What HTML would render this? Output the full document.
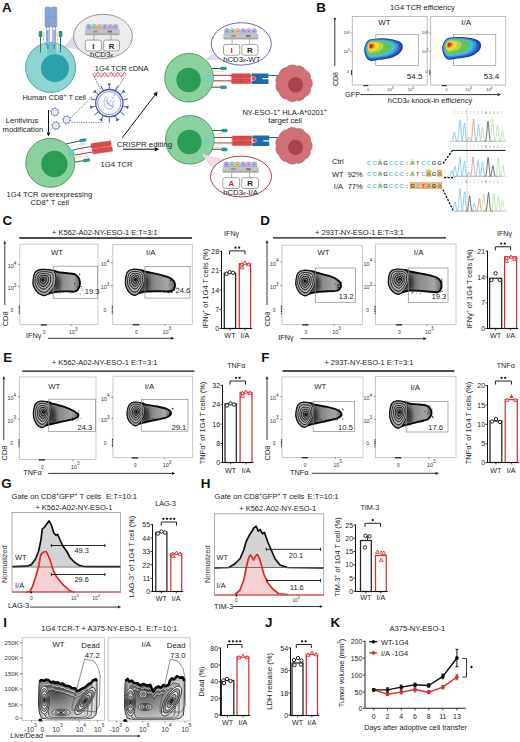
<!DOCTYPE html>
<html><head><meta charset="utf-8"><style>
html,body{margin:0;padding:0;background:#fff;}
svg{display:block;font-family:"Liberation Sans",sans-serif;}
</style></head><body>
<svg width="520" height="742" viewBox="0 0 520 742">
<defs>
<linearGradient id="gtail" x1="0" y1="0" x2="1" y2="0"><stop offset="0" stop-color="#2a2a2a"/><stop offset="0.35" stop-color="#5a5a5a"/><stop offset="0.6" stop-color="#8c8c8c"/><stop offset="0.85" stop-color="#a6a6a6"/><stop offset="1" stop-color="#6a6a6a"/></linearGradient><filter id="bl" x="-50%" y="-50%" width="200%" height="200%"><feGaussianBlur stdDeviation="1.5"/></filter>
<radialGradient id="tcell" cx="0.5" cy="0.5" r="0.5"><stop offset="0" stop-color="#b04a50"/><stop offset="1" stop-color="#cf7479"/></radialGradient>
<radialGradient id="giw" cx="0.3" cy="0.35" r="0.7"><stop offset="0" stop-color="#4a4a4a"/><stop offset="0.45" stop-color="#8a8a8a"/><stop offset="1" stop-color="#cfcfcf"/></radialGradient>
<radialGradient id="gia" cx="0.35" cy="0.35" r="0.7"><stop offset="0" stop-color="#4a4a4a"/><stop offset="0.45" stop-color="#8a8a8a"/><stop offset="1" stop-color="#cfcfcf"/></radialGradient>
</defs>
<text x="1.9" y="11.8" font-size="13.4" text-anchor="start" fill="#111" font-weight="bold">A</text>
<path d="M64,47 L79,28 L80,50 Z" fill="#dcdcec" stroke="none" stroke-width="1"/>
<circle cx="50.6" cy="67.5" r="25" fill="#8ed4d1" stroke="#4a9e9e" stroke-width="0.9"/>
<rect x="47" y="44" width="9" height="13" fill="#74c8c6" stroke="none" stroke-width="1" rx="0"/>
<circle cx="55" cy="68.2" r="14" fill="#2ba2aa" stroke="none" stroke-width="1"/>
<line x1="40.5" y1="36" x2="40.5" y2="52.5" stroke="#1f7f77" stroke-width="1.0"/>
<line x1="60.5" y1="36" x2="60.5" y2="52.5" stroke="#1f7f77" stroke-width="1.0"/>
<line x1="43.5" y1="36" x2="43.5" y2="50" stroke="#b8dcc0" stroke-width="1.0"/>
<line x1="57.5" y1="36" x2="57.5" y2="50" stroke="#f2d8a8" stroke-width="1.0"/>
<rect x="45" y="7" width="5.6" height="20" fill="#8aa3d6" stroke="#6e88c0" stroke-width="0.5" rx="1"/>
<rect x="51.2" y="7" width="5.6" height="20" fill="#8aa3d6" stroke="#6e88c0" stroke-width="0.5" rx="1"/>
<line x1="45.5" y1="17" x2="50.2" y2="17" stroke="#6e88c0" stroke-width="0.5"/>
<line x1="51.7" y1="17" x2="56.4" y2="17" stroke="#6e88c0" stroke-width="0.5"/>
<rect x="46.6" y="27" width="2.6" height="18" fill="#fff" stroke="#5a78b8" stroke-width="0.6" rx="0"/>
<rect x="52.8" y="27" width="2.6" height="18" fill="#fff" stroke="#5a78b8" stroke-width="0.6" rx="0"/>
<line x1="47.9" y1="30" x2="47.9" y2="49" stroke="#3d62b0" stroke-width="0.9"/>
<line x1="54.1" y1="30" x2="54.1" y2="49" stroke="#3d62b0" stroke-width="0.9"/>
<rect x="38.8" y="31" width="3.6" height="6" fill="#239387" stroke="none" stroke-width="1" rx="1"/>
<rect x="58.8" y="31" width="3.6" height="6" fill="#239387" stroke="none" stroke-width="1" rx="1"/>
<rect x="42.2" y="32" width="2.8" height="5" fill="#d5e8cc" stroke="none" stroke-width="1" rx="1"/>
<rect x="56.2" y="32" width="2.8" height="5" fill="#f6ddb0" stroke="none" stroke-width="1" rx="1"/>
<ellipse cx="103" cy="36.4" rx="29.4" ry="22.1" fill="#ececec" stroke="#8a8a8a" stroke-width="0.9"/>
<path d="M86.30,29.30 v-3.4 q0,-1.6 2.43,-1.7 q2.43,0.1 2.43,1.7 v3.4 z" fill="#a2aee6" stroke="#8080b0" stroke-width="0.3"/>
<circle cx="88.73333333333333" cy="27.0" r="0.5" fill="#444" stroke="none" stroke-width="1"/>
<path d="M91.67,29.30 v-3.4 q0,-1.6 2.43,-1.7 q2.43,0.1 2.43,1.7 v3.4 z" fill="#96d4a8" stroke="#8080b0" stroke-width="0.3"/>
<circle cx="94.1" cy="27.0" r="0.5" fill="#444" stroke="none" stroke-width="1"/>
<path d="M97.03,29.30 v-3.4 q0,-1.6 2.43,-1.7 q2.43,0.1 2.43,1.7 v3.4 z" fill="#f5b87a" stroke="#8080b0" stroke-width="0.3"/>
<circle cx="99.46666666666667" cy="27.0" r="0.5" fill="#444" stroke="none" stroke-width="1"/>
<path d="M102.40,29.30 v-3.4 q0,-1.6 2.43,-1.7 q2.43,0.1 2.43,1.7 v3.4 z" fill="#a8b2e8" stroke="#8080b0" stroke-width="0.3"/>
<circle cx="104.83333333333334" cy="27.0" r="0.5" fill="#444" stroke="none" stroke-width="1"/>
<path d="M107.77,29.30 v-3.4 q0,-1.6 2.43,-1.7 q2.43,0.1 2.43,1.7 v3.4 z" fill="#cfa6e6" stroke="#8080b0" stroke-width="0.3"/>
<circle cx="110.2" cy="27.0" r="0.5" fill="#444" stroke="none" stroke-width="1"/>
<path d="M113.13,29.30 v-3.4 q0,-1.6 2.43,-1.7 q2.43,0.1 2.43,1.7 v3.4 z" fill="#a6b4ea" stroke="#8080b0" stroke-width="0.3"/>
<circle cx="115.56666666666666" cy="27.0" r="0.5" fill="#444" stroke="none" stroke-width="1"/>
<rect x="85.3" y="29.6" width="34.2" height="5.4" fill="#c4c4c4" stroke="#a0a0a0" stroke-width="0.3" rx="0.8"/>
<rect x="85.8" y="33.2" width="33.2" height="1.6" fill="#a8a8a8" stroke="none" stroke-width="1" rx="0"/>
<rect x="92.824" y="30.700000000000003" width="4.788000000000001" height="1.8" fill="#b08a8a" stroke="none" stroke-width="1" rx="0"/>
<rect x="107.872" y="30.700000000000003" width="4.104" height="1.8" fill="#707070" stroke="none" stroke-width="1" rx="0"/>
<line x1="93.85" y1="35.0" x2="93.85" y2="40.1" stroke="#666" stroke-width="0.5"/>
<line x1="110.95" y1="35.0" x2="110.95" y2="40.1" stroke="#666" stroke-width="0.5"/>
<rect x="85.3" y="40.1" width="16.1" height="10.8" fill="#fff" stroke="#666" stroke-width="0.6" rx="2.2"/>
<rect x="103.4" y="40.1" width="16.1" height="10.8" fill="#fff" stroke="#666" stroke-width="0.6" rx="2.2"/>
<text x="93.35" y="48.5" font-size="7.8" text-anchor="middle" fill="#222" font-weight="bold">I</text>
<text x="111.45" y="48.5" font-size="7.8" text-anchor="middle" fill="#222" font-weight="bold">R</text>
<text x="101.5" y="57.2" font-size="8" text-anchor="middle" fill="#222">hCD3<tspan font-size="6" font-style="italic">&#949;</tspan></text>
<text x="22.5" y="99.7" font-size="7.45" text-anchor="start" fill="#222">Human CD8<tspan font-size="5.2" dy="-3.0">+</tspan><tspan dy="3.0"> T cell</tspan></text>
<text x="94.8" y="71.3" font-size="7.6" text-anchor="start" fill="#222">1G4 TCR cDNA</text>
<polyline points="93.00,74.60 93.50,75.61 94.00,76.39 94.50,76.78 95.00,76.68 95.50,76.13 96.00,75.23 96.50,74.20 97.00,73.25 97.50,72.61 98.00,72.40 98.50,72.68 99.00,73.39 99.50,74.36 100.00,75.39 100.50,76.24 101.00,76.73 101.50,76.75 102.00,76.29 102.50,75.46 103.00,74.43 103.50,73.45 104.00,72.72 104.50,72.41 105.00,72.58 105.50,73.20 106.00,74.13 106.50,75.16 107.00,76.07 107.50,76.66 108.00,76.79 108.50,76.43 109.00,75.67 109.50,74.67 110.00,73.66 110.50,72.85 111.00,72.44 111.50,72.50 112.00,73.02 112.50,73.90 113.00,74.93 113.50,75.89 114.00,76.56 114.50,76.80 115.00,76.55 115.50,75.87 116.00,74.91 116.50,73.88 117.00,73.01 117.50,72.49 118.00,72.44 118.50,72.87 119.00,73.68 119.50,74.69 120.00,75.69 120.50,76.44 121.00,76.79 121.50,76.65 122.00,76.06 122.50,75.14 123.00,74.11 123.50,73.18 124.00,72.57 124.50,72.41 125.00,72.73 125.50,73.47 126.00,74.46" fill="none" stroke="#c8485a" stroke-width="1.0"/>
<polyline points="93.00,74.60 93.50,73.59 94.00,72.81 94.50,72.42 95.00,72.52 95.50,73.07 96.00,73.97 96.50,75.00 97.00,75.95 97.50,76.59 98.00,76.80 98.50,76.52 99.00,75.81 99.50,74.84 100.00,73.81 100.50,72.96 101.00,72.47 101.50,72.45 102.00,72.91 102.50,73.74 103.00,74.77 103.50,75.75 104.00,76.48 104.50,76.79 105.00,76.62 105.50,76.00 106.00,75.07 106.50,74.04 107.00,73.13 107.50,72.54 108.00,72.41 108.50,72.77 109.00,73.53 109.50,74.53 110.00,75.54 110.50,76.35 111.00,76.76 111.50,76.70 112.00,76.18 112.50,75.30 113.00,74.27 113.50,73.31 114.00,72.64 114.50,72.40 115.00,72.65 115.50,73.33 116.00,74.29 116.50,75.32 117.00,76.19 117.50,76.71 118.00,76.76 118.50,76.33 119.00,75.52 119.50,74.51 120.00,73.51 120.50,72.76 121.00,72.41 121.50,72.55 122.00,73.14 122.50,74.06 123.00,75.09 123.50,76.02 124.00,76.63 124.50,76.79 125.00,76.47 125.50,75.73 126.00,74.74" fill="none" stroke="#e8a0ac" stroke-width="1.0"/>
<line x1="93.5" y1="73.4" x2="93.5" y2="75.8" stroke="#d88a98" stroke-width="0.4"/>
<line x1="95.5" y1="73.4" x2="95.5" y2="75.8" stroke="#d88a98" stroke-width="0.4"/>
<line x1="97.5" y1="73.4" x2="97.5" y2="75.8" stroke="#d88a98" stroke-width="0.4"/>
<line x1="99.5" y1="73.4" x2="99.5" y2="75.8" stroke="#d88a98" stroke-width="0.4"/>
<line x1="101.5" y1="73.4" x2="101.5" y2="75.8" stroke="#d88a98" stroke-width="0.4"/>
<line x1="103.5" y1="73.4" x2="103.5" y2="75.8" stroke="#d88a98" stroke-width="0.4"/>
<line x1="105.5" y1="73.4" x2="105.5" y2="75.8" stroke="#d88a98" stroke-width="0.4"/>
<line x1="107.5" y1="73.4" x2="107.5" y2="75.8" stroke="#d88a98" stroke-width="0.4"/>
<line x1="109.5" y1="73.4" x2="109.5" y2="75.8" stroke="#d88a98" stroke-width="0.4"/>
<line x1="111.5" y1="73.4" x2="111.5" y2="75.8" stroke="#d88a98" stroke-width="0.4"/>
<line x1="113.5" y1="73.4" x2="113.5" y2="75.8" stroke="#d88a98" stroke-width="0.4"/>
<line x1="115.5" y1="73.4" x2="115.5" y2="75.8" stroke="#d88a98" stroke-width="0.4"/>
<line x1="117.5" y1="73.4" x2="117.5" y2="75.8" stroke="#d88a98" stroke-width="0.4"/>
<line x1="119.5" y1="73.4" x2="119.5" y2="75.8" stroke="#d88a98" stroke-width="0.4"/>
<line x1="121.5" y1="73.4" x2="121.5" y2="75.8" stroke="#d88a98" stroke-width="0.4"/>
<line x1="123.5" y1="73.4" x2="123.5" y2="75.8" stroke="#d88a98" stroke-width="0.4"/>
<line x1="125.5" y1="73.4" x2="125.5" y2="75.8" stroke="#d88a98" stroke-width="0.4"/>
<line x1="94.6" y1="77" x2="100.6" y2="89.6" stroke="#3b4c9c" stroke-width="0.9" stroke-dasharray="1.2,1.2"/>
<line x1="123.5" y1="78.5" x2="115.8" y2="91.3" stroke="#3b4c9c" stroke-width="0.9" stroke-dasharray="1.2,1.2"/>
<line x1="109.3" y1="88.8" x2="109.3" y2="85.6" stroke="#48559f" stroke-width="0.9"/>
<path d="M109.30,86.60 L111.20,83.60 L107.40,83.60 Z" fill="#48559f" stroke="none" stroke-width="1"/>
<line x1="115.50453746938108" y1="90.2161451889954" x2="117.67395616496887" y2="85.71130084948331" stroke="#48559f" stroke-width="1.0"/>
<line x1="120.48019019929282" y1="94.1840958334201" x2="122.98205094319052" y2="92.18892846747215" stroke="#48559f" stroke-width="0.9"/>
<path d="M122.20,92.81 L125.73,92.43 L123.36,89.46 Z" fill="#48559f" stroke="none" stroke-width="1"/>
<line x1="123.24146914420008" y1="99.91795064442469" x2="128.11610870510918" y2="98.80534597464313" stroke="#48559f" stroke-width="1.0"/>
<line x1="123.24146914420008" y1="106.2820493555753" x2="126.3612384631819" y2="106.9941163442355" stroke="#48559f" stroke-width="0.9"/>
<path d="M125.39,106.77 L127.89,109.29 L128.73,105.59 Z" fill="#48559f" stroke="none" stroke-width="1"/>
<line x1="120.48019019929282" y1="112.01590416657989" x2="124.38934761163297" y2="115.13335317587355" stroke="#48559f" stroke-width="1.0"/>
<line x1="115.50453746938108" y1="115.98385481100459" x2="116.89296543455727" y2="118.86695518829234" stroke="#48559f" stroke-width="0.9"/>
<path d="M116.46,117.97 L116.05,121.49 L119.47,119.84 Z" fill="#48559f" stroke="none" stroke-width="1"/>
<line x1="109.3" y1="117.39999999999999" x2="109.3" y2="122.39999999999999" stroke="#48559f" stroke-width="1.0"/>
<line x1="103.09546253061892" y1="115.98385481100459" x2="101.70703456544273" y2="118.86695518829234" stroke="#48559f" stroke-width="0.9"/>
<path d="M102.14,117.97 L99.13,119.84 L102.55,121.49 Z" fill="#48559f" stroke="none" stroke-width="1"/>
<line x1="98.11980980070717" y1="112.01590416657989" x2="94.21065238836702" y2="115.13335317587355" stroke="#48559f" stroke-width="1.0"/>
<line x1="95.35853085579991" y1="106.2820493555753" x2="92.23876153681809" y2="106.9941163442355" stroke="#48559f" stroke-width="0.9"/>
<path d="M93.21,106.77 L89.87,105.59 L90.71,109.29 Z" fill="#48559f" stroke="none" stroke-width="1"/>
<line x1="95.35853085579991" y1="99.9179506444247" x2="90.4838912948908" y2="98.80534597464315" stroke="#48559f" stroke-width="1.0"/>
<line x1="98.11980980070717" y1="94.1840958334201" x2="95.61794905680948" y2="92.18892846747215" stroke="#48559f" stroke-width="0.9"/>
<path d="M96.40,92.81 L95.24,89.46 L92.87,92.43 Z" fill="#48559f" stroke="none" stroke-width="1"/>
<line x1="103.09546253061893" y1="90.2161451889954" x2="100.92604383503114" y2="85.7113008494833" stroke="#48559f" stroke-width="1.0"/>
<circle cx="109.3" cy="103.1" r="13.6" fill="#fff" stroke="#48559f" stroke-width="1.3"/>
<circle cx="109.3" cy="103.1" r="11.6" fill="#fbfbff" stroke="#6a78bb" stroke-width="0.8"/>
<path d="M106.3,97.1 C101.3,101.1 105.3,110.1 110.3,109.1 C115.3,108.1 111.3,102.1 114.3,100.1 M108.3,98.1 C104.3,103.1 109.3,107.1 112.3,105.1 M106.3,100.1 C107.3,104.1 111.3,106.1 113.3,107.1" fill="none" stroke="#7a88c8" stroke-width="0.6"/>
<line x1="108.3" y1="104.1" x2="115.3" y2="94.1" stroke="#48559f" stroke-width="0.7" stroke-dasharray="1,1"/>
<line x1="58.13222636466022" y1="112.6754757247032" x2="59.70033288920621" y2="112.99334665397531" stroke="#6a78c0" stroke-width="0.7"/>
<line x1="56.6786063934353" y1="114.83387332436438" x2="57.56265646093427" y2="116.16746077112408" stroke="#6a78c0" stroke-width="0.7"/>
<line x1="54.12452427529679" y1="115.33222636466022" x2="53.80665334602469" y2="116.90033288920621" stroke="#6a78c0" stroke-width="0.7"/>
<line x1="51.96612667563562" y1="113.8786063934353" x2="50.63253922887591" y2="114.76265646093427" stroke="#6a78c0" stroke-width="0.7"/>
<line x1="51.467773635339775" y1="111.3245242752968" x2="49.899667110793786" y2="111.00665334602469" stroke="#6a78c0" stroke-width="0.7"/>
<line x1="52.92139360656469" y1="109.16612667563562" x2="52.03734353906573" y2="107.83253922887592" stroke="#6a78c0" stroke-width="0.7"/>
<line x1="55.4754757247032" y1="108.66777363533978" x2="55.793346653975306" y2="107.09966711079379" stroke="#6a78c0" stroke-width="0.7"/>
<line x1="57.63387332436437" y1="110.1213936065647" x2="58.96746077112408" y2="109.23734353906573" stroke="#6a78c0" stroke-width="0.7"/>
<circle cx="54.8" cy="112" r="3.5" fill="#fff" stroke="#6a78c0" stroke-width="0.9"/>
<circle cx="54.8" cy="112" r="1.5" fill="none" stroke="#9aa6d8" stroke-width="0.5"/>
<line x1="59.13222636466022" y1="126.2754757247032" x2="60.70033288920621" y2="126.5933466539753" stroke="#6a78c0" stroke-width="0.7"/>
<line x1="57.6786063934353" y1="128.43387332436436" x2="58.56265646093427" y2="129.76746077112406" stroke="#6a78c0" stroke-width="0.7"/>
<line x1="55.12452427529679" y1="128.9322263646602" x2="54.80665334602469" y2="130.5003328892062" stroke="#6a78c0" stroke-width="0.7"/>
<line x1="52.96612667563562" y1="127.4786063934353" x2="51.63253922887591" y2="128.36265646093426" stroke="#6a78c0" stroke-width="0.7"/>
<line x1="52.467773635339775" y1="124.92452427529679" x2="50.899667110793786" y2="124.60665334602469" stroke="#6a78c0" stroke-width="0.7"/>
<line x1="53.92139360656469" y1="122.76612667563562" x2="53.03734353906573" y2="121.43253922887591" stroke="#6a78c0" stroke-width="0.7"/>
<line x1="56.4754757247032" y1="122.26777363533978" x2="56.793346653975306" y2="120.69966711079378" stroke="#6a78c0" stroke-width="0.7"/>
<line x1="58.63387332436437" y1="123.72139360656469" x2="59.96746077112408" y2="122.83734353906573" stroke="#6a78c0" stroke-width="0.7"/>
<circle cx="55.8" cy="125.6" r="3.5" fill="#fff" stroke="#6a78c0" stroke-width="0.9"/>
<circle cx="55.8" cy="125.6" r="1.5" fill="none" stroke="#9aa6d8" stroke-width="0.5"/>
<line x1="69.93222636466021" y1="120.4754757247032" x2="71.5003328892062" y2="120.7933466539753" stroke="#6a78c0" stroke-width="0.7"/>
<line x1="68.4786063934353" y1="122.63387332436437" x2="69.36265646093426" y2="123.96746077112408" stroke="#6a78c0" stroke-width="0.7"/>
<line x1="65.92452427529679" y1="123.13222636466021" x2="65.60665334602469" y2="124.70033288920621" stroke="#6a78c0" stroke-width="0.7"/>
<line x1="63.76612667563562" y1="121.6786063934353" x2="62.43253922887591" y2="122.56265646093426" stroke="#6a78c0" stroke-width="0.7"/>
<line x1="63.26777363533977" y1="119.12452427529679" x2="61.69966711079378" y2="118.80665334602469" stroke="#6a78c0" stroke-width="0.7"/>
<line x1="64.72139360656469" y1="116.96612667563562" x2="63.83734353906573" y2="115.63253922887591" stroke="#6a78c0" stroke-width="0.7"/>
<line x1="67.2754757247032" y1="116.46777363533978" x2="67.5933466539753" y2="114.89966711079379" stroke="#6a78c0" stroke-width="0.7"/>
<line x1="69.43387332436437" y1="117.92139360656469" x2="70.76746077112408" y2="117.03734353906573" stroke="#6a78c0" stroke-width="0.7"/>
<circle cx="66.6" cy="119.8" r="3.5" fill="#fff" stroke="#6a78c0" stroke-width="0.9"/>
<circle cx="66.6" cy="119.8" r="1.5" fill="none" stroke="#9aa6d8" stroke-width="0.5"/>
<line x1="70.5" y1="118" x2="92.5" y2="96.3" stroke="#3b4c9c" stroke-width="0.8" stroke-dasharray="1.2,1.2"/>
<line x1="71.5" y1="122.3" x2="103.5" y2="122.3" stroke="#3b4c9c" stroke-width="0.8" stroke-dasharray="1.2,1.2"/>
<text x="5.8" y="122.7" font-size="7.6" text-anchor="start" fill="#222">Lentivirus</text>
<text x="2.6" y="131.6" font-size="7.6" text-anchor="start" fill="#222">modification</text>
<line x1="48.5" y1="110" x2="48.5" y2="132.5" stroke="#111" stroke-width="1"/>
<path d="M48.50,136.50 L46.50,132.50 L50.50,132.50 Z" fill="#111" stroke="none" stroke-width="1"/>
<line x1="66.3" y1="143.8" x2="80" y2="141" stroke="#2a3a3a" stroke-width="0.9"/>
<rect x="79.4" y="138.6" width="6.9" height="3.3" fill="#2a9a90" stroke="none" stroke-width="1" rx="1" transform="rotate(-10 83 140)"/>
<line x1="70" y1="146.5" x2="79" y2="144.5" stroke="#d0ecd8" stroke-width="1.2"/>
<rect x="78.8" y="143.2" width="7.5" height="2.2" fill="#cfeee0" stroke="none" stroke-width="1" rx="0.8" transform="rotate(-6 82 144)"/>
<line x1="74" y1="149.6" x2="91.5" y2="146.4" stroke="#8b2030" stroke-width="0.9"/>
<line x1="75" y1="155" x2="92.5" y2="152" stroke="#8b2030" stroke-width="0.9"/>
<line x1="75" y1="157.5" x2="88" y2="156.5" stroke="#f0d8b0" stroke-width="1.0"/>
<line x1="70" y1="163" x2="83.8" y2="160.6" stroke="#2a3a3a" stroke-width="0.9"/>
<rect x="83.1" y="158.6" width="6.9" height="3.3" fill="#2a9a90" stroke="none" stroke-width="1" rx="1" transform="rotate(-8 86.5 160.2)"/>
<circle cx="50.3" cy="162.8" r="24.5" fill="#8bd09f" stroke="#3f9a5f" stroke-width="0.9"/>
<circle cx="54.4" cy="164" r="13.2" fill="#2a9c56" stroke="none" stroke-width="1"/>
<path d="M68,150 L74,149 L75,156 L69,157 Z" fill="#6cc7b6" stroke="none" stroke-width="1"/>
<g transform="rotate(-8 101.6 147.4)">
<rect x="91.5" y="142.2" width="20" height="4.9" fill="#dd4a4c" stroke="#b83236" stroke-width="0.4" rx="0.8"/>
<rect x="92" y="147.8" width="20" height="4.9" fill="#dd4a4c" stroke="#b83236" stroke-width="0.4" rx="0.8"/>
<line x1="100.5" y1="142.2" x2="100.5" y2="152.7" stroke="#b83236" stroke-width="0.3"/>
</g>
<text x="100.6" y="167" font-size="7.6" text-anchor="start" fill="#222">1G4 TCR</text>
<text x="6.6" y="196.8" font-size="7.6" text-anchor="start" fill="#222">1G4 TCR overexpressing</text>
<text x="30.6" y="205" font-size="7.6" text-anchor="start" fill="#222">CD8<tspan font-size="5.3" dy="-3.0">+</tspan><tspan dy="3.0"> T cell</tspan></text>
<line x1="122.3" y1="137.7" x2="154.96303203822103" y2="95.07197513655898" stroke="#111" stroke-width="1"/>
<path d="M157.70,91.50 L156.71,96.41 L153.22,93.73 Z" fill="#111" stroke="none" stroke-width="1"/>
<line x1="123" y1="149.2" x2="154.7" y2="149.2" stroke="#111" stroke-width="1"/>
<path d="M159.20,149.20 L154.70,151.40 L154.70,147.00 Z" fill="#111" stroke="none" stroke-width="1"/>
<line x1="205" y1="68.5" x2="221" y2="68.5" stroke="#2a3a3a" stroke-width="0.9"/>
<path d="M206,68.5 l3,-1.2 l0,2.4 z" fill="#b03030" stroke="none" stroke-width="1"/>
<rect x="220.5" y="66.7" width="6.2" height="3.4" fill="#2a9a90" stroke="none" stroke-width="1" rx="1"/>
<line x1="209" y1="71.5" x2="224" y2="71.5" stroke="#d6ead0" stroke-width="1"/>
<line x1="209" y1="85.4" x2="224" y2="85.4" stroke="#f3dfba" stroke-width="1"/>
<line x1="205" y1="87.2" x2="221" y2="87.2" stroke="#2a3a3a" stroke-width="0.9"/>
<path d="M206,87.2 l3,-1.2 l0,2.4 z" fill="#b03030" stroke="none" stroke-width="1"/>
<rect x="220.5" y="85.7" width="6.2" height="3.4" fill="#2a9a90" stroke="none" stroke-width="1" rx="1"/>
<rect x="209" y="74.0" width="22" height="8" fill="#fff" stroke="#e8c8c8" stroke-width="0.4" rx="0"/>
<line x1="207" y1="75.4" x2="231.5" y2="75.4" stroke="#9a2a30" stroke-width="0.9"/>
<line x1="207" y1="80.8" x2="231.5" y2="80.8" stroke="#9a2a30" stroke-width="0.9"/>
<circle cx="189" cy="77.7" r="24.3" fill="#8bd09f" stroke="#3f9a5f" stroke-width="0.9"/>
<circle cx="188.6" cy="80" r="12.2" fill="#2a9c56" stroke="none" stroke-width="1"/>
<rect x="203" y="75.7" width="10" height="6" fill="#7ccdb6" stroke="none" stroke-width="1" rx="0" opacity="0.8"/>
<rect x="231.5" y="73.8" width="19.3" height="4.6" fill="#dd4a4c" stroke="#b83236" stroke-width="0.4" rx="0.8"/>
<rect x="231.5" y="78.9" width="19.3" height="4.6" fill="#dd4a4c" stroke="#b83236" stroke-width="0.4" rx="0.8"/>
<line x1="241" y1="73.8" x2="241" y2="83.5" stroke="#b83236" stroke-width="0.4"/>
<path d="M251.5,73.5 h17 v4.6 h-6 v1.2 h6 v4.6 h-17 v-3 a2,2 0 0 0 0,-4.4 z" fill="#1f6da6" stroke="none" stroke-width="1"/>
<circle cx="253.6" cy="78.5" r="2" fill="#e04040" stroke="#fff" stroke-width="0.4"/>
<line x1="268.5" y1="75.4" x2="279" y2="75.4" stroke="#1f5f90" stroke-width="1"/>
<line x1="205.8" y1="130.60000000000002" x2="221.8" y2="130.60000000000002" stroke="#2a3a3a" stroke-width="0.9"/>
<path d="M206.8,130.60000000000002 l3,-1.2 l0,2.4 z" fill="#b03030" stroke="none" stroke-width="1"/>
<rect x="221.3" y="128.8" width="6.2" height="3.4" fill="#2a9a90" stroke="none" stroke-width="1" rx="1"/>
<line x1="209.8" y1="133.60000000000002" x2="224.8" y2="133.60000000000002" stroke="#d6ead0" stroke-width="1"/>
<line x1="209.8" y1="147.5" x2="224.8" y2="147.5" stroke="#f3dfba" stroke-width="1"/>
<line x1="205.8" y1="149.3" x2="221.8" y2="149.3" stroke="#2a3a3a" stroke-width="0.9"/>
<path d="M206.8,149.3 l3,-1.2 l0,2.4 z" fill="#b03030" stroke="none" stroke-width="1"/>
<rect x="221.3" y="147.8" width="6.2" height="3.4" fill="#2a9a90" stroke="none" stroke-width="1" rx="1"/>
<rect x="209.8" y="136.10000000000002" width="22" height="8" fill="#fff" stroke="#e8c8c8" stroke-width="0.4" rx="0"/>
<line x1="207.8" y1="137.5" x2="232.3" y2="137.5" stroke="#9a2a30" stroke-width="0.9"/>
<line x1="207.8" y1="142.9" x2="232.3" y2="142.9" stroke="#9a2a30" stroke-width="0.9"/>
<circle cx="189.8" cy="139.8" r="24.3" fill="#8bd09f" stroke="#3f9a5f" stroke-width="0.9"/>
<circle cx="189.4" cy="142" r="12.2" fill="#2a9c56" stroke="none" stroke-width="1"/>
<rect x="203.8" y="137.8" width="10" height="6" fill="#7ccdb6" stroke="none" stroke-width="1" rx="0" opacity="0.8"/>
<rect x="232.3" y="135.9" width="19.3" height="4.6" fill="#dd4a4c" stroke="#b83236" stroke-width="0.4" rx="0.8"/>
<rect x="232.3" y="141.0" width="19.3" height="4.6" fill="#dd4a4c" stroke="#b83236" stroke-width="0.4" rx="0.8"/>
<line x1="241.8" y1="135.9" x2="241.8" y2="145.60000000000002" stroke="#b83236" stroke-width="0.4"/>
<path d="M252.3,135.60000000000002 h17 v4.6 h-6 v1.2 h6 v4.6 h-17 v-3 a2,2 0 0 0 0,-4.4 z" fill="#1f6da6" stroke="none" stroke-width="1"/>
<circle cx="254.4" cy="140.60000000000002" r="2" fill="#e04040" stroke="#fff" stroke-width="0.4"/>
<line x1="269.3" y1="137.5" x2="279.8" y2="137.5" stroke="#1f5f90" stroke-width="1"/>
<text x="116.8" y="146.5" font-size="7.9" text-anchor="start" fill="#222">CRISPR editing</text>
<polygon points="312.30,83.30 312.25,84.17 312.12,85.04 311.89,85.89 311.57,86.70 311.13,87.48 310.40,88.15 310.66,89.10 310.60,89.99 310.43,90.85 310.17,91.69 309.81,92.49 309.38,93.25 308.87,93.96 308.29,94.61 307.64,95.20 306.92,95.72 306.14,96.13 305.16,96.30 304.86,97.24 304.34,97.96 303.73,98.59 303.05,99.15 302.32,99.63 301.54,100.04 300.73,100.36 299.89,100.59 299.02,100.74 298.14,100.78 297.26,100.71 296.35,100.32 295.59,100.95 294.76,101.27 293.90,101.47 293.03,101.58 292.15,101.59 291.28,101.51 290.42,101.34 289.59,101.08 288.78,100.74 288.02,100.30 287.31,99.76 286.75,98.95 285.77,99.06 284.90,98.88 284.07,98.59 283.28,98.21 282.54,97.74 281.85,97.21 281.22,96.60 280.66,95.93 280.16,95.20 279.76,94.42 279.45,93.59 279.43,92.60 278.54,92.17 277.91,91.54 277.37,90.85 276.91,90.10 276.54,89.31 276.25,88.48 276.04,87.63 275.93,86.76 275.91,85.89 275.99,85.01 276.19,84.14 276.70,83.30 276.19,82.46 275.99,81.59 275.91,80.71 275.93,79.84 276.04,78.97 276.25,78.12 276.54,77.29 276.91,76.50 277.37,75.75 277.91,75.06 278.54,74.43 279.43,74.00 279.45,73.01 279.76,72.18 280.16,71.40 280.66,70.67 281.22,70.00 281.85,69.39 282.54,68.86 283.28,68.39 284.07,68.01 284.90,67.72 285.77,67.54 286.75,67.65 287.31,66.84 288.02,66.30 288.78,65.86 289.59,65.52 290.42,65.26 291.28,65.09 292.15,65.01 293.03,65.02 293.90,65.13 294.76,65.33 295.59,65.65 296.35,66.28 297.26,65.89 298.14,65.82 299.02,65.86 299.89,66.01 300.73,66.24 301.54,66.56 302.32,66.97 303.05,67.45 303.73,68.01 304.34,68.64 304.86,69.36 305.16,70.30 306.14,70.47 306.92,70.88 307.64,71.40 308.29,71.99 308.87,72.64 309.38,73.35 309.81,74.11 310.17,74.91 310.43,75.75 310.60,76.61 310.66,77.50 310.40,78.45 311.13,79.12 311.57,79.90 311.89,80.71 312.12,81.56 312.25,82.43" fill="#d06f76" stroke="#b95a62" stroke-width="0.6" stroke-linejoin="round"/>
<circle cx="295.59999999999997" cy="84.8" r="7.6" fill="#a8434c" stroke="none" stroke-width="1"/>
<polygon points="312.20,145.80 312.15,146.67 312.02,147.54 311.79,148.39 311.47,149.20 311.03,149.98 310.30,150.65 310.56,151.60 310.50,152.49 310.33,153.35 310.07,154.19 309.71,154.99 309.28,155.75 308.77,156.46 308.19,157.11 307.54,157.70 306.82,158.22 306.04,158.63 305.06,158.80 304.76,159.74 304.24,160.46 303.63,161.09 302.95,161.65 302.22,162.13 301.44,162.54 300.63,162.86 299.79,163.09 298.92,163.24 298.04,163.28 297.16,163.21 296.25,162.82 295.49,163.45 294.66,163.77 293.80,163.97 292.93,164.08 292.05,164.09 291.18,164.01 290.32,163.84 289.49,163.58 288.68,163.24 287.92,162.80 287.21,162.26 286.65,161.45 285.67,161.56 284.80,161.38 283.97,161.09 283.18,160.71 282.44,160.24 281.75,159.71 281.12,159.10 280.56,158.43 280.06,157.70 279.66,156.92 279.35,156.09 279.33,155.10 278.44,154.67 277.81,154.04 277.27,153.35 276.81,152.60 276.44,151.81 276.15,150.98 275.94,150.13 275.83,149.26 275.81,148.39 275.89,147.51 276.09,146.64 276.60,145.80 276.09,144.96 275.89,144.09 275.81,143.21 275.83,142.34 275.94,141.47 276.15,140.62 276.44,139.79 276.81,139.00 277.27,138.25 277.81,137.56 278.44,136.93 279.33,136.50 279.35,135.51 279.66,134.68 280.06,133.90 280.56,133.17 281.12,132.50 281.75,131.89 282.44,131.36 283.18,130.89 283.97,130.51 284.80,130.22 285.67,130.04 286.65,130.15 287.21,129.34 287.92,128.80 288.68,128.36 289.49,128.02 290.32,127.76 291.18,127.59 292.05,127.51 292.93,127.52 293.80,127.63 294.66,127.83 295.49,128.15 296.25,128.78 297.16,128.39 298.04,128.32 298.92,128.36 299.79,128.51 300.63,128.74 301.44,129.06 302.22,129.47 302.95,129.95 303.63,130.51 304.24,131.14 304.76,131.86 305.06,132.80 306.04,132.97 306.82,133.38 307.54,133.90 308.19,134.49 308.77,135.14 309.28,135.85 309.71,136.61 310.07,137.41 310.33,138.25 310.50,139.11 310.56,140.00 310.30,140.95 311.03,141.62 311.47,142.40 311.79,143.21 312.02,144.06 312.15,144.93" fill="#d06f76" stroke="#b95a62" stroke-width="0.6" stroke-linejoin="round"/>
<circle cx="295.5" cy="147.3" r="7.6" fill="#a8434c" stroke="none" stroke-width="1"/>
<text x="284.7" y="115.4" font-size="7.5" text-anchor="middle" fill="#222">NY-ESO-1<tspan font-size="5.2" dy="-3.0">+</tspan><tspan dy="3.0"> HLA-A*0201</tspan><tspan font-size="5.2" dy="-3">+</tspan></text>
<text x="285.2" y="122.9" font-size="7.8" text-anchor="middle" fill="#222">target cell</text>
<path d="M204,60 L218,50 L224,60 Z" fill="#dcdcee" stroke="none" stroke-width="1"/>
<ellipse cx="241.3" cy="43.9" rx="30" ry="21.2" fill="#fff" stroke="#4a5aa8" stroke-width="0.9"/>
<path d="M224.50,33.60 v-3.4 q0,-1.6 2.46,-1.7 q2.46,0.1 2.46,1.7 v3.4 z" fill="#a2aee6" stroke="#8080b0" stroke-width="0.3"/>
<circle cx="226.95833333333334" cy="31.299999999999997" r="0.5" fill="#444" stroke="none" stroke-width="1"/>
<path d="M229.92,33.60 v-3.4 q0,-1.6 2.46,-1.7 q2.46,0.1 2.46,1.7 v3.4 z" fill="#96d4a8" stroke="#8080b0" stroke-width="0.3"/>
<circle cx="232.375" cy="31.299999999999997" r="0.5" fill="#444" stroke="none" stroke-width="1"/>
<path d="M235.33,33.60 v-3.4 q0,-1.6 2.46,-1.7 q2.46,0.1 2.46,1.7 v3.4 z" fill="#f5b87a" stroke="#8080b0" stroke-width="0.3"/>
<circle cx="237.79166666666669" cy="31.299999999999997" r="0.5" fill="#444" stroke="none" stroke-width="1"/>
<path d="M240.75,33.60 v-3.4 q0,-1.6 2.46,-1.7 q2.46,0.1 2.46,1.7 v3.4 z" fill="#a8b2e8" stroke="#8080b0" stroke-width="0.3"/>
<circle cx="243.20833333333334" cy="31.299999999999997" r="0.5" fill="#444" stroke="none" stroke-width="1"/>
<path d="M246.17,33.60 v-3.4 q0,-1.6 2.46,-1.7 q2.46,0.1 2.46,1.7 v3.4 z" fill="#cfa6e6" stroke="#8080b0" stroke-width="0.3"/>
<circle cx="248.625" cy="31.299999999999997" r="0.5" fill="#444" stroke="none" stroke-width="1"/>
<path d="M251.58,33.60 v-3.4 q0,-1.6 2.46,-1.7 q2.46,0.1 2.46,1.7 v3.4 z" fill="#a6b4ea" stroke="#8080b0" stroke-width="0.3"/>
<circle cx="254.04166666666669" cy="31.299999999999997" r="0.5" fill="#444" stroke="none" stroke-width="1"/>
<rect x="223.5" y="33.9" width="34.5" height="5.4" fill="#c4c4c4" stroke="#a0a0a0" stroke-width="0.3" rx="0.8"/>
<rect x="224.0" y="37.5" width="33.5" height="1.6" fill="#a8a8a8" stroke="none" stroke-width="1" rx="0"/>
<rect x="231.09" y="35.0" width="4.83" height="1.8" fill="#b08a8a" stroke="none" stroke-width="1" rx="0"/>
<rect x="246.27" y="35.0" width="4.14" height="1.8" fill="#707070" stroke="none" stroke-width="1" rx="0"/>
<line x1="232.125" y1="39.3" x2="232.125" y2="44.4" stroke="#666" stroke-width="0.5"/>
<line x1="249.375" y1="39.3" x2="249.375" y2="44.4" stroke="#666" stroke-width="0.5"/>
<rect x="223.5" y="44.4" width="16.25" height="10.8" fill="#fff" stroke="#666" stroke-width="0.6" rx="2.2"/>
<rect x="241.75" y="44.4" width="16.25" height="10.8" fill="#fff" stroke="#666" stroke-width="0.6" rx="2.2"/>
<text x="231.625" y="52.8" font-size="7.8" text-anchor="middle" fill="#c23030" font-weight="bold">I</text>
<text x="249.875" y="52.8" font-size="7.8" text-anchor="middle" fill="#222" font-weight="bold">R</text>
<text x="241.8" y="61.5" font-size="7.8" text-anchor="middle" fill="#222">hCD3<tspan font-size="6" font-style="italic">&#949;</tspan>-WT</text>
<path d="M202,154 L213,170 L228,160 Z" fill="#f6dde2" stroke="none" stroke-width="1"/>
<ellipse cx="241" cy="176.5" rx="30.5" ry="20.4" fill="#fff" stroke="#9b3040" stroke-width="0.9"/>
<path d="M223.80,166.90 v-3.4 q0,-1.6 2.56,-1.7 q2.56,0.1 2.56,1.7 v3.4 z" fill="#a2aee6" stroke="#8080b0" stroke-width="0.3"/>
<circle cx="226.35833333333335" cy="164.6" r="0.5" fill="#444" stroke="none" stroke-width="1"/>
<path d="M229.42,166.90 v-3.4 q0,-1.6 2.56,-1.7 q2.56,0.1 2.56,1.7 v3.4 z" fill="#96d4a8" stroke="#8080b0" stroke-width="0.3"/>
<circle cx="231.97500000000002" cy="164.6" r="0.5" fill="#444" stroke="none" stroke-width="1"/>
<path d="M235.03,166.90 v-3.4 q0,-1.6 2.56,-1.7 q2.56,0.1 2.56,1.7 v3.4 z" fill="#f5b87a" stroke="#8080b0" stroke-width="0.3"/>
<circle cx="237.59166666666667" cy="164.6" r="0.5" fill="#444" stroke="none" stroke-width="1"/>
<path d="M240.65,166.90 v-3.4 q0,-1.6 2.56,-1.7 q2.56,0.1 2.56,1.7 v3.4 z" fill="#a8b2e8" stroke="#8080b0" stroke-width="0.3"/>
<circle cx="243.20833333333334" cy="164.6" r="0.5" fill="#444" stroke="none" stroke-width="1"/>
<path d="M246.27,166.90 v-3.4 q0,-1.6 2.56,-1.7 q2.56,0.1 2.56,1.7 v3.4 z" fill="#cfa6e6" stroke="#8080b0" stroke-width="0.3"/>
<circle cx="248.82500000000002" cy="164.6" r="0.5" fill="#444" stroke="none" stroke-width="1"/>
<path d="M251.88,166.90 v-3.4 q0,-1.6 2.56,-1.7 q2.56,0.1 2.56,1.7 v3.4 z" fill="#a6b4ea" stroke="#8080b0" stroke-width="0.3"/>
<circle cx="254.44166666666666" cy="164.6" r="0.5" fill="#444" stroke="none" stroke-width="1"/>
<rect x="222.8" y="167.2" width="35.69999999999999" height="5.4" fill="#c4c4c4" stroke="#a0a0a0" stroke-width="0.3" rx="0.8"/>
<rect x="223.3" y="170.79999999999998" width="34.69999999999999" height="1.6" fill="#a8a8a8" stroke="none" stroke-width="1" rx="0"/>
<rect x="230.654" y="168.29999999999998" width="4.997999999999998" height="1.8" fill="#a08888" stroke="none" stroke-width="1" rx="0"/>
<rect x="246.362" y="168.29999999999998" width="4.283999999999999" height="1.8" fill="#707070" stroke="none" stroke-width="1" rx="0"/>
<line x1="231.72500000000002" y1="172.6" x2="231.72500000000002" y2="177.7" stroke="#666" stroke-width="0.5"/>
<line x1="249.575" y1="172.6" x2="249.575" y2="177.7" stroke="#666" stroke-width="0.5"/>
<rect x="222.8" y="177.7" width="16.849999999999994" height="10.8" fill="#fff" stroke="#666" stroke-width="0.6" rx="2.2"/>
<rect x="241.65" y="177.7" width="16.849999999999994" height="10.8" fill="#fff" stroke="#666" stroke-width="0.6" rx="2.2"/>
<text x="231.22500000000002" y="186.1" font-size="7.8" text-anchor="middle" fill="#c23030" font-weight="bold">A</text>
<text x="250.075" y="186.1" font-size="7.8" text-anchor="middle" fill="#222" font-weight="bold">R</text>
<text x="240.5" y="194.79999999999998" font-size="7.8" text-anchor="middle" fill="#222">hCD3<tspan font-size="6" font-style="italic">&#949;</tspan>-I/A</text>
<text x="316.3" y="11.9" font-size="13.4" text-anchor="start" fill="#111" font-weight="bold">B</text>
<text x="422.3" y="10.4" font-size="7.5" text-anchor="middle" fill="#222">1G4 TCR efficiency</text>
<line x1="334.8" y1="19" x2="334.8" y2="66" stroke="#222" stroke-width="0.9"/>
<circle cx="334.8" cy="18.8" r="1.1" fill="#222" stroke="none" stroke-width="1"/>
<text x="337.6" y="79" font-size="7" text-anchor="middle" fill="#222" transform="rotate(-90 337.6 79)">CD8</text>
<rect x="352.3" y="16.5" width="74.89999999999998" height="68.5" fill="none" stroke="#b0b0b0" stroke-width="0.8" rx="0"/>
<line x1="351.1" y1="20" x2="352.3" y2="20" stroke="#bbb" stroke-width="0.3"/>
<line x1="351.1" y1="23" x2="352.3" y2="23" stroke="#bbb" stroke-width="0.3"/>
<line x1="351.1" y1="26" x2="352.3" y2="26" stroke="#bbb" stroke-width="0.3"/>
<line x1="351.1" y1="29" x2="352.3" y2="29" stroke="#bbb" stroke-width="0.3"/>
<line x1="351.1" y1="32" x2="352.3" y2="32" stroke="#bbb" stroke-width="0.3"/>
<line x1="351.1" y1="35" x2="352.3" y2="35" stroke="#bbb" stroke-width="0.3"/>
<line x1="351.1" y1="38" x2="352.3" y2="38" stroke="#bbb" stroke-width="0.3"/>
<line x1="351.1" y1="41" x2="352.3" y2="41" stroke="#bbb" stroke-width="0.3"/>
<line x1="351.1" y1="44" x2="352.3" y2="44" stroke="#bbb" stroke-width="0.3"/>
<line x1="351.1" y1="47" x2="352.3" y2="47" stroke="#bbb" stroke-width="0.3"/>
<line x1="351.1" y1="50" x2="352.3" y2="50" stroke="#bbb" stroke-width="0.3"/>
<line x1="351.1" y1="53" x2="352.3" y2="53" stroke="#bbb" stroke-width="0.3"/>
<line x1="351.1" y1="56" x2="352.3" y2="56" stroke="#bbb" stroke-width="0.3"/>
<line x1="351.1" y1="59" x2="352.3" y2="59" stroke="#bbb" stroke-width="0.3"/>
<line x1="351.1" y1="62" x2="352.3" y2="62" stroke="#bbb" stroke-width="0.3"/>
<line x1="351.1" y1="65" x2="352.3" y2="65" stroke="#bbb" stroke-width="0.3"/>
<line x1="351.1" y1="68" x2="352.3" y2="68" stroke="#bbb" stroke-width="0.3"/>
<line x1="351.1" y1="71" x2="352.3" y2="71" stroke="#bbb" stroke-width="0.3"/>
<line x1="351.1" y1="74" x2="352.3" y2="74" stroke="#bbb" stroke-width="0.3"/>
<line x1="351.1" y1="77" x2="352.3" y2="77" stroke="#bbb" stroke-width="0.3"/>
<line x1="351.1" y1="80" x2="352.3" y2="80" stroke="#bbb" stroke-width="0.3"/>
<line x1="351.1" y1="83" x2="352.3" y2="83" stroke="#bbb" stroke-width="0.3"/>
<line x1="350.3" y1="33" x2="352.3" y2="33" stroke="#666" stroke-width="0.5"/>
<line x1="350.3" y1="51.5" x2="352.3" y2="51.5" stroke="#666" stroke-width="0.5"/>
<text x="349.7" y="34.4" font-size="4.2" text-anchor="end" fill="#333">10<tspan font-size="2.9" dy="-1.9">4</tspan></text>
<text x="349.7" y="52.9" font-size="4.2" text-anchor="end" fill="#333">10<tspan font-size="2.9" dy="-1.9">3</tspan></text>
<text x="349.1" y="73.3" font-size="3.6" text-anchor="end" fill="#333">0</text>
<line x1="351.5" y1="70" x2="351.5" y2="75" stroke="#222" stroke-width="0.9"/>
<line x1="355" y1="85" x2="355" y2="86.2" stroke="#bbb" stroke-width="0.3"/>
<line x1="358" y1="85" x2="358" y2="86.2" stroke="#bbb" stroke-width="0.3"/>
<line x1="361" y1="85" x2="361" y2="86.2" stroke="#bbb" stroke-width="0.3"/>
<line x1="364" y1="85" x2="364" y2="86.2" stroke="#bbb" stroke-width="0.3"/>
<line x1="367" y1="85" x2="367" y2="86.2" stroke="#bbb" stroke-width="0.3"/>
<line x1="370" y1="85" x2="370" y2="86.2" stroke="#bbb" stroke-width="0.3"/>
<line x1="373" y1="85" x2="373" y2="86.2" stroke="#bbb" stroke-width="0.3"/>
<line x1="376" y1="85" x2="376" y2="86.2" stroke="#bbb" stroke-width="0.3"/>
<line x1="379" y1="85" x2="379" y2="86.2" stroke="#bbb" stroke-width="0.3"/>
<line x1="382" y1="85" x2="382" y2="86.2" stroke="#bbb" stroke-width="0.3"/>
<line x1="385" y1="85" x2="385" y2="86.2" stroke="#bbb" stroke-width="0.3"/>
<line x1="388" y1="85" x2="388" y2="86.2" stroke="#bbb" stroke-width="0.3"/>
<line x1="391" y1="85" x2="391" y2="86.2" stroke="#bbb" stroke-width="0.3"/>
<line x1="394" y1="85" x2="394" y2="86.2" stroke="#bbb" stroke-width="0.3"/>
<line x1="397" y1="85" x2="397" y2="86.2" stroke="#bbb" stroke-width="0.3"/>
<line x1="400" y1="85" x2="400" y2="86.2" stroke="#bbb" stroke-width="0.3"/>
<line x1="403" y1="85" x2="403" y2="86.2" stroke="#bbb" stroke-width="0.3"/>
<line x1="406" y1="85" x2="406" y2="86.2" stroke="#bbb" stroke-width="0.3"/>
<line x1="409" y1="85" x2="409" y2="86.2" stroke="#bbb" stroke-width="0.3"/>
<line x1="412" y1="85" x2="412" y2="86.2" stroke="#bbb" stroke-width="0.3"/>
<line x1="415" y1="85" x2="415" y2="86.2" stroke="#bbb" stroke-width="0.3"/>
<line x1="418" y1="85" x2="418" y2="86.2" stroke="#bbb" stroke-width="0.3"/>
<line x1="421" y1="85" x2="421" y2="86.2" stroke="#bbb" stroke-width="0.3"/>
<line x1="424" y1="85" x2="424" y2="86.2" stroke="#bbb" stroke-width="0.3"/>
<text x="368.0" y="91" font-size="3.6" text-anchor="middle" fill="#333">0</text>
<text x="390.3" y="91" font-size="4.2" text-anchor="middle" fill="#333">10<tspan font-size="2.9" dy="-1.9">3</tspan></text>
<text x="410.8" y="91" font-size="4.2" text-anchor="middle" fill="#333">10<tspan font-size="2.9" dy="-1.9">4</tspan></text>
<rect x="363.3" y="85" width="5" height="1.2" fill="#333" stroke="none" stroke-width="1" rx="0"/>
<text x="384.5" y="25" font-size="7.9" text-anchor="middle" fill="#222">WT</text>
<rect x="375.8" y="34.4" width="42.69999999999999" height="31.2" fill="none" stroke="#888" stroke-width="0.6" rx="0"/>
<text x="422.4" y="78.7" font-size="8.0" text-anchor="end" fill="#222">54.5</text>
<rect x="430.7" y="16.5" width="75.0" height="68.5" fill="none" stroke="#b0b0b0" stroke-width="0.8" rx="0"/>
<line x1="429.5" y1="20" x2="430.7" y2="20" stroke="#bbb" stroke-width="0.3"/>
<line x1="429.5" y1="23" x2="430.7" y2="23" stroke="#bbb" stroke-width="0.3"/>
<line x1="429.5" y1="26" x2="430.7" y2="26" stroke="#bbb" stroke-width="0.3"/>
<line x1="429.5" y1="29" x2="430.7" y2="29" stroke="#bbb" stroke-width="0.3"/>
<line x1="429.5" y1="32" x2="430.7" y2="32" stroke="#bbb" stroke-width="0.3"/>
<line x1="429.5" y1="35" x2="430.7" y2="35" stroke="#bbb" stroke-width="0.3"/>
<line x1="429.5" y1="38" x2="430.7" y2="38" stroke="#bbb" stroke-width="0.3"/>
<line x1="429.5" y1="41" x2="430.7" y2="41" stroke="#bbb" stroke-width="0.3"/>
<line x1="429.5" y1="44" x2="430.7" y2="44" stroke="#bbb" stroke-width="0.3"/>
<line x1="429.5" y1="47" x2="430.7" y2="47" stroke="#bbb" stroke-width="0.3"/>
<line x1="429.5" y1="50" x2="430.7" y2="50" stroke="#bbb" stroke-width="0.3"/>
<line x1="429.5" y1="53" x2="430.7" y2="53" stroke="#bbb" stroke-width="0.3"/>
<line x1="429.5" y1="56" x2="430.7" y2="56" stroke="#bbb" stroke-width="0.3"/>
<line x1="429.5" y1="59" x2="430.7" y2="59" stroke="#bbb" stroke-width="0.3"/>
<line x1="429.5" y1="62" x2="430.7" y2="62" stroke="#bbb" stroke-width="0.3"/>
<line x1="429.5" y1="65" x2="430.7" y2="65" stroke="#bbb" stroke-width="0.3"/>
<line x1="429.5" y1="68" x2="430.7" y2="68" stroke="#bbb" stroke-width="0.3"/>
<line x1="429.5" y1="71" x2="430.7" y2="71" stroke="#bbb" stroke-width="0.3"/>
<line x1="429.5" y1="74" x2="430.7" y2="74" stroke="#bbb" stroke-width="0.3"/>
<line x1="429.5" y1="77" x2="430.7" y2="77" stroke="#bbb" stroke-width="0.3"/>
<line x1="429.5" y1="80" x2="430.7" y2="80" stroke="#bbb" stroke-width="0.3"/>
<line x1="429.5" y1="83" x2="430.7" y2="83" stroke="#bbb" stroke-width="0.3"/>
<line x1="428.7" y1="33" x2="430.7" y2="33" stroke="#666" stroke-width="0.5"/>
<line x1="428.7" y1="51.5" x2="430.7" y2="51.5" stroke="#666" stroke-width="0.5"/>
<text x="428.09999999999997" y="34.4" font-size="4.2" text-anchor="end" fill="#333">10<tspan font-size="2.9" dy="-1.9">4</tspan></text>
<text x="428.09999999999997" y="52.9" font-size="4.2" text-anchor="end" fill="#333">10<tspan font-size="2.9" dy="-1.9">3</tspan></text>
<text x="427.5" y="73.3" font-size="3.6" text-anchor="end" fill="#333">0</text>
<line x1="429.9" y1="70" x2="429.9" y2="75" stroke="#222" stroke-width="0.9"/>
<line x1="433" y1="85" x2="433" y2="86.2" stroke="#bbb" stroke-width="0.3"/>
<line x1="436" y1="85" x2="436" y2="86.2" stroke="#bbb" stroke-width="0.3"/>
<line x1="439" y1="85" x2="439" y2="86.2" stroke="#bbb" stroke-width="0.3"/>
<line x1="442" y1="85" x2="442" y2="86.2" stroke="#bbb" stroke-width="0.3"/>
<line x1="445" y1="85" x2="445" y2="86.2" stroke="#bbb" stroke-width="0.3"/>
<line x1="448" y1="85" x2="448" y2="86.2" stroke="#bbb" stroke-width="0.3"/>
<line x1="451" y1="85" x2="451" y2="86.2" stroke="#bbb" stroke-width="0.3"/>
<line x1="454" y1="85" x2="454" y2="86.2" stroke="#bbb" stroke-width="0.3"/>
<line x1="457" y1="85" x2="457" y2="86.2" stroke="#bbb" stroke-width="0.3"/>
<line x1="460" y1="85" x2="460" y2="86.2" stroke="#bbb" stroke-width="0.3"/>
<line x1="463" y1="85" x2="463" y2="86.2" stroke="#bbb" stroke-width="0.3"/>
<line x1="466" y1="85" x2="466" y2="86.2" stroke="#bbb" stroke-width="0.3"/>
<line x1="469" y1="85" x2="469" y2="86.2" stroke="#bbb" stroke-width="0.3"/>
<line x1="472" y1="85" x2="472" y2="86.2" stroke="#bbb" stroke-width="0.3"/>
<line x1="475" y1="85" x2="475" y2="86.2" stroke="#bbb" stroke-width="0.3"/>
<line x1="478" y1="85" x2="478" y2="86.2" stroke="#bbb" stroke-width="0.3"/>
<line x1="481" y1="85" x2="481" y2="86.2" stroke="#bbb" stroke-width="0.3"/>
<line x1="484" y1="85" x2="484" y2="86.2" stroke="#bbb" stroke-width="0.3"/>
<line x1="487" y1="85" x2="487" y2="86.2" stroke="#bbb" stroke-width="0.3"/>
<line x1="490" y1="85" x2="490" y2="86.2" stroke="#bbb" stroke-width="0.3"/>
<line x1="493" y1="85" x2="493" y2="86.2" stroke="#bbb" stroke-width="0.3"/>
<line x1="496" y1="85" x2="496" y2="86.2" stroke="#bbb" stroke-width="0.3"/>
<line x1="499" y1="85" x2="499" y2="86.2" stroke="#bbb" stroke-width="0.3"/>
<line x1="502" y1="85" x2="502" y2="86.2" stroke="#bbb" stroke-width="0.3"/>
<text x="446.4" y="91" font-size="3.6" text-anchor="middle" fill="#333">0</text>
<text x="468.7" y="91" font-size="4.2" text-anchor="middle" fill="#333">10<tspan font-size="2.9" dy="-1.9">3</tspan></text>
<text x="489.2" y="91" font-size="4.2" text-anchor="middle" fill="#333">10<tspan font-size="2.9" dy="-1.9">4</tspan></text>
<rect x="441.7" y="85" width="5" height="1.2" fill="#333" stroke="none" stroke-width="1" rx="0"/>
<text x="466.2" y="25" font-size="7.9" text-anchor="middle" fill="#222">I/A</text>
<rect x="453.5" y="34.4" width="42.30000000000001" height="31.2" fill="none" stroke="#888" stroke-width="0.6" rx="0"/>
<text x="499.3" y="78.7" font-size="8.0" text-anchor="end" fill="#222">53.4</text>
<path d="M364.20,50.39 C364.07,47.12 365.80,42.58 368.05,40.58 C370.30,38.58 373.50,38.58 377.68,38.40 C381.85,38.22 389.16,38.76 393.07,39.49 C396.99,40.22 399.56,41.49 401.16,42.76 C402.76,44.03 402.76,45.59 402.70,47.12 C402.64,48.65 402.38,50.24 400.77,51.92 C399.17,53.59 396.60,55.84 393.07,57.15 C389.55,58.46 383.64,59.26 379.60,59.76 C375.56,60.27 371.39,61.76 368.82,60.20 C366.25,58.64 364.33,53.66 364.20,50.39 Z" fill="#1f3c9e" stroke="none" stroke-width="1"/>
<path d="M364.78,50.08 C364.66,47.08 366.28,42.90 368.38,41.06 C370.48,39.22 373.48,39.22 377.38,39.05 C381.28,38.89 388.12,39.39 391.78,40.06 C395.44,40.73 397.84,41.90 399.34,43.07 C400.83,44.24 400.83,45.67 400.77,47.08 C400.72,48.48 400.48,49.95 398.98,51.49 C397.48,53.03 395.08,55.10 391.78,56.30 C388.48,57.51 382.96,58.24 379.18,58.71 C375.40,59.18 371.50,60.55 369.10,59.11 C366.70,57.67 364.90,53.09 364.78,50.08 Z" fill="#2a5cc4" stroke="none" stroke-width="1"/>
<path d="M365.35,49.68 C365.25,46.90 366.72,43.04 368.63,41.34 C370.54,39.64 373.26,39.64 376.81,39.49 C380.35,39.34 386.57,39.80 389.90,40.42 C393.23,41.03 395.41,42.12 396.77,43.20 C398.13,44.28 398.13,45.60 398.08,46.90 C398.03,48.20 397.81,49.56 396.44,50.98 C395.08,52.40 392.90,54.31 389.90,55.43 C386.90,56.54 381.88,57.22 378.44,57.65 C375.01,58.08 371.46,59.35 369.28,58.02 C367.10,56.69 365.46,52.46 365.35,49.68 Z" fill="#3a98e0" stroke="none" stroke-width="1"/>
<path d="M366.12,49.26 C366.03,46.77 367.33,43.32 369.01,41.80 C370.70,40.28 373.10,40.28 376.23,40.14 C379.36,40.01 384.85,40.42 387.78,40.97 C390.72,41.52 392.64,42.49 393.85,43.46 C395.05,44.42 395.05,45.61 395.00,46.77 C394.95,47.93 394.76,49.15 393.56,50.42 C392.35,51.69 390.43,53.40 387.78,54.39 C385.13,55.39 380.71,55.99 377.68,56.38 C374.64,56.77 371.51,57.90 369.59,56.71 C367.66,55.52 366.22,51.74 366.12,49.26 Z" fill="#44c4d6" stroke="none" stroke-width="1"/>
<path d="M366.89,48.59 C366.81,46.47 367.94,43.51 369.40,42.22 C370.86,40.92 372.94,40.92 375.65,40.80 C378.36,40.68 383.12,41.03 385.66,41.51 C388.21,41.98 389.88,42.81 390.92,43.63 C391.96,44.46 391.96,45.47 391.92,46.47 C391.88,47.46 391.71,48.50 390.67,49.58 C389.63,50.67 387.96,52.13 385.66,52.98 C383.37,53.83 379.53,54.35 376.90,54.68 C374.28,55.02 371.57,55.98 369.90,54.97 C368.23,53.95 366.98,50.72 366.89,48.59 Z" fill="#66c25e" stroke="none" stroke-width="1"/>
<path d="M367.66,47.78 C367.61,46.12 368.32,43.80 369.24,42.78 C370.16,41.76 371.48,41.76 373.19,41.67 C374.90,41.58 377.90,41.86 379.50,42.23 C381.11,42.60 382.16,43.25 382.82,43.89 C383.48,44.54 383.48,45.34 383.45,46.12 C383.42,46.90 383.32,47.71 382.66,48.56 C382.00,49.42 380.95,50.56 379.50,51.23 C378.06,51.90 375.64,52.31 373.98,52.57 C372.32,52.83 370.61,53.58 369.56,52.79 C368.51,51.99 367.72,49.45 367.66,47.78 Z" fill="#b2d646" stroke="none" stroke-width="1"/>
<path d="M368.05,47.12 C368.01,45.81 368.50,44.00 369.13,43.20 C369.76,42.40 370.66,42.40 371.82,42.32 C372.99,42.25 375.04,42.47 376.13,42.76 C377.23,43.05 377.95,43.56 378.40,44.07 C378.85,44.58 378.85,45.20 378.83,45.81 C378.81,46.42 378.74,47.06 378.29,47.73 C377.84,48.40 377.12,49.30 376.13,49.82 C375.15,50.35 373.49,50.67 372.36,50.87 C371.23,51.07 370.06,51.67 369.34,51.04 C368.62,50.42 368.09,48.43 368.05,47.12 Z" fill="#f2e028" stroke="none" stroke-width="1"/>
<path d="M368.82,46.55 C368.80,45.64 369.08,44.37 369.44,43.81 C369.80,43.25 370.31,43.25 370.98,43.20 C371.64,43.15 372.81,43.30 373.44,43.50 C374.07,43.70 374.48,44.06 374.73,44.42 C374.99,44.77 374.99,45.21 374.98,45.64 C374.97,46.06 374.93,46.51 374.67,46.98 C374.42,47.45 374.00,48.08 373.44,48.45 C372.88,48.81 371.93,49.04 371.28,49.18 C370.64,49.32 369.97,49.74 369.56,49.30 C369.15,48.86 368.84,47.47 368.82,46.55 Z" fill="#f0902a" stroke="none" stroke-width="1"/>
<path d="M369.59,46.32 C369.58,45.77 369.73,45.00 369.94,44.66 C370.14,44.32 370.43,44.32 370.80,44.29 C371.18,44.26 371.84,44.35 372.19,44.47 C372.54,44.59 372.77,44.81 372.92,45.03 C373.06,45.24 373.06,45.51 373.06,45.77 C373.05,46.03 373.03,46.30 372.88,46.58 C372.74,46.87 372.51,47.25 372.19,47.47 C371.87,47.70 371.34,47.83 370.98,47.92 C370.61,48.00 370.24,48.26 370.01,47.99 C369.77,47.73 369.60,46.88 369.59,46.32 Z" fill="#e42420" stroke="none" stroke-width="1"/>
<path d="M442.20,49.10 C442.07,45.80 443.82,41.22 446.08,39.20 C448.34,37.18 451.58,37.18 455.78,37.00 C459.98,36.82 467.36,37.37 471.30,38.10 C475.24,38.83 477.83,40.12 479.45,41.40 C481.06,42.68 481.06,44.26 481.00,45.80 C480.94,47.34 480.68,48.95 479.06,50.64 C477.44,52.33 474.86,54.60 471.30,55.92 C467.74,57.24 461.79,58.05 457.72,58.56 C453.65,59.07 449.44,60.58 446.86,59.00 C444.27,57.42 442.33,52.40 442.20,49.10 Z" fill="#1f3c9e" stroke="none" stroke-width="1"/>
<path d="M442.78,48.79 C442.66,45.76 444.29,41.54 446.41,39.68 C448.53,37.83 451.55,37.83 455.48,37.66 C459.41,37.49 466.30,38.00 469.99,38.67 C473.68,39.35 476.10,40.53 477.61,41.71 C479.12,42.89 479.12,44.34 479.06,45.76 C479.00,47.17 478.76,48.66 477.25,50.21 C475.73,51.76 473.32,53.85 469.99,55.07 C466.67,56.28 461.10,57.02 457.29,57.50 C453.48,57.97 449.55,59.35 447.14,57.90 C444.72,56.45 442.90,51.83 442.78,48.79 Z" fill="#2a5cc4" stroke="none" stroke-width="1"/>
<path d="M443.36,48.38 C443.25,45.58 444.74,41.68 446.66,39.97 C448.59,38.26 451.33,38.26 454.91,38.10 C458.48,37.94 464.75,38.41 468.10,39.04 C471.45,39.66 473.65,40.75 475.02,41.84 C476.40,42.93 476.40,44.27 476.34,45.58 C476.29,46.89 476.07,48.26 474.69,49.69 C473.32,51.13 471.12,53.06 468.10,54.18 C465.08,55.30 460.02,55.99 456.56,56.43 C453.09,56.86 449.52,58.14 447.32,56.80 C445.12,55.46 443.47,51.19 443.36,48.38 Z" fill="#3a98e0" stroke="none" stroke-width="1"/>
<path d="M444.14,47.96 C444.04,45.45 445.35,41.96 447.05,40.43 C448.75,38.90 451.17,38.90 454.32,38.76 C457.48,38.62 463.01,39.04 465.97,39.60 C468.92,40.15 470.86,41.13 472.08,42.10 C473.29,43.08 473.29,44.28 473.24,45.45 C473.19,46.62 473.00,47.84 471.79,49.13 C470.57,50.41 468.63,52.14 465.97,53.14 C463.30,54.14 458.84,54.76 455.78,55.15 C452.72,55.54 449.57,56.68 447.63,55.48 C445.69,54.28 444.24,50.46 444.14,47.96 Z" fill="#44c4d6" stroke="none" stroke-width="1"/>
<path d="M444.92,47.29 C444.83,45.14 445.97,42.16 447.44,40.85 C448.91,39.54 451.01,39.54 453.74,39.42 C456.48,39.30 461.27,39.66 463.83,40.14 C466.40,40.61 468.08,41.45 469.13,42.28 C470.18,43.11 470.18,44.14 470.14,45.14 C470.09,46.14 469.93,47.19 468.87,48.29 C467.82,49.38 466.14,50.86 463.83,51.72 C461.52,52.58 457.65,53.10 455.00,53.43 C452.36,53.77 449.62,54.74 447.94,53.72 C446.26,52.70 445.00,49.43 444.92,47.29 Z" fill="#66c25e" stroke="none" stroke-width="1"/>
<path d="M445.69,46.47 C445.64,44.79 446.35,42.45 447.28,41.42 C448.21,40.39 449.54,40.39 451.26,40.30 C452.98,40.21 456.01,40.49 457.62,40.86 C459.24,41.23 460.30,41.89 460.96,42.54 C461.63,43.20 461.63,44.00 461.60,44.79 C461.57,45.57 461.47,46.40 460.80,47.26 C460.14,48.12 459.08,49.28 457.62,49.95 C456.16,50.62 453.73,51.03 452.06,51.30 C450.38,51.56 448.66,52.32 447.60,51.52 C446.54,50.72 445.75,48.15 445.69,46.47 Z" fill="#b2d646" stroke="none" stroke-width="1"/>
<path d="M446.08,45.80 C446.04,44.48 446.53,42.65 447.17,41.84 C447.80,41.03 448.71,41.03 449.88,40.96 C451.06,40.89 453.12,41.11 454.23,41.40 C455.33,41.69 456.06,42.21 456.51,42.72 C456.96,43.23 456.96,43.86 456.94,44.48 C456.93,45.10 456.85,45.74 456.40,46.42 C455.95,47.09 455.22,48.00 454.23,48.53 C453.23,49.06 451.57,49.38 450.43,49.58 C449.28,49.79 448.11,50.39 447.38,49.76 C446.66,49.13 446.12,47.12 446.08,45.80 Z" fill="#f2e028" stroke="none" stroke-width="1"/>
<path d="M446.86,45.23 C446.84,44.30 447.11,43.02 447.48,42.46 C447.84,41.89 448.36,41.89 449.03,41.84 C449.70,41.79 450.88,41.94 451.51,42.15 C452.14,42.35 452.56,42.71 452.82,43.07 C453.07,43.43 453.07,43.87 453.06,44.30 C453.05,44.74 453.01,45.19 452.75,45.66 C452.49,46.13 452.08,46.77 451.51,47.14 C450.94,47.51 449.99,47.73 449.34,47.88 C448.69,48.02 448.01,48.44 447.60,48.00 C447.19,47.56 446.88,46.15 446.86,45.23 Z" fill="#f0902a" stroke="none" stroke-width="1"/>
<path d="M447.63,45.00 C447.62,44.44 447.78,43.66 447.98,43.31 C448.18,42.97 448.48,42.97 448.85,42.94 C449.23,42.91 449.90,43.00 450.25,43.13 C450.61,43.25 450.84,43.47 450.98,43.69 C451.13,43.91 451.13,44.17 451.12,44.44 C451.12,44.70 451.09,44.97 450.95,45.26 C450.80,45.55 450.57,45.93 450.25,46.16 C449.93,46.38 449.40,46.52 449.03,46.61 C448.66,46.69 448.28,46.95 448.05,46.68 C447.82,46.41 447.64,45.56 447.63,45.00 Z" fill="#e42420" stroke="none" stroke-width="1"/>
<text x="345" y="97.3" font-size="7.3" text-anchor="start" fill="#222">GFP</text>
<line x1="360.5" y1="94.6" x2="497.5" y2="94.6" stroke="#222" stroke-width="0.9"/>
<path d="M501.00,94.60 L497.50,96.20 L497.50,93.00 Z" fill="#222" stroke="none" stroke-width="1"/>
<text x="430" y="103" font-size="7.45" text-anchor="middle" fill="#222">hCD3<tspan font-size="5.8" font-style="italic">&#949;</tspan> knock-in efficiency</text>
<text x="332" y="163.5" font-size="7.5" text-anchor="start" fill="#222">Ctrl</text>
<text x="332" y="176.8" font-size="7.5" text-anchor="start" fill="#222">WT</text>
<text x="347.7" y="176.8" font-size="7.5" text-anchor="start" fill="#222">92%</text>
<text x="333.8" y="189" font-size="7.5" text-anchor="start" fill="#222">I/A</text>
<text x="347.7" y="189" font-size="7.5" text-anchor="start" fill="#222">77%</text>
<text x="369.2" y="164.5" font-size="5.9" text-anchor="middle" fill="#6ac4e4" font-weight="bold">C</text>
<text x="374.61" y="164.5" font-size="5.9" text-anchor="middle" fill="#6ac4e4" font-weight="bold">C</text>
<rect x="377.82" y="158.9" width="4.4" height="6.4" fill="#e2f3de" stroke="none" stroke-width="1" rx="0"/>
<text x="380.02" y="164.5" font-size="5.9" text-anchor="middle" fill="#4aa84a" font-weight="bold">A</text>
<text x="385.43" y="164.5" font-size="5.9" text-anchor="middle" fill="#555" font-weight="bold">G</text>
<text x="390.84" y="164.5" font-size="5.9" text-anchor="middle" fill="#6ac4e4" font-weight="bold">C</text>
<text x="396.25" y="164.5" font-size="5.9" text-anchor="middle" fill="#6ac4e4" font-weight="bold">C</text>
<text x="401.65999999999997" y="164.5" font-size="5.9" text-anchor="middle" fill="#6ac4e4" font-weight="bold">C</text>
<text x="407.07" y="164.5" font-size="5.9" text-anchor="middle" fill="#333" font-weight="bold">:</text>
<rect x="410.28000000000003" y="158.9" width="4.4" height="6.4" fill="#e2f3de" stroke="none" stroke-width="1" rx="0"/>
<text x="412.48" y="164.5" font-size="5.9" text-anchor="middle" fill="#4aa84a" font-weight="bold">A</text>
<text x="417.89" y="164.5" font-size="5.9" text-anchor="middle" fill="#d85050" font-weight="bold">T</text>
<text x="423.3" y="164.5" font-size="5.9" text-anchor="middle" fill="#6ac4e4" font-weight="bold">C</text>
<text x="428.71" y="164.5" font-size="5.9" text-anchor="middle" fill="#6ac4e4" font-weight="bold">C</text>
<text x="434.12" y="164.5" font-size="5.9" text-anchor="middle" fill="#555" font-weight="bold">G</text>
<text x="439.53" y="164.5" font-size="5.9" text-anchor="middle" fill="#555" font-weight="bold">G</text>
<text x="369.2" y="175.7" font-size="5.9" text-anchor="middle" fill="#6ac4e4" font-weight="bold">C</text>
<text x="374.61" y="175.7" font-size="5.9" text-anchor="middle" fill="#6ac4e4" font-weight="bold">C</text>
<rect x="377.82" y="170.1" width="4.4" height="6.4" fill="#e2f3de" stroke="none" stroke-width="1" rx="0"/>
<text x="380.02" y="175.7" font-size="5.9" text-anchor="middle" fill="#4aa84a" font-weight="bold">A</text>
<text x="385.43" y="175.7" font-size="5.9" text-anchor="middle" fill="#555" font-weight="bold">G</text>
<text x="390.84" y="175.7" font-size="5.9" text-anchor="middle" fill="#6ac4e4" font-weight="bold">C</text>
<text x="396.25" y="175.7" font-size="5.9" text-anchor="middle" fill="#6ac4e4" font-weight="bold">C</text>
<text x="401.65999999999997" y="175.7" font-size="5.9" text-anchor="middle" fill="#6ac4e4" font-weight="bold">C</text>
<text x="407.07" y="175.7" font-size="5.9" text-anchor="middle" fill="#333" font-weight="bold">:</text>
<rect x="410.28000000000003" y="170.1" width="4.4" height="6.4" fill="#e2f3de" stroke="none" stroke-width="1" rx="0"/>
<text x="412.48" y="175.7" font-size="5.9" text-anchor="middle" fill="#4aa84a" font-weight="bold">A</text>
<text x="417.89" y="175.7" font-size="5.9" text-anchor="middle" fill="#d85050" font-weight="bold">T</text>
<text x="423.3" y="175.7" font-size="5.9" text-anchor="middle" fill="#6ac4e4" font-weight="bold">C</text>
<rect x="426.01" y="169.79999999999998" width="5.4" height="6.9" fill="#f3b070" stroke="none" stroke-width="1" rx="0"/>
<text x="428.71" y="175.7" font-size="5.9" text-anchor="middle" fill="#4aa84a" font-weight="bold">A</text>
<text x="434.12" y="175.7" font-size="5.9" text-anchor="middle" fill="#555" font-weight="bold">G</text>
<rect x="436.83" y="169.79999999999998" width="5.4" height="6.9" fill="#f3b070" stroke="none" stroke-width="1" rx="0"/>
<text x="439.53" y="175.7" font-size="5.9" text-anchor="middle" fill="#4aa84a" font-weight="bold">A</text>
<text x="369.2" y="188.0" font-size="5.9" text-anchor="middle" fill="#6ac4e4" font-weight="bold">C</text>
<text x="374.61" y="188.0" font-size="5.9" text-anchor="middle" fill="#6ac4e4" font-weight="bold">C</text>
<rect x="377.82" y="182.4" width="4.4" height="6.4" fill="#e2f3de" stroke="none" stroke-width="1" rx="0"/>
<text x="380.02" y="188.0" font-size="5.9" text-anchor="middle" fill="#4aa84a" font-weight="bold">A</text>
<text x="385.43" y="188.0" font-size="5.9" text-anchor="middle" fill="#555" font-weight="bold">G</text>
<text x="390.84" y="188.0" font-size="5.9" text-anchor="middle" fill="#6ac4e4" font-weight="bold">C</text>
<text x="396.25" y="188.0" font-size="5.9" text-anchor="middle" fill="#6ac4e4" font-weight="bold">C</text>
<text x="401.65999999999997" y="188.0" font-size="5.9" text-anchor="middle" fill="#6ac4e4" font-weight="bold">C</text>
<text x="407.07" y="188.0" font-size="5.9" text-anchor="middle" fill="#333" font-weight="bold">:</text>
<rect x="409.78000000000003" y="182.1" width="5.4" height="6.9" fill="#f3b070" stroke="none" stroke-width="1" rx="0"/>
<text x="412.48" y="188.0" font-size="5.9" text-anchor="middle" fill="#555" font-weight="bold">G</text>
<rect x="415.19" y="182.1" width="5.4" height="6.9" fill="#f3b070" stroke="none" stroke-width="1" rx="0"/>
<text x="417.89" y="188.0" font-size="5.9" text-anchor="middle" fill="#6ac4e4" font-weight="bold">C</text>
<rect x="420.6" y="182.1" width="5.4" height="6.9" fill="#f3b070" stroke="none" stroke-width="1" rx="0"/>
<text x="423.3" y="188.0" font-size="5.9" text-anchor="middle" fill="#d85050" font-weight="bold">T</text>
<rect x="426.01" y="182.1" width="5.4" height="6.9" fill="#f3b070" stroke="none" stroke-width="1" rx="0"/>
<text x="428.71" y="188.0" font-size="5.9" text-anchor="middle" fill="#4aa84a" font-weight="bold">A</text>
<rect x="431.42" y="182.1" width="5.4" height="6.9" fill="#f3b070" stroke="none" stroke-width="1" rx="0"/>
<text x="434.12" y="188.0" font-size="5.9" text-anchor="middle" fill="#555" font-weight="bold">G</text>
<rect x="436.83" y="182.1" width="5.4" height="6.9" fill="#f3b070" stroke="none" stroke-width="1" rx="0"/>
<text x="439.53" y="188.0" font-size="5.9" text-anchor="middle" fill="#4aa84a" font-weight="bold">A</text>
<line x1="443" y1="163.5" x2="452.5" y2="150.4" stroke="#111" stroke-width="1.3" stroke-dasharray="2.2,1.3"/>
<line x1="444" y1="177.6" x2="455" y2="177.6" stroke="#111" stroke-width="1.3" stroke-dasharray="2.2,1.3"/>
<line x1="443" y1="189.6" x2="453.5" y2="211.3" stroke="#111" stroke-width="1.3" stroke-dasharray="2.2,1.3"/>
<polyline points="449.90,141.30 450.35,141.30 450.80,141.30 451.25,141.28 451.70,141.21 452.15,140.93 452.60,140.12 453.05,138.37 453.50,135.70 453.95,133.04 454.40,131.90 454.85,133.04 455.30,135.70 455.75,138.37 456.20,140.12 456.65,140.93 457.10,141.21 457.55,141.28 458.00,141.30 458.45,141.30 458.90,141.30" fill="none" stroke="#6cc0ea" stroke-width="0.75"/>
<polyline points="455.50,141.30 455.95,141.30 456.40,141.29 456.85,141.26 457.30,141.10 457.75,140.47 458.20,138.62 458.65,134.67 459.10,128.62 459.55,122.59 460.00,120.00 460.45,122.59 460.90,128.62 461.35,134.67 461.80,138.62 462.25,140.47 462.70,141.10 463.15,141.26 463.60,141.29 464.05,141.30 464.50,141.30" fill="none" stroke="#6cc0ea" stroke-width="0.75"/>
<polyline points="459.90,141.30 460.35,141.30 460.80,141.30 461.25,141.27 461.70,141.13 462.15,140.58 462.60,139.00 463.05,135.60 463.50,130.40 463.95,125.22 464.40,123.00 464.85,125.22 465.30,130.40 465.75,135.60 466.20,139.00 466.65,140.58 467.10,141.13 467.55,141.27 468.00,141.30 468.45,141.30 468.90,141.30" fill="none" stroke="#6cc0ea" stroke-width="0.75"/>
<polyline points="464.50,141.30 464.95,141.30 465.40,141.30 465.85,141.29 466.30,141.26 466.75,141.13 467.20,140.76 467.65,139.96 468.10,138.74 468.55,137.52 469.00,137.00 469.45,137.52 469.90,138.74 470.35,139.96 470.80,140.76 471.25,141.13 471.70,141.26 472.15,141.29 472.60,141.30 473.05,141.30 473.50,141.30" fill="none" stroke="#8fd07a" stroke-width="0.75"/>
<polyline points="469.00,141.30 469.45,141.30 469.90,141.29 470.35,141.26 470.80,141.09 471.25,140.42 471.70,138.47 472.15,134.29 472.60,127.90 473.05,121.53 473.50,118.80 473.95,121.53 474.40,127.90 474.85,134.29 475.30,138.47 475.75,140.42 476.20,141.09 476.65,141.26 477.10,141.29 477.55,141.30 478.00,141.30" fill="none" stroke="#e88a78" stroke-width="0.75"/>
<polyline points="474.00,141.30 474.45,141.30 474.90,141.30 475.35,141.27 475.80,141.14 476.25,140.64 476.70,139.18 477.15,136.04 477.60,131.24 478.05,126.45 478.50,124.40 478.95,126.45 479.40,131.24 479.85,136.04 480.30,139.18 480.75,140.64 481.20,141.14 481.65,141.27 482.10,141.30 482.55,141.30 483.00,141.30" fill="none" stroke="#6cc0ea" stroke-width="0.75"/>
<polyline points="478.00,141.30 478.45,141.30 478.90,141.30 479.35,141.28 479.80,141.17 480.25,140.76 480.70,139.56 481.15,137.00 481.60,133.08 482.05,129.18 482.50,127.50 482.95,129.18 483.40,133.08 483.85,137.00 484.30,139.56 484.75,140.76 485.20,141.17 485.65,141.28 486.10,141.30 486.55,141.30 487.00,141.30" fill="none" stroke="#b6dca0" stroke-width="0.75"/>
<polyline points="483.50,141.30 483.95,141.30 484.40,141.30 484.85,141.27 485.30,141.11 485.75,140.52 486.20,138.79 486.65,135.07 487.10,129.39 487.55,123.73 488.00,121.30 488.45,123.73 488.90,129.39 489.35,135.07 489.80,138.79 490.25,140.52 490.70,141.11 491.15,141.27 491.60,141.30 492.05,141.30 492.50,141.30" fill="none" stroke="#444" stroke-width="0.75"/>
<polyline points="488.00,141.30 488.45,141.30 488.90,141.29 489.35,141.26 489.80,141.09 490.25,140.42 490.70,138.47 491.15,134.29 491.60,127.90 492.05,121.53 492.50,118.80 492.95,121.53 493.40,127.90 493.85,134.29 494.30,138.47 494.75,140.42 495.20,141.09 495.65,141.26 496.10,141.29 496.55,141.30 497.00,141.30" fill="none" stroke="#b6dca0" stroke-width="0.75"/>
<polyline points="493.00,141.30 493.45,141.30 493.90,141.30 494.35,141.27 494.80,141.15 495.25,140.66 495.70,139.25 496.15,136.22 496.60,131.59 497.05,126.98 497.50,125.00 497.95,126.98 498.40,131.59 498.85,136.22 499.30,139.25 499.75,140.66 500.20,141.15 500.65,141.27 501.10,141.30 501.55,141.30 502.00,141.30" fill="none" stroke="#b6dca0" stroke-width="0.75"/>
<polyline points="498.00,141.30 498.45,141.30 498.90,141.30 499.35,141.28 499.80,141.20 500.25,140.90 500.70,140.00 501.15,138.09 501.60,135.17 502.05,132.25 502.50,131.00 502.95,132.25 503.40,135.17 503.85,138.09 504.30,140.00 504.75,140.90 505.20,141.20 505.65,141.28 506.10,141.30 506.55,141.30 507.00,141.30" fill="none" stroke="#b6dca0" stroke-width="0.75"/>
<line x1="452.5" y1="141.3" x2="504.5" y2="141.3" stroke="#999" stroke-width="0.5"/>
<text x="454.4" y="114.3" font-size="3.2" text-anchor="middle" fill="#6cc0ea" opacity="0.8">C</text>
<text x="458.3583333333333" y="114.3" font-size="3.2" text-anchor="middle" fill="#6cc0ea" opacity="0.8">C</text>
<text x="462.31666666666666" y="114.3" font-size="3.2" text-anchor="middle" fill="#6cc0ea" opacity="0.8">C</text>
<text x="466.275" y="114.3" font-size="3.2" text-anchor="middle" fill="#6cc0ea" opacity="0.8">C</text>
<text x="470.2333333333333" y="114.3" font-size="3.2" text-anchor="middle" fill="#e88a78" opacity="0.8">T</text>
<text x="474.19166666666666" y="114.3" font-size="3.2" text-anchor="middle" fill="#e88a78" opacity="0.8">T</text>
<text x="478.15" y="114.3" font-size="3.2" text-anchor="middle" fill="#6cc0ea" opacity="0.8">C</text>
<text x="482.1083333333333" y="114.3" font-size="3.2" text-anchor="middle" fill="#6cc0ea" opacity="0.8">C</text>
<text x="486.06666666666666" y="114.3" font-size="3.2" text-anchor="middle" fill="#444" opacity="0.8">G</text>
<text x="490.025" y="114.3" font-size="3.2" text-anchor="middle" fill="#8fd07a" opacity="0.8">A</text>
<text x="493.9833333333333" y="114.3" font-size="3.2" text-anchor="middle" fill="#8fd07a" opacity="0.8">A</text>
<text x="497.94166666666666" y="114.3" font-size="3.2" text-anchor="middle" fill="#8fd07a" opacity="0.8">A</text>
<text x="501.9" y="114.3" font-size="3.2" text-anchor="middle" fill="#6cc0ea" opacity="0.8">C</text>
<polyline points="447.40,176.30 447.85,176.30 448.30,176.30 448.75,176.29 449.20,176.24 449.65,176.05 450.10,175.51 450.55,174.34 451.00,172.55 451.45,170.77 451.90,170.00 452.35,170.77 452.80,172.55 453.25,174.34 453.70,175.51 454.15,176.05 454.60,176.24 455.05,176.29 455.50,176.30 455.95,176.30 456.40,176.30" fill="none" stroke="#6cc0ea" stroke-width="0.75"/>
<polyline points="450.50,176.30 450.95,176.30 451.40,176.30 451.85,176.28 452.30,176.21 452.75,175.91 453.20,175.04 453.65,173.19 454.10,170.35 454.55,167.52 455.00,166.30 455.45,167.52 455.90,170.35 456.35,173.19 456.80,175.04 457.25,175.91 457.70,176.21 458.15,176.28 458.60,176.30 459.05,176.30 459.50,176.30" fill="none" stroke="#6cc0ea" stroke-width="0.75"/>
<polyline points="455.30,176.30 455.75,176.30 456.20,176.30 456.65,176.27 457.10,176.12 457.55,175.56 458.00,173.94 458.45,170.44 458.90,165.11 459.35,159.79 459.80,157.50 460.25,159.79 460.70,165.11 461.15,170.44 461.60,173.94 462.05,175.56 462.50,176.12 462.95,176.27 463.40,176.30 463.85,176.30 464.30,176.30" fill="none" stroke="#6cc0ea" stroke-width="0.75"/>
<polyline points="459.90,176.30 460.35,176.30 460.80,176.30 461.25,176.27 461.70,176.16 462.15,175.71 462.60,174.41 463.05,171.63 463.50,167.37 463.95,163.12 464.40,161.30 464.85,163.12 465.30,167.37 465.75,171.63 466.20,174.41 466.65,175.71 467.10,176.16 467.55,176.27 468.00,176.30 468.45,176.30 468.90,176.30" fill="none" stroke="#6cc0ea" stroke-width="0.75"/>
<polyline points="464.30,176.30 464.75,176.30 465.20,176.30 465.65,176.29 466.10,176.26 466.55,176.13 467.00,175.76 467.45,174.96 467.90,173.74 468.35,172.52 468.80,172.00 469.25,172.52 469.70,173.74 470.15,174.96 470.60,175.76 471.05,176.13 471.50,176.26 471.95,176.29 472.40,176.30 472.85,176.30 473.30,176.30" fill="none" stroke="#8fd07a" stroke-width="0.75"/>
<polyline points="468.60,176.30 469.05,176.30 469.50,176.30 469.95,176.27 470.40,176.12 470.85,175.54 471.30,173.86 471.75,170.26 472.20,164.75 472.65,159.26 473.10,156.90 473.55,159.26 474.00,164.75 474.45,170.26 474.90,173.86 475.35,175.54 475.80,176.12 476.25,176.27 476.70,176.30 477.15,176.30 477.60,176.30" fill="none" stroke="#e88a78" stroke-width="0.75"/>
<polyline points="473.60,176.30 474.05,176.30 474.50,176.30 474.95,176.27 475.40,176.15 475.85,175.69 476.30,174.33 476.75,171.41 477.20,166.95 477.65,162.51 478.10,160.60 478.55,162.51 479.00,166.95 479.45,171.41 479.90,174.33 480.35,175.69 480.80,176.15 481.25,176.27 481.70,176.30 482.15,176.30 482.60,176.30" fill="none" stroke="#6cc0ea" stroke-width="0.75"/>
<polyline points="478.00,176.30 478.45,176.30 478.90,176.30 479.35,176.27 479.80,176.16 480.25,175.74 480.70,174.49 481.15,171.81 481.60,167.73 482.05,163.65 482.50,161.90 482.95,163.65 483.40,167.73 483.85,171.81 484.30,174.49 484.75,175.74 485.20,176.16 485.65,176.27 486.10,176.30 486.55,176.30 487.00,176.30" fill="none" stroke="#6cc0ea" stroke-width="0.75"/>
<polyline points="483.60,176.30 484.05,176.30 484.50,176.30 484.95,176.27 485.40,176.12 485.85,175.56 486.30,173.94 486.75,170.44 487.20,165.11 487.65,159.79 488.10,157.50 488.55,159.79 489.00,165.11 489.45,170.44 489.90,173.94 490.35,175.56 490.80,176.12 491.25,176.27 491.70,176.30 492.15,176.30 492.60,176.30" fill="none" stroke="#444" stroke-width="0.75"/>
<polyline points="488.40,176.30 488.85,176.30 489.30,176.30 489.75,176.28 490.20,176.20 490.65,175.88 491.10,174.95 491.55,172.97 492.00,169.93 492.45,166.90 492.90,165.60 493.35,166.90 493.80,169.93 494.25,172.97 494.70,174.95 495.15,175.88 495.60,176.20 496.05,176.28 496.50,176.30 496.95,176.30 497.40,176.30" fill="none" stroke="#444" stroke-width="0.75"/>
<polyline points="493.60,176.30 494.05,176.30 494.50,176.30 494.95,176.27 495.40,176.13 495.85,175.59 496.30,174.01 496.75,170.63 497.20,165.46 497.65,160.31 498.10,158.10 498.55,160.31 499.00,165.46 499.45,170.63 499.90,174.01 500.35,175.59 500.80,176.13 501.25,176.27 501.70,176.30 502.15,176.30 502.60,176.30" fill="none" stroke="#b6dca0" stroke-width="0.75"/>
<polyline points="498.30,176.30 498.75,176.30 499.20,176.30 499.65,176.28 500.10,176.19 500.55,175.86 501.00,174.88 501.45,172.78 501.90,169.57 502.35,166.37 502.80,165.00 503.25,166.37 503.70,169.57 504.15,172.78 504.60,174.88 505.05,175.86 505.50,176.19 505.95,176.28 506.40,176.30 506.85,176.30 507.30,176.30" fill="none" stroke="#b6dca0" stroke-width="0.75"/>
<line x1="452.5" y1="176.3" x2="504.5" y2="176.3" stroke="#999" stroke-width="0.5"/>
<text x="454.4" y="147.7" font-size="3.2" text-anchor="middle" fill="#6cc0ea" opacity="0.8">C</text>
<text x="458.3583333333333" y="147.7" font-size="3.2" text-anchor="middle" fill="#6cc0ea" opacity="0.8">C</text>
<text x="462.31666666666666" y="147.7" font-size="3.2" text-anchor="middle" fill="#6cc0ea" opacity="0.8">C</text>
<text x="466.275" y="147.7" font-size="3.2" text-anchor="middle" fill="#6cc0ea" opacity="0.8">C</text>
<text x="470.2333333333333" y="147.7" font-size="3.2" text-anchor="middle" fill="#e88a78" opacity="0.8">T</text>
<text x="474.19166666666666" y="147.7" font-size="3.2" text-anchor="middle" fill="#e88a78" opacity="0.8">T</text>
<text x="478.15" y="147.7" font-size="3.2" text-anchor="middle" fill="#6cc0ea" opacity="0.8">C</text>
<text x="482.1083333333333" y="147.7" font-size="3.2" text-anchor="middle" fill="#6cc0ea" opacity="0.8">C</text>
<text x="486.06666666666666" y="147.7" font-size="3.2" text-anchor="middle" fill="#444" opacity="0.8">G</text>
<text x="490.025" y="147.7" font-size="3.2" text-anchor="middle" fill="#8fd07a" opacity="0.8">A</text>
<text x="493.9833333333333" y="147.7" font-size="3.2" text-anchor="middle" fill="#8fd07a" opacity="0.8">A</text>
<text x="497.94166666666666" y="147.7" font-size="3.2" text-anchor="middle" fill="#8fd07a" opacity="0.8">A</text>
<text x="501.9" y="147.7" font-size="3.2" text-anchor="middle" fill="#6cc0ea" opacity="0.8">C</text>
<polyline points="450.50,211.10 450.95,211.10 451.40,211.10 451.85,211.08 452.30,211.01 452.75,210.74 453.20,209.96 453.65,208.27 454.10,205.68 454.55,203.11 455.00,202.00 455.45,203.11 455.90,205.68 456.35,208.27 456.80,209.96 457.25,210.74 457.70,211.01 458.15,211.08 458.60,211.10 459.05,211.10 459.50,211.10" fill="none" stroke="#6cc0ea" stroke-width="0.75"/>
<polyline points="455.50,211.10 455.95,211.10 456.40,211.09 456.85,211.06 457.30,210.89 457.75,210.21 458.20,208.26 458.65,204.06 459.10,197.64 459.55,191.25 460.00,188.50 460.45,191.25 460.90,197.64 461.35,204.06 461.80,208.26 462.25,210.21 462.70,210.89 463.15,211.06 463.60,211.09 464.05,211.10 464.50,211.10" fill="none" stroke="#6cc0ea" stroke-width="0.75"/>
<polyline points="460.10,211.10 460.55,211.10 461.00,211.10 461.45,211.07 461.90,210.92 462.35,210.34 462.80,208.67 463.25,205.09 463.70,199.61 464.15,194.15 464.60,191.80 465.05,194.15 465.50,199.61 465.95,205.09 466.40,208.67 466.85,210.34 467.30,210.92 467.75,211.07 468.20,211.10 468.65,211.10 469.10,211.10" fill="none" stroke="#6cc0ea" stroke-width="0.75"/>
<polyline points="465.10,211.10 465.55,211.10 466.00,211.10 466.45,211.07 466.90,210.96 467.35,210.50 467.80,209.19 468.25,206.37 468.70,202.05 469.15,197.75 469.60,195.90 470.05,197.75 470.50,202.05 470.95,206.37 471.40,209.19 471.85,210.50 472.30,210.96 472.75,211.07 473.20,211.10 473.65,211.10 474.10,211.10" fill="none" stroke="#444" stroke-width="0.75"/>
<polyline points="469.80,211.10 470.25,211.10 470.70,211.10 471.15,211.09 471.60,211.03 472.05,210.79 472.50,210.12 472.95,208.67 473.40,206.46 473.85,204.25 474.30,203.30 474.75,204.25 475.20,206.46 475.65,208.67 476.10,210.12 476.55,210.79 477.00,211.03 477.45,211.09 477.90,211.10 478.35,211.10 478.80,211.10" fill="none" stroke="#6cc0ea" stroke-width="0.75"/>
<polyline points="474.80,211.10 475.25,211.10 475.70,211.10 476.15,211.08 476.60,210.98 477.05,210.61 477.50,209.53 477.95,207.21 478.40,203.66 478.85,200.12 479.30,198.60 479.75,200.12 480.20,203.66 480.65,207.21 481.10,209.53 481.55,210.61 482.00,210.98 482.45,211.08 482.90,211.10 483.35,211.10 483.80,211.10" fill="none" stroke="#e88a78" stroke-width="0.75"/>
<polyline points="479.20,211.10 479.65,211.10 480.10,211.10 480.55,211.07 481.00,210.94 481.45,210.42 481.90,208.92 482.35,205.71 482.80,200.80 483.25,195.90 483.70,193.80 484.15,195.90 484.60,200.80 485.05,205.71 485.50,208.92 485.95,210.42 486.40,210.94 486.85,211.07 487.30,211.10 487.75,211.10 488.20,211.10" fill="none" stroke="#b6dca0" stroke-width="0.75"/>
<polyline points="484.00,211.10 484.45,211.10 484.90,211.10 485.35,211.07 485.80,210.92 486.25,210.37 486.70,208.76 487.15,205.31 487.60,200.02 488.05,194.76 488.50,192.50 488.95,194.76 489.40,200.02 489.85,205.31 490.30,208.76 490.75,210.37 491.20,210.92 491.65,211.07 492.10,211.10 492.55,211.10 493.00,211.10" fill="none" stroke="#444" stroke-width="0.75"/>
<polyline points="489.30,211.10 489.75,211.10 490.20,211.10 490.65,211.07 491.10,210.94 491.55,210.42 492.00,208.92 492.45,205.71 492.90,200.80 493.35,195.90 493.80,193.80 494.25,195.90 494.70,200.80 495.15,205.71 495.60,208.92 496.05,210.42 496.50,210.94 496.95,211.07 497.40,211.10 497.85,211.10 498.30,211.10" fill="none" stroke="#b6dca0" stroke-width="0.75"/>
<polyline points="494.00,211.10 494.45,211.10 494.90,211.10 495.35,211.07 495.80,210.96 496.25,210.53 496.70,209.26 497.15,206.55 497.60,202.41 498.05,198.27 498.50,196.50 498.95,198.27 499.40,202.41 499.85,206.55 500.30,209.26 500.75,210.53 501.20,210.96 501.65,211.07 502.10,211.10 502.55,211.10 503.00,211.10" fill="none" stroke="#b6dca0" stroke-width="0.75"/>
<polyline points="498.10,211.10 498.55,211.10 499.00,211.10 499.45,211.08 499.90,211.00 500.35,210.69 500.80,209.78 501.25,207.83 501.70,204.85 502.15,201.88 502.60,200.60 503.05,201.88 503.50,204.85 503.95,207.83 504.40,209.78 504.85,210.69 505.30,211.00 505.75,211.08 506.20,211.10 506.65,211.10 507.10,211.10" fill="none" stroke="#b6dca0" stroke-width="0.75"/>
<line x1="453.5" y1="211.1" x2="504.5" y2="211.1" stroke="#999" stroke-width="0.5"/>
<text x="454.4" y="182.6" font-size="3.2" text-anchor="middle" fill="#6cc0ea" opacity="0.8">C</text>
<text x="458.3583333333333" y="182.6" font-size="3.2" text-anchor="middle" fill="#6cc0ea" opacity="0.8">C</text>
<text x="462.31666666666666" y="182.6" font-size="3.2" text-anchor="middle" fill="#6cc0ea" opacity="0.8">C</text>
<text x="466.275" y="182.6" font-size="3.2" text-anchor="middle" fill="#444" opacity="0.8">G</text>
<text x="470.2333333333333" y="182.6" font-size="3.2" text-anchor="middle" fill="#6cc0ea" opacity="0.8">C</text>
<text x="474.19166666666666" y="182.6" font-size="3.2" text-anchor="middle" fill="#e88a78" opacity="0.8">T</text>
<text x="478.15" y="182.6" font-size="3.2" text-anchor="middle" fill="#e88a78" opacity="0.8">T</text>
<text x="482.1083333333333" y="182.6" font-size="3.2" text-anchor="middle" fill="#8fd07a" opacity="0.8">A</text>
<text x="486.06666666666666" y="182.6" font-size="3.2" text-anchor="middle" fill="#444" opacity="0.8">G</text>
<text x="490.025" y="182.6" font-size="3.2" text-anchor="middle" fill="#8fd07a" opacity="0.8">A</text>
<text x="493.9833333333333" y="182.6" font-size="3.2" text-anchor="middle" fill="#8fd07a" opacity="0.8">A</text>
<text x="497.94166666666666" y="182.6" font-size="3.2" text-anchor="middle" fill="#8fd07a" opacity="0.8">A</text>
<text x="501.9" y="182.6" font-size="3.2" text-anchor="middle" fill="#6cc0ea" opacity="0.8">C</text>
<line x1="467" y1="108" x2="467" y2="212" stroke="#666" stroke-width="0.5" stroke-dasharray="0.8,0.8"/>
<line x1="452.5" y1="150.4" x2="505.6" y2="150.4" stroke="#111" stroke-width="1.0"/>
<text x="2.5" y="225" font-size="13.4" text-anchor="start" fill="#111" font-weight="bold">C</text>
<text x="52" y="234.6" font-size="7.5" text-anchor="start" fill="#222">+ K562-A02-NY-ESO-1 E:T=3:1</text>
<line x1="19.2" y1="238" x2="192" y2="238" stroke="#111" stroke-width="1.3"/>
<line x1="4.8" y1="305" x2="4.8" y2="243.7" stroke="#222" stroke-width="0.9"/>
<path d="M4.80,240.50 L6.20,243.70 L3.40,243.70 Z" fill="#222" stroke="none" stroke-width="1"/>
<text x="7.6" y="318.8" font-size="7.5" text-anchor="middle" fill="#222" transform="rotate(-90 7.6 318.8)">CD8</text>
<rect x="19.8" y="244.2" width="78.2" height="80.40000000000003" fill="none" stroke="#bdbdbd" stroke-width="0.8" rx="0"/>
<line x1="18.8" y1="247.2" x2="19.8" y2="247.2" stroke="#c8c8c8" stroke-width="0.4"/>
<line x1="18.8" y1="249.39999999999998" x2="19.8" y2="249.39999999999998" stroke="#c8c8c8" stroke-width="0.4"/>
<line x1="18.8" y1="251.59999999999997" x2="19.8" y2="251.59999999999997" stroke="#c8c8c8" stroke-width="0.4"/>
<line x1="18.8" y1="253.79999999999995" x2="19.8" y2="253.79999999999995" stroke="#c8c8c8" stroke-width="0.4"/>
<line x1="18.8" y1="255.99999999999994" x2="19.8" y2="255.99999999999994" stroke="#c8c8c8" stroke-width="0.4"/>
<line x1="18.8" y1="258.19999999999993" x2="19.8" y2="258.19999999999993" stroke="#c8c8c8" stroke-width="0.4"/>
<line x1="18.8" y1="260.3999999999999" x2="19.8" y2="260.3999999999999" stroke="#c8c8c8" stroke-width="0.4"/>
<line x1="18.8" y1="262.5999999999999" x2="19.8" y2="262.5999999999999" stroke="#c8c8c8" stroke-width="0.4"/>
<line x1="18.8" y1="264.7999999999999" x2="19.8" y2="264.7999999999999" stroke="#c8c8c8" stroke-width="0.4"/>
<line x1="18.8" y1="266.9999999999999" x2="19.8" y2="266.9999999999999" stroke="#c8c8c8" stroke-width="0.4"/>
<line x1="18.8" y1="269.1999999999999" x2="19.8" y2="269.1999999999999" stroke="#c8c8c8" stroke-width="0.4"/>
<line x1="18.8" y1="271.39999999999986" x2="19.8" y2="271.39999999999986" stroke="#c8c8c8" stroke-width="0.4"/>
<line x1="18.8" y1="273.59999999999985" x2="19.8" y2="273.59999999999985" stroke="#c8c8c8" stroke-width="0.4"/>
<line x1="18.8" y1="275.79999999999984" x2="19.8" y2="275.79999999999984" stroke="#c8c8c8" stroke-width="0.4"/>
<line x1="18.8" y1="277.99999999999983" x2="19.8" y2="277.99999999999983" stroke="#c8c8c8" stroke-width="0.4"/>
<line x1="18.8" y1="280.1999999999998" x2="19.8" y2="280.1999999999998" stroke="#c8c8c8" stroke-width="0.4"/>
<line x1="18.8" y1="282.3999999999998" x2="19.8" y2="282.3999999999998" stroke="#c8c8c8" stroke-width="0.4"/>
<line x1="18.8" y1="284.5999999999998" x2="19.8" y2="284.5999999999998" stroke="#c8c8c8" stroke-width="0.4"/>
<line x1="18.8" y1="286.7999999999998" x2="19.8" y2="286.7999999999998" stroke="#c8c8c8" stroke-width="0.4"/>
<line x1="18.8" y1="288.9999999999998" x2="19.8" y2="288.9999999999998" stroke="#c8c8c8" stroke-width="0.4"/>
<line x1="18.8" y1="291.19999999999976" x2="19.8" y2="291.19999999999976" stroke="#c8c8c8" stroke-width="0.4"/>
<line x1="18.8" y1="293.39999999999975" x2="19.8" y2="293.39999999999975" stroke="#c8c8c8" stroke-width="0.4"/>
<line x1="18.8" y1="295.59999999999974" x2="19.8" y2="295.59999999999974" stroke="#c8c8c8" stroke-width="0.4"/>
<line x1="18.8" y1="297.7999999999997" x2="19.8" y2="297.7999999999997" stroke="#c8c8c8" stroke-width="0.4"/>
<line x1="18.8" y1="299.9999999999997" x2="19.8" y2="299.9999999999997" stroke="#c8c8c8" stroke-width="0.4"/>
<line x1="18.8" y1="302.1999999999997" x2="19.8" y2="302.1999999999997" stroke="#c8c8c8" stroke-width="0.4"/>
<line x1="18.8" y1="304.3999999999997" x2="19.8" y2="304.3999999999997" stroke="#c8c8c8" stroke-width="0.4"/>
<line x1="18.8" y1="306.5999999999997" x2="19.8" y2="306.5999999999997" stroke="#c8c8c8" stroke-width="0.4"/>
<line x1="18.8" y1="308.79999999999967" x2="19.8" y2="308.79999999999967" stroke="#c8c8c8" stroke-width="0.4"/>
<line x1="18.8" y1="310.99999999999966" x2="19.8" y2="310.99999999999966" stroke="#c8c8c8" stroke-width="0.4"/>
<line x1="18.8" y1="313.19999999999965" x2="19.8" y2="313.19999999999965" stroke="#c8c8c8" stroke-width="0.4"/>
<line x1="18.8" y1="315.39999999999964" x2="19.8" y2="315.39999999999964" stroke="#c8c8c8" stroke-width="0.4"/>
<line x1="18.8" y1="317.5999999999996" x2="19.8" y2="317.5999999999996" stroke="#c8c8c8" stroke-width="0.4"/>
<line x1="18.8" y1="319.7999999999996" x2="19.8" y2="319.7999999999996" stroke="#c8c8c8" stroke-width="0.4"/>
<line x1="18.8" y1="321.9999999999996" x2="19.8" y2="321.9999999999996" stroke="#c8c8c8" stroke-width="0.4"/>
<line x1="22.8" y1="324.6" x2="22.8" y2="325.6" stroke="#c8c8c8" stroke-width="0.4"/>
<line x1="25.0" y1="324.6" x2="25.0" y2="325.6" stroke="#c8c8c8" stroke-width="0.4"/>
<line x1="27.2" y1="324.6" x2="27.2" y2="325.6" stroke="#c8c8c8" stroke-width="0.4"/>
<line x1="29.4" y1="324.6" x2="29.4" y2="325.6" stroke="#c8c8c8" stroke-width="0.4"/>
<line x1="31.599999999999998" y1="324.6" x2="31.599999999999998" y2="325.6" stroke="#c8c8c8" stroke-width="0.4"/>
<line x1="33.8" y1="324.6" x2="33.8" y2="325.6" stroke="#c8c8c8" stroke-width="0.4"/>
<line x1="36.0" y1="324.6" x2="36.0" y2="325.6" stroke="#c8c8c8" stroke-width="0.4"/>
<line x1="38.2" y1="324.6" x2="38.2" y2="325.6" stroke="#c8c8c8" stroke-width="0.4"/>
<line x1="40.400000000000006" y1="324.6" x2="40.400000000000006" y2="325.6" stroke="#c8c8c8" stroke-width="0.4"/>
<line x1="42.60000000000001" y1="324.6" x2="42.60000000000001" y2="325.6" stroke="#c8c8c8" stroke-width="0.4"/>
<line x1="44.80000000000001" y1="324.6" x2="44.80000000000001" y2="325.6" stroke="#c8c8c8" stroke-width="0.4"/>
<line x1="47.000000000000014" y1="324.6" x2="47.000000000000014" y2="325.6" stroke="#c8c8c8" stroke-width="0.4"/>
<line x1="49.20000000000002" y1="324.6" x2="49.20000000000002" y2="325.6" stroke="#c8c8c8" stroke-width="0.4"/>
<line x1="51.40000000000002" y1="324.6" x2="51.40000000000002" y2="325.6" stroke="#c8c8c8" stroke-width="0.4"/>
<line x1="53.60000000000002" y1="324.6" x2="53.60000000000002" y2="325.6" stroke="#c8c8c8" stroke-width="0.4"/>
<line x1="55.800000000000026" y1="324.6" x2="55.800000000000026" y2="325.6" stroke="#c8c8c8" stroke-width="0.4"/>
<line x1="58.00000000000003" y1="324.6" x2="58.00000000000003" y2="325.6" stroke="#c8c8c8" stroke-width="0.4"/>
<line x1="60.20000000000003" y1="324.6" x2="60.20000000000003" y2="325.6" stroke="#c8c8c8" stroke-width="0.4"/>
<line x1="62.400000000000034" y1="324.6" x2="62.400000000000034" y2="325.6" stroke="#c8c8c8" stroke-width="0.4"/>
<line x1="64.60000000000004" y1="324.6" x2="64.60000000000004" y2="325.6" stroke="#c8c8c8" stroke-width="0.4"/>
<line x1="66.80000000000004" y1="324.6" x2="66.80000000000004" y2="325.6" stroke="#c8c8c8" stroke-width="0.4"/>
<line x1="69.00000000000004" y1="324.6" x2="69.00000000000004" y2="325.6" stroke="#c8c8c8" stroke-width="0.4"/>
<line x1="71.20000000000005" y1="324.6" x2="71.20000000000005" y2="325.6" stroke="#c8c8c8" stroke-width="0.4"/>
<line x1="73.40000000000005" y1="324.6" x2="73.40000000000005" y2="325.6" stroke="#c8c8c8" stroke-width="0.4"/>
<line x1="75.60000000000005" y1="324.6" x2="75.60000000000005" y2="325.6" stroke="#c8c8c8" stroke-width="0.4"/>
<line x1="77.80000000000005" y1="324.6" x2="77.80000000000005" y2="325.6" stroke="#c8c8c8" stroke-width="0.4"/>
<line x1="80.00000000000006" y1="324.6" x2="80.00000000000006" y2="325.6" stroke="#c8c8c8" stroke-width="0.4"/>
<line x1="82.20000000000006" y1="324.6" x2="82.20000000000006" y2="325.6" stroke="#c8c8c8" stroke-width="0.4"/>
<line x1="84.40000000000006" y1="324.6" x2="84.40000000000006" y2="325.6" stroke="#c8c8c8" stroke-width="0.4"/>
<line x1="86.60000000000007" y1="324.6" x2="86.60000000000007" y2="325.6" stroke="#c8c8c8" stroke-width="0.4"/>
<line x1="88.80000000000007" y1="324.6" x2="88.80000000000007" y2="325.6" stroke="#c8c8c8" stroke-width="0.4"/>
<line x1="91.00000000000007" y1="324.6" x2="91.00000000000007" y2="325.6" stroke="#c8c8c8" stroke-width="0.4"/>
<line x1="93.20000000000007" y1="324.6" x2="93.20000000000007" y2="325.6" stroke="#c8c8c8" stroke-width="0.4"/>
<line x1="95.40000000000008" y1="324.6" x2="95.40000000000008" y2="325.6" stroke="#c8c8c8" stroke-width="0.4"/>
<text x="51" y="254.8" font-size="7.8" text-anchor="start" fill="#222">WT</text>
<path d="M35.50,272.30 C36.97,270.60 39.30,270.08 42.30,269.80 C45.30,269.52 50.80,270.20 53.50,270.60 C56.20,271.00 56.12,271.76 58.50,272.20 C60.88,272.64 64.83,272.79 67.75,273.26 C70.67,273.73 73.96,273.38 76.00,275.00 C78.04,276.62 79.92,280.33 80.00,283.00 C80.08,285.67 78.54,289.61 76.50,291.00 C74.46,292.39 70.92,291.23 67.75,291.35 C64.58,291.47 60.64,291.34 57.50,291.70 C54.36,292.06 51.18,292.92 48.90,293.50 C46.62,294.08 45.67,295.38 43.84,295.20 C42.01,295.02 39.57,293.93 37.90,292.40 C36.23,290.87 34.53,288.07 33.80,286.00 C33.07,283.93 33.22,282.28 33.50,280.00 C33.78,277.72 34.03,274.00 35.50,272.30 Z" fill="url(#gtail)" stroke="#0a0a0a" stroke-width="1.9"/>
<ellipse cx="57.5" cy="283.5" rx="3.5" ry="7.619999999999993" fill="#111" stroke="none" stroke-width="1" opacity="0.55" filter="url(#bl)"/>
<path d="M35.50,272.30 C36.97,270.60 39.47,270.05 42.30,269.80 C45.13,269.55 50.30,269.97 52.50,270.80 C54.70,271.63 55.08,272.52 55.50,274.80 C55.92,277.08 56.10,281.43 55.00,284.50 C53.90,287.57 50.76,291.42 48.90,293.20 C47.04,294.98 45.67,295.33 43.84,295.20 C42.01,295.07 39.57,293.93 37.90,292.40 C36.23,290.87 34.53,288.07 33.80,286.00 C33.07,283.93 33.22,282.28 33.50,280.00 C33.78,277.72 34.03,274.00 35.50,272.30 Z" fill="#8c8c8c" stroke="#0a0a0a" stroke-width="0.9"/>
<path d="M36.08,272.90 C37.43,271.34 39.73,270.83 42.34,270.60 C44.95,270.37 49.70,270.75 51.72,271.52 C53.75,272.29 54.10,273.10 54.48,275.20 C54.87,277.30 55.04,281.30 54.02,284.12 C53.01,286.95 50.12,290.49 48.41,292.13 C46.70,293.77 45.44,294.09 43.76,293.97 C42.07,293.85 39.83,292.80 38.29,291.39 C36.75,289.98 35.19,287.41 34.52,285.50 C33.85,283.60 33.98,282.08 34.24,279.98 C34.50,277.88 34.73,274.46 36.08,272.90 Z" fill="none" stroke="#e0e0e0" stroke-width="0.4"/>
<path d="M36.96,273.80 C38.13,272.44 40.13,272.00 42.40,271.80 C44.67,271.60 48.80,271.93 50.56,272.60 C52.32,273.27 52.63,273.97 52.96,275.80 C53.29,277.63 53.44,281.11 52.56,283.56 C51.68,286.01 49.17,289.09 47.68,290.52 C46.19,291.95 45.10,292.23 43.63,292.12 C42.17,292.01 40.22,291.11 38.88,289.88 C37.54,288.65 36.19,286.41 35.60,284.76 C35.01,283.11 35.13,281.79 35.36,279.96 C35.59,278.13 35.79,275.16 36.96,273.80 Z" fill="#ababab" stroke="#0a0a0a" stroke-width="0.9"/>
<path d="M37.54,274.40 C38.60,273.18 40.40,272.78 42.44,272.60 C44.48,272.42 48.20,272.72 49.78,273.32 C51.37,273.92 51.64,274.56 51.94,276.20 C52.24,277.84 52.38,280.98 51.58,283.18 C50.79,285.39 48.53,288.16 47.19,289.45 C45.85,290.73 44.87,290.98 43.55,290.89 C42.23,290.79 40.48,289.98 39.27,288.87 C38.07,287.77 36.85,285.75 36.32,284.26 C35.79,282.78 35.90,281.59 36.10,279.94 C36.31,278.30 36.49,275.62 37.54,274.40 Z" fill="none" stroke="#e0e0e0" stroke-width="0.4"/>
<path d="M38.35,275.23 C39.24,274.19 40.77,273.85 42.49,273.70 C44.22,273.55 47.38,273.80 48.72,274.31 C50.06,274.82 50.29,275.36 50.55,276.75 C50.80,278.14 50.91,280.80 50.24,282.67 C49.57,284.54 47.66,286.89 46.52,287.97 C45.39,289.06 44.55,289.28 43.43,289.19 C42.32,289.11 40.83,288.42 39.81,287.49 C38.79,286.55 37.76,284.84 37.31,283.58 C36.86,282.32 36.95,281.31 37.13,279.92 C37.30,278.53 37.45,276.26 38.35,275.23 Z" fill="#8c8c8c" stroke="#0a0a0a" stroke-width="0.9"/>
<path d="M38.93,275.82 C39.71,274.92 41.03,274.63 42.53,274.50 C44.04,274.37 46.78,274.59 47.94,275.03 C49.11,275.47 49.31,275.94 49.53,277.15 C49.75,278.36 49.85,280.67 49.27,282.29 C48.68,283.92 47.02,285.96 46.03,286.90 C45.05,287.85 44.32,288.03 43.35,287.96 C42.38,287.89 41.09,287.29 40.20,286.48 C39.32,285.67 38.42,284.18 38.03,283.09 C37.64,281.99 37.72,281.12 37.87,279.91 C38.02,278.70 38.15,276.73 38.93,275.82 Z" fill="none" stroke="#e0e0e0" stroke-width="0.4"/>
<path d="M39.66,276.57 C40.29,275.84 41.37,275.61 42.58,275.50 C43.80,275.39 46.02,275.57 46.97,275.93 C47.92,276.29 48.08,276.67 48.26,277.65 C48.44,278.63 48.52,280.50 48.05,281.82 C47.57,283.14 46.22,284.80 45.42,285.56 C44.62,286.33 44.04,286.48 43.25,286.42 C42.46,286.36 41.41,285.88 40.69,285.22 C39.97,284.56 39.25,283.35 38.93,282.47 C38.61,281.58 38.68,280.87 38.80,279.89 C38.92,278.90 39.03,277.31 39.66,276.57 Z" fill="#707070" stroke="#0a0a0a" stroke-width="0.9"/>
<path d="M40.24,277.18 C40.76,276.58 41.63,276.39 42.62,276.30 C43.62,276.21 45.42,276.36 46.20,276.65 C46.97,276.94 47.10,277.25 47.24,278.05 C47.39,278.85 47.45,280.37 47.07,281.44 C46.69,282.52 45.59,283.87 44.93,284.49 C44.28,285.11 43.81,285.24 43.16,285.19 C42.52,285.14 41.67,284.75 41.09,284.21 C40.50,283.67 39.91,282.69 39.65,281.97 C39.39,281.25 39.45,280.67 39.55,279.87 C39.64,279.07 39.73,277.77 40.24,277.18 Z" fill="none" stroke="#e0e0e0" stroke-width="0.4"/>
<path d="M40.90,277.85 C41.28,277.41 41.93,277.26 42.67,277.20 C43.41,277.13 44.75,277.24 45.32,277.46 C45.89,277.68 45.99,277.91 46.10,278.50 C46.21,279.09 46.26,280.22 45.97,281.02 C45.69,281.82 44.87,282.82 44.39,283.28 C43.90,283.75 43.55,283.84 43.07,283.80 C42.59,283.77 41.96,283.47 41.53,283.08 C41.09,282.68 40.65,281.95 40.46,281.41 C40.27,280.87 40.31,280.45 40.38,279.85 C40.46,279.26 40.52,278.29 40.90,277.85 Z" fill="#4a4a4a" stroke="#0a0a0a" stroke-width="0.9"/>
<path d="M41.49,278.45 C41.75,278.14 42.20,278.05 42.71,278.00 C43.22,277.95 44.15,278.03 44.55,278.18 C44.94,278.33 45.01,278.49 45.09,278.90 C45.16,279.31 45.19,280.09 45.00,280.65 C44.80,281.20 44.23,281.89 43.90,282.21 C43.56,282.53 43.32,282.60 42.99,282.57 C42.66,282.55 42.22,282.34 41.92,282.07 C41.62,281.79 41.31,281.29 41.18,280.92 C41.05,280.54 41.07,280.25 41.13,279.84 C41.18,279.43 41.22,278.76 41.49,278.45 Z" fill="none" stroke="#e0e0e0" stroke-width="0.4"/>
<circle cx="42.8" cy="279.8" r="1.6" fill="#111" stroke="none" stroke-width="1"/>
<circle cx="80.23933604262703" cy="284.656699118567" r="0.4609865499644238" fill="#111" stroke="none" stroke-width="1"/>
<circle cx="76.76275963333615" cy="286.32726623421513" r="0.3696586577719439" fill="#111" stroke="none" stroke-width="1"/>
<circle cx="82.3749040802287" cy="290.6681161829774" r="0.42780620429840227" fill="#111" stroke="none" stroke-width="1"/>
<circle cx="80.27385587005638" cy="293.9107191279645" r="0.49107905225673437" fill="#111" stroke="none" stroke-width="1"/>
<circle cx="74.5536162128933" cy="283.26524077833636" r="0.5417204421632486" fill="#111" stroke="none" stroke-width="1"/>
<circle cx="81.06914397177653" cy="286.5146434948464" r="0.610413592142989" fill="#111" stroke="none" stroke-width="1"/>
<circle cx="77.52977850135863" cy="288.69566305213056" r="0.5514234426108777" fill="#111" stroke="none" stroke-width="1"/>
<circle cx="81.89170133684352" cy="289.0437200488798" r="0.5273298748793953" fill="#111" stroke="none" stroke-width="1"/>
<circle cx="79.63795723460073" cy="274.13574090512986" r="0.6096581710936837" fill="#111" stroke="none" stroke-width="1"/>
<circle cx="78.00888365767807" cy="288.235890443349" r="0.6136438400766445" fill="#111" stroke="none" stroke-width="1"/>
<circle cx="70.85378389764085" cy="293.3421973351677" r="0.39874085100018597" fill="#111" stroke="none" stroke-width="1"/>
<circle cx="72.7195385761824" cy="292.3892421121015" r="0.5338966804261303" fill="#111" stroke="none" stroke-width="1"/>
<circle cx="74.3956331972679" cy="291.6949086194617" r="0.33399221505016724" fill="#111" stroke="none" stroke-width="1"/>
<circle cx="60.165219236512456" cy="293.43096027779643" r="0.40904046665685734" fill="#111" stroke="none" stroke-width="1"/>
<circle cx="68.97293825363629" cy="292.10205239685104" r="0.42681074595726487" fill="#111" stroke="none" stroke-width="1"/>
<circle cx="63.79612456516541" cy="292.20182097754036" r="0.4462685268513409" fill="#111" stroke="none" stroke-width="1"/>
<rect x="53.2" y="266.2" width="44.3" height="32.10000000000002" fill="none" stroke="#8a8a8a" stroke-width="0.7" rx="0"/>
<text x="99.5" y="294.4" font-size="7.6" text-anchor="end" fill="#222">19.3</text>
<text x="16.400000000000002" y="268.0" font-size="5.4" text-anchor="end" fill="#333">10<tspan font-size="4.6" dy="-3.5">4</tspan></text>
<text x="16.400000000000002" y="290.1" font-size="5.4" text-anchor="end" fill="#333">10<tspan font-size="4.6" dy="-3.5">3</tspan></text>
<text x="13.400000000000002" y="311.6" font-size="5.0" text-anchor="end" fill="#333">0</text>
<line x1="18.2" y1="264.4" x2="19.8" y2="264.4" stroke="#444" stroke-width="0.6"/>
<line x1="18.2" y1="286.5" x2="19.8" y2="286.5" stroke="#444" stroke-width="0.6"/>
<line x1="19.3" y1="305.8" x2="19.3" y2="313.8" stroke="#222" stroke-width="1.1" stroke-dasharray="1.2,0.6"/>
<text x="44.2" y="333.8" font-size="5.0" text-anchor="middle" fill="#333">0</text>
<text x="68.9" y="334.0" font-size="5.4" text-anchor="start" fill="#333">10<tspan font-size="4.6" dy="-3.5">3</tspan></text>
<line x1="71" y1="324.6" x2="71" y2="326.20000000000005" stroke="#444" stroke-width="0.6"/>
<rect x="40.7" y="324.3" width="6.2" height="1.3" fill="#222" stroke="none" stroke-width="1" rx="0"/>
<rect x="112.8" y="244.6" width="79.50000000000001" height="79.79999999999998" fill="none" stroke="#bdbdbd" stroke-width="0.8" rx="0"/>
<line x1="111.8" y1="247.6" x2="112.8" y2="247.6" stroke="#c8c8c8" stroke-width="0.4"/>
<line x1="111.8" y1="249.79999999999998" x2="112.8" y2="249.79999999999998" stroke="#c8c8c8" stroke-width="0.4"/>
<line x1="111.8" y1="251.99999999999997" x2="112.8" y2="251.99999999999997" stroke="#c8c8c8" stroke-width="0.4"/>
<line x1="111.8" y1="254.19999999999996" x2="112.8" y2="254.19999999999996" stroke="#c8c8c8" stroke-width="0.4"/>
<line x1="111.8" y1="256.4" x2="112.8" y2="256.4" stroke="#c8c8c8" stroke-width="0.4"/>
<line x1="111.8" y1="258.59999999999997" x2="112.8" y2="258.59999999999997" stroke="#c8c8c8" stroke-width="0.4"/>
<line x1="111.8" y1="260.79999999999995" x2="112.8" y2="260.79999999999995" stroke="#c8c8c8" stroke-width="0.4"/>
<line x1="111.8" y1="262.99999999999994" x2="112.8" y2="262.99999999999994" stroke="#c8c8c8" stroke-width="0.4"/>
<line x1="111.8" y1="265.19999999999993" x2="112.8" y2="265.19999999999993" stroke="#c8c8c8" stroke-width="0.4"/>
<line x1="111.8" y1="267.3999999999999" x2="112.8" y2="267.3999999999999" stroke="#c8c8c8" stroke-width="0.4"/>
<line x1="111.8" y1="269.5999999999999" x2="112.8" y2="269.5999999999999" stroke="#c8c8c8" stroke-width="0.4"/>
<line x1="111.8" y1="271.7999999999999" x2="112.8" y2="271.7999999999999" stroke="#c8c8c8" stroke-width="0.4"/>
<line x1="111.8" y1="273.9999999999999" x2="112.8" y2="273.9999999999999" stroke="#c8c8c8" stroke-width="0.4"/>
<line x1="111.8" y1="276.1999999999999" x2="112.8" y2="276.1999999999999" stroke="#c8c8c8" stroke-width="0.4"/>
<line x1="111.8" y1="278.39999999999986" x2="112.8" y2="278.39999999999986" stroke="#c8c8c8" stroke-width="0.4"/>
<line x1="111.8" y1="280.59999999999985" x2="112.8" y2="280.59999999999985" stroke="#c8c8c8" stroke-width="0.4"/>
<line x1="111.8" y1="282.79999999999984" x2="112.8" y2="282.79999999999984" stroke="#c8c8c8" stroke-width="0.4"/>
<line x1="111.8" y1="284.99999999999983" x2="112.8" y2="284.99999999999983" stroke="#c8c8c8" stroke-width="0.4"/>
<line x1="111.8" y1="287.1999999999998" x2="112.8" y2="287.1999999999998" stroke="#c8c8c8" stroke-width="0.4"/>
<line x1="111.8" y1="289.3999999999998" x2="112.8" y2="289.3999999999998" stroke="#c8c8c8" stroke-width="0.4"/>
<line x1="111.8" y1="291.5999999999998" x2="112.8" y2="291.5999999999998" stroke="#c8c8c8" stroke-width="0.4"/>
<line x1="111.8" y1="293.7999999999998" x2="112.8" y2="293.7999999999998" stroke="#c8c8c8" stroke-width="0.4"/>
<line x1="111.8" y1="295.9999999999998" x2="112.8" y2="295.9999999999998" stroke="#c8c8c8" stroke-width="0.4"/>
<line x1="111.8" y1="298.19999999999976" x2="112.8" y2="298.19999999999976" stroke="#c8c8c8" stroke-width="0.4"/>
<line x1="111.8" y1="300.39999999999975" x2="112.8" y2="300.39999999999975" stroke="#c8c8c8" stroke-width="0.4"/>
<line x1="111.8" y1="302.59999999999974" x2="112.8" y2="302.59999999999974" stroke="#c8c8c8" stroke-width="0.4"/>
<line x1="111.8" y1="304.7999999999997" x2="112.8" y2="304.7999999999997" stroke="#c8c8c8" stroke-width="0.4"/>
<line x1="111.8" y1="306.9999999999997" x2="112.8" y2="306.9999999999997" stroke="#c8c8c8" stroke-width="0.4"/>
<line x1="111.8" y1="309.1999999999997" x2="112.8" y2="309.1999999999997" stroke="#c8c8c8" stroke-width="0.4"/>
<line x1="111.8" y1="311.3999999999997" x2="112.8" y2="311.3999999999997" stroke="#c8c8c8" stroke-width="0.4"/>
<line x1="111.8" y1="313.5999999999997" x2="112.8" y2="313.5999999999997" stroke="#c8c8c8" stroke-width="0.4"/>
<line x1="111.8" y1="315.79999999999967" x2="112.8" y2="315.79999999999967" stroke="#c8c8c8" stroke-width="0.4"/>
<line x1="111.8" y1="317.99999999999966" x2="112.8" y2="317.99999999999966" stroke="#c8c8c8" stroke-width="0.4"/>
<line x1="111.8" y1="320.19999999999965" x2="112.8" y2="320.19999999999965" stroke="#c8c8c8" stroke-width="0.4"/>
<line x1="111.8" y1="322.39999999999964" x2="112.8" y2="322.39999999999964" stroke="#c8c8c8" stroke-width="0.4"/>
<line x1="115.8" y1="324.4" x2="115.8" y2="325.4" stroke="#c8c8c8" stroke-width="0.4"/>
<line x1="118.0" y1="324.4" x2="118.0" y2="325.4" stroke="#c8c8c8" stroke-width="0.4"/>
<line x1="120.2" y1="324.4" x2="120.2" y2="325.4" stroke="#c8c8c8" stroke-width="0.4"/>
<line x1="122.4" y1="324.4" x2="122.4" y2="325.4" stroke="#c8c8c8" stroke-width="0.4"/>
<line x1="124.60000000000001" y1="324.4" x2="124.60000000000001" y2="325.4" stroke="#c8c8c8" stroke-width="0.4"/>
<line x1="126.80000000000001" y1="324.4" x2="126.80000000000001" y2="325.4" stroke="#c8c8c8" stroke-width="0.4"/>
<line x1="129.0" y1="324.4" x2="129.0" y2="325.4" stroke="#c8c8c8" stroke-width="0.4"/>
<line x1="131.2" y1="324.4" x2="131.2" y2="325.4" stroke="#c8c8c8" stroke-width="0.4"/>
<line x1="133.39999999999998" y1="324.4" x2="133.39999999999998" y2="325.4" stroke="#c8c8c8" stroke-width="0.4"/>
<line x1="135.59999999999997" y1="324.4" x2="135.59999999999997" y2="325.4" stroke="#c8c8c8" stroke-width="0.4"/>
<line x1="137.79999999999995" y1="324.4" x2="137.79999999999995" y2="325.4" stroke="#c8c8c8" stroke-width="0.4"/>
<line x1="139.99999999999994" y1="324.4" x2="139.99999999999994" y2="325.4" stroke="#c8c8c8" stroke-width="0.4"/>
<line x1="142.19999999999993" y1="324.4" x2="142.19999999999993" y2="325.4" stroke="#c8c8c8" stroke-width="0.4"/>
<line x1="144.39999999999992" y1="324.4" x2="144.39999999999992" y2="325.4" stroke="#c8c8c8" stroke-width="0.4"/>
<line x1="146.5999999999999" y1="324.4" x2="146.5999999999999" y2="325.4" stroke="#c8c8c8" stroke-width="0.4"/>
<line x1="148.7999999999999" y1="324.4" x2="148.7999999999999" y2="325.4" stroke="#c8c8c8" stroke-width="0.4"/>
<line x1="150.9999999999999" y1="324.4" x2="150.9999999999999" y2="325.4" stroke="#c8c8c8" stroke-width="0.4"/>
<line x1="153.19999999999987" y1="324.4" x2="153.19999999999987" y2="325.4" stroke="#c8c8c8" stroke-width="0.4"/>
<line x1="155.39999999999986" y1="324.4" x2="155.39999999999986" y2="325.4" stroke="#c8c8c8" stroke-width="0.4"/>
<line x1="157.59999999999985" y1="324.4" x2="157.59999999999985" y2="325.4" stroke="#c8c8c8" stroke-width="0.4"/>
<line x1="159.79999999999984" y1="324.4" x2="159.79999999999984" y2="325.4" stroke="#c8c8c8" stroke-width="0.4"/>
<line x1="161.99999999999983" y1="324.4" x2="161.99999999999983" y2="325.4" stroke="#c8c8c8" stroke-width="0.4"/>
<line x1="164.19999999999982" y1="324.4" x2="164.19999999999982" y2="325.4" stroke="#c8c8c8" stroke-width="0.4"/>
<line x1="166.3999999999998" y1="324.4" x2="166.3999999999998" y2="325.4" stroke="#c8c8c8" stroke-width="0.4"/>
<line x1="168.5999999999998" y1="324.4" x2="168.5999999999998" y2="325.4" stroke="#c8c8c8" stroke-width="0.4"/>
<line x1="170.79999999999978" y1="324.4" x2="170.79999999999978" y2="325.4" stroke="#c8c8c8" stroke-width="0.4"/>
<line x1="172.99999999999977" y1="324.4" x2="172.99999999999977" y2="325.4" stroke="#c8c8c8" stroke-width="0.4"/>
<line x1="175.19999999999976" y1="324.4" x2="175.19999999999976" y2="325.4" stroke="#c8c8c8" stroke-width="0.4"/>
<line x1="177.39999999999975" y1="324.4" x2="177.39999999999975" y2="325.4" stroke="#c8c8c8" stroke-width="0.4"/>
<line x1="179.59999999999974" y1="324.4" x2="179.59999999999974" y2="325.4" stroke="#c8c8c8" stroke-width="0.4"/>
<line x1="181.79999999999973" y1="324.4" x2="181.79999999999973" y2="325.4" stroke="#c8c8c8" stroke-width="0.4"/>
<line x1="183.99999999999972" y1="324.4" x2="183.99999999999972" y2="325.4" stroke="#c8c8c8" stroke-width="0.4"/>
<line x1="186.1999999999997" y1="324.4" x2="186.1999999999997" y2="325.4" stroke="#c8c8c8" stroke-width="0.4"/>
<line x1="188.3999999999997" y1="324.4" x2="188.3999999999997" y2="325.4" stroke="#c8c8c8" stroke-width="0.4"/>
<text x="146" y="254.9" font-size="7.8" text-anchor="start" fill="#222">I/A</text>
<path d="M127.80,272.10 C129.01,270.40 130.71,269.88 133.08,269.60 C135.45,269.32 139.68,270.00 142.00,270.40 C144.32,270.80 144.08,271.30 147.00,272.00 C149.92,272.70 155.50,273.53 159.50,274.61 C163.50,275.70 168.42,276.81 171.00,278.50 C173.58,280.19 174.92,282.67 175.00,284.75 C175.08,286.83 174.08,289.92 171.50,291.00 C168.92,292.08 163.75,291.17 159.50,291.25 C155.25,291.33 149.49,291.16 146.00,291.50 C142.51,291.84 140.48,292.72 138.54,293.30 C136.60,293.88 135.87,295.18 134.35,295.00 C132.84,294.82 130.82,293.73 129.44,292.20 C128.06,290.67 126.71,287.87 126.10,285.80 C125.49,283.73 125.52,282.08 125.80,279.80 C126.08,277.52 126.59,273.80 127.80,272.10 Z" fill="url(#gtail)" stroke="#0a0a0a" stroke-width="1.9"/>
<ellipse cx="146" cy="283.3" rx="3.5" ry="7.619999999999993" fill="#111" stroke="none" stroke-width="1" opacity="0.55" filter="url(#bl)"/>
<path d="M127.80,272.10 C129.01,270.40 130.88,269.85 133.08,269.60 C135.28,269.35 139.18,269.77 141.00,270.60 C142.82,271.43 143.58,272.32 144.00,274.60 C144.42,276.88 144.41,281.23 143.50,284.30 C142.59,287.37 140.06,291.22 138.54,293.00 C137.02,294.78 135.87,295.13 134.35,295.00 C132.84,294.87 130.82,293.73 129.44,292.20 C128.06,290.67 126.71,287.87 126.10,285.80 C125.49,283.73 125.52,282.08 125.80,279.80 C126.08,277.52 126.59,273.80 127.80,272.10 Z" fill="#8c8c8c" stroke="#0a0a0a" stroke-width="0.9"/>
<path d="M128.41,272.69 C129.52,271.13 131.24,270.62 133.27,270.39 C135.29,270.16 138.88,270.55 140.55,271.31 C142.23,272.08 142.93,272.89 143.31,274.99 C143.70,277.09 143.69,281.09 142.85,283.92 C142.01,286.74 139.69,290.28 138.29,291.92 C136.89,293.56 135.83,293.88 134.44,293.76 C133.04,293.64 131.18,292.59 129.92,291.18 C128.65,289.77 127.40,287.20 126.84,285.30 C126.29,283.39 126.31,281.88 126.57,279.78 C126.83,277.68 127.29,274.26 128.41,272.69 Z" fill="none" stroke="#e0e0e0" stroke-width="0.4"/>
<path d="M129.32,273.58 C130.29,272.22 131.78,271.78 133.54,271.58 C135.30,271.38 138.42,271.71 139.88,272.38 C141.34,273.05 141.95,273.75 142.28,275.58 C142.61,277.41 142.61,280.89 141.88,283.34 C141.15,285.79 139.13,288.87 137.91,290.30 C136.69,291.73 135.78,292.01 134.56,291.90 C133.35,291.79 131.73,290.89 130.63,289.66 C129.53,288.43 128.45,286.19 127.96,284.54 C127.47,282.89 127.49,281.57 127.72,279.74 C127.95,277.91 128.35,274.94 129.32,273.58 Z" fill="#ababab" stroke="#0a0a0a" stroke-width="0.9"/>
<path d="M129.93,274.17 C130.80,272.95 132.15,272.55 133.73,272.37 C135.31,272.19 138.12,272.49 139.43,273.09 C140.74,273.69 141.29,274.33 141.59,275.97 C141.89,277.62 141.89,280.75 141.23,282.96 C140.58,285.16 138.76,287.94 137.66,289.22 C136.56,290.50 135.74,290.76 134.65,290.66 C133.55,290.56 132.10,289.75 131.11,288.64 C130.12,287.54 129.14,285.52 128.70,284.04 C128.27,282.55 128.28,281.36 128.49,279.72 C128.69,278.07 129.05,275.40 129.93,274.17 Z" fill="none" stroke="#e0e0e0" stroke-width="0.4"/>
<path d="M130.76,274.99 C131.50,273.95 132.64,273.61 133.98,273.46 C135.33,273.31 137.71,273.56 138.82,274.07 C139.93,274.58 140.39,275.12 140.65,276.51 C140.90,277.90 140.90,280.56 140.34,282.43 C139.79,284.30 138.25,286.65 137.32,287.74 C136.39,288.82 135.69,289.04 134.76,288.95 C133.84,288.87 132.60,288.18 131.76,287.25 C130.93,286.31 130.10,284.60 129.73,283.34 C129.36,282.08 129.37,281.08 129.54,279.68 C129.72,278.29 130.02,276.02 130.76,274.99 Z" fill="#8c8c8c" stroke="#0a0a0a" stroke-width="0.9"/>
<path d="M131.37,275.58 C132.02,274.68 133.00,274.39 134.17,274.25 C135.34,274.12 137.40,274.34 138.37,274.78 C139.33,275.22 139.74,275.69 139.96,276.90 C140.18,278.11 140.18,280.42 139.69,282.04 C139.21,283.67 137.87,285.71 137.06,286.65 C136.26,287.60 135.65,287.79 134.85,287.71 C134.04,287.64 132.97,287.04 132.24,286.23 C131.51,285.42 130.79,283.93 130.47,282.84 C130.15,281.74 130.16,280.87 130.31,279.66 C130.46,278.45 130.73,276.48 131.37,275.58 Z" fill="none" stroke="#e0e0e0" stroke-width="0.4"/>
<path d="M132.13,276.32 C132.65,275.59 133.46,275.35 134.40,275.24 C135.35,275.14 137.03,275.31 137.81,275.67 C138.59,276.03 138.92,276.41 139.10,277.39 C139.28,278.37 139.27,280.25 138.88,281.56 C138.49,282.88 137.41,284.54 136.75,285.31 C136.09,286.07 135.60,286.22 134.95,286.17 C134.30,286.11 133.43,285.62 132.84,284.96 C132.25,284.30 131.66,283.10 131.40,282.21 C131.14,281.32 131.15,280.61 131.27,279.63 C131.39,278.65 131.61,277.05 132.13,276.32 Z" fill="#707070" stroke="#0a0a0a" stroke-width="0.9"/>
<path d="M132.74,276.91 C133.16,276.32 133.82,276.12 134.59,276.04 C135.36,275.95 136.72,276.09 137.36,276.38 C138.00,276.68 138.26,276.99 138.41,277.79 C138.56,278.58 138.55,280.11 138.24,281.18 C137.92,282.25 137.03,283.60 136.50,284.23 C135.97,284.85 135.56,284.97 135.03,284.93 C134.50,284.88 133.80,284.48 133.31,283.94 C132.83,283.41 132.36,282.43 132.15,281.70 C131.93,280.98 131.94,280.40 132.04,279.61 C132.14,278.81 132.32,277.50 132.74,276.91 Z" fill="none" stroke="#e0e0e0" stroke-width="0.4"/>
<path d="M133.42,277.58 C133.74,277.13 134.22,276.99 134.80,276.93 C135.37,276.86 136.38,276.97 136.86,277.19 C137.33,277.40 137.53,277.63 137.64,278.23 C137.74,278.82 137.74,279.95 137.51,280.75 C137.27,281.55 136.61,282.55 136.22,283.01 C135.82,283.47 135.52,283.56 135.13,283.53 C134.73,283.50 134.21,283.20 133.85,282.80 C133.49,282.40 133.14,281.68 132.98,281.14 C132.82,280.60 132.83,280.17 132.90,279.58 C132.98,278.98 133.11,278.02 133.42,277.58 Z" fill="#4a4a4a" stroke="#0a0a0a" stroke-width="0.9"/>
<path d="M134.03,278.17 C134.25,277.86 134.59,277.76 134.98,277.72 C135.38,277.67 136.08,277.75 136.41,277.90 C136.74,278.05 136.87,278.21 136.95,278.62 C137.02,279.03 137.02,279.81 136.86,280.36 C136.69,280.92 136.24,281.61 135.97,281.93 C135.69,282.25 135.48,282.31 135.21,282.29 C134.94,282.27 134.57,282.06 134.33,281.79 C134.08,281.51 133.84,281.01 133.73,280.63 C133.62,280.26 133.62,279.96 133.67,279.55 C133.72,279.14 133.81,278.47 134.03,278.17 Z" fill="none" stroke="#e0e0e0" stroke-width="0.4"/>
<circle cx="135.4" cy="279.5" r="1.6" fill="#111" stroke="none" stroke-width="1"/>
<circle cx="171.9496079667831" cy="292.3714301044122" r="0.55459464099049" fill="#111" stroke="none" stroke-width="1"/>
<circle cx="168.67501678859983" cy="291.5588096287448" r="0.6472968934606446" fill="#111" stroke="none" stroke-width="1"/>
<circle cx="171.12290134945607" cy="279.7726935735082" r="0.6081912599348804" fill="#111" stroke="none" stroke-width="1"/>
<circle cx="168.33598700056393" cy="292.379831736708" r="0.520732251042297" fill="#111" stroke="none" stroke-width="1"/>
<circle cx="170.7187383083451" cy="280.58912472248517" r="0.5994823790820063" fill="#111" stroke="none" stroke-width="1"/>
<circle cx="172.0514426526628" cy="281.8442768537655" r="0.3690381731435688" fill="#111" stroke="none" stroke-width="1"/>
<circle cx="169.38754635998453" cy="293.8267022536669" r="0.3765554279329185" fill="#111" stroke="none" stroke-width="1"/>
<circle cx="169.89434444805374" cy="283.97785106488044" r="0.39522961233584286" fill="#111" stroke="none" stroke-width="1"/>
<circle cx="174.7080331552189" cy="290.0694620837149" r="0.6118301073884604" fill="#111" stroke="none" stroke-width="1"/>
<circle cx="177.08019441926933" cy="287.4470529850407" r="0.36348207304881086" fill="#111" stroke="none" stroke-width="1"/>
<circle cx="164.11633336855846" cy="292.161908292038" r="0.5202263268118396" fill="#111" stroke="none" stroke-width="1"/>
<circle cx="171.4578011916135" cy="292.5108407472961" r="0.5496272363439442" fill="#111" stroke="none" stroke-width="1"/>
<circle cx="152.67076149733748" cy="291.65394140941083" r="0.44994070219915017" fill="#111" stroke="none" stroke-width="1"/>
<circle cx="144.8785773409089" cy="291.8947697128568" r="0.40198403390424775" fill="#111" stroke="none" stroke-width="1"/>
<circle cx="161.09307944308557" cy="291.8123979820271" r="0.31060895618030104" fill="#111" stroke="none" stroke-width="1"/>
<circle cx="168.29781294997622" cy="292.12766103983216" r="0.5396648566021138" fill="#111" stroke="none" stroke-width="1"/>
<rect x="145" y="266.4" width="45" height="31.700000000000045" fill="none" stroke="#8a8a8a" stroke-width="0.7" rx="0"/>
<text x="190.3" y="292.6" font-size="7.6" text-anchor="end" fill="#222">24.6</text>
<text x="109.39999999999999" y="266.0" font-size="5.4" text-anchor="end" fill="#333">10<tspan font-size="4.6" dy="-3.5">4</tspan></text>
<text x="109.39999999999999" y="289.20000000000005" font-size="5.4" text-anchor="end" fill="#333">10<tspan font-size="4.6" dy="-3.5">3</tspan></text>
<text x="106.39999999999999" y="311.6" font-size="5.0" text-anchor="end" fill="#333">0</text>
<line x1="111.2" y1="262.4" x2="112.8" y2="262.4" stroke="#444" stroke-width="0.6"/>
<line x1="111.2" y1="285.6" x2="112.8" y2="285.6" stroke="#444" stroke-width="0.6"/>
<line x1="112.3" y1="305.8" x2="112.3" y2="313.8" stroke="#222" stroke-width="1.1" stroke-dasharray="1.2,0.6"/>
<text x="136.4" y="333.59999999999997" font-size="5.0" text-anchor="middle" fill="#333">0</text>
<text x="162.6" y="333.79999999999995" font-size="5.4" text-anchor="start" fill="#333">10<tspan font-size="4.6" dy="-3.5">3</tspan></text>
<line x1="164.7" y1="324.4" x2="164.7" y2="326.0" stroke="#444" stroke-width="0.6"/>
<rect x="132.9" y="324.09999999999997" width="6.2" height="1.3" fill="#222" stroke="none" stroke-width="1" rx="0"/>
<text x="26" y="337.7" font-size="7.3" text-anchor="start" fill="#222">IFN&#947;</text>
<line x1="48" y1="338.3" x2="170.8" y2="338.3" stroke="#222" stroke-width="0.9"/>
<path d="M174.30,338.30 L170.80,339.90 L170.80,336.70 Z" fill="#222" stroke="none" stroke-width="1"/>
<line x1="221.5" y1="250.8" x2="221.5" y2="329.0" stroke="#111" stroke-width="1"/>
<line x1="219.5" y1="251.3" x2="221.5" y2="251.3" stroke="#222" stroke-width="0.9"/>
<text x="219.1" y="253.8" font-size="7" text-anchor="end" fill="#222">28</text>
<line x1="219.5" y1="270.6" x2="221.5" y2="270.6" stroke="#222" stroke-width="0.9"/>
<text x="219.1" y="273.1" font-size="7" text-anchor="end" fill="#222">21</text>
<line x1="219.5" y1="290" x2="221.5" y2="290" stroke="#222" stroke-width="0.9"/>
<text x="219.1" y="292.5" font-size="7" text-anchor="end" fill="#222">14</text>
<line x1="219.5" y1="309.4" x2="221.5" y2="309.4" stroke="#222" stroke-width="0.9"/>
<text x="219.1" y="311.9" font-size="7" text-anchor="end" fill="#222">7</text>
<line x1="219.5" y1="328.5" x2="221.5" y2="328.5" stroke="#222" stroke-width="0.9"/>
<text x="219.1" y="331.0" font-size="7" text-anchor="end" fill="#222">0</text>
<rect x="224.3" y="273.2" width="11.299999999999983" height="55.30000000000001" fill="#fff" stroke="#222" stroke-width="1.25" rx="0"/>
<rect x="239.3" y="263.8" width="11.299999999999983" height="64.69999999999999" fill="#fff" stroke="#d83030" stroke-width="1.25" rx="0"/>
<line x1="221.5" y1="328.5" x2="252.1" y2="328.5" stroke="#111" stroke-width="1"/>
<line x1="229.95" y1="328.5" x2="229.95" y2="330.3" stroke="#222" stroke-width="0.9"/>
<line x1="244.95" y1="328.5" x2="244.95" y2="330.3" stroke="#222" stroke-width="0.9"/>
<path d="M229.6,254.5 V250.9 H245 V254.5" fill="none" stroke="#222" stroke-width="1.0"/>
<circle cx="235.5" cy="247.70000000000002" r="1.15" fill="#111" stroke="none" stroke-width="1"/>
<circle cx="239.10000000000002" cy="247.70000000000002" r="1.15" fill="#111" stroke="none" stroke-width="1"/>
<text x="229.95" y="338.2" font-size="7.2" text-anchor="middle" fill="#222">WT</text>
<text x="244.95" y="338.2" font-size="7.2" text-anchor="middle" fill="#222">I/A</text>
<text x="231.6" y="235.5" font-size="7.2" text-anchor="middle" fill="#222">IFN&#947;</text>
<text x="207.8" y="288.5" font-size="7.4" text-anchor="middle" fill="#222" transform="rotate(-90 207.8 288.5)">IFN&#947;<tspan font-size="4.9" dy="-2.8">+</tspan><tspan dy="2.8"> of 1G4 T cells (%)</tspan></text>
<circle cx="226.5" cy="273.8" r="1.7" fill="#fff" stroke="#222" stroke-width="1.0"/>
<circle cx="229.8" cy="272.2" r="1.7" fill="#fff" stroke="#222" stroke-width="1.0"/>
<circle cx="233" cy="272.8" r="1.7" fill="#fff" stroke="#222" stroke-width="1.0"/>
<path d="M241.8,262.5 L243.70000000000002,265.8 L239.9,265.8 Z" fill="#fff" stroke="#d83030" stroke-width="0.9"/>
<path d="M245,261 L246.9,264.3 L243.1,264.3 Z" fill="#fff" stroke="#d83030" stroke-width="0.9"/>
<path d="M248.5,262.5 L250.4,265.8 L246.6,265.8 Z" fill="#fff" stroke="#d83030" stroke-width="0.9"/>
<path d="M241.8,265.5 L243.70000000000002,268.8 L239.9,268.8 Z" fill="#fff" stroke="#d83030" stroke-width="0.9"/>
<text x="260.3" y="225" font-size="13.4" text-anchor="start" fill="#111" font-weight="bold">D</text>
<text x="315" y="235.2" font-size="7.5" text-anchor="start" fill="#222">+ 293T-NY-ESO-1 E:T=3:1</text>
<line x1="273" y1="237.8" x2="446" y2="237.8" stroke="#111" stroke-width="1.3"/>
<line x1="267" y1="305" x2="267.0" y2="243.2" stroke="#222" stroke-width="0.9"/>
<path d="M267.00,240.00 L268.40,243.20 L265.60,243.20 Z" fill="#222" stroke="none" stroke-width="1"/>
<text x="269.8" y="319" font-size="7.5" text-anchor="middle" fill="#222" transform="rotate(-90 269.8 319)">CD8</text>
<rect x="282" y="245.2" width="80.5" height="79.30000000000001" fill="none" stroke="#bdbdbd" stroke-width="0.8" rx="0"/>
<line x1="281" y1="248.2" x2="282" y2="248.2" stroke="#c8c8c8" stroke-width="0.4"/>
<line x1="281" y1="250.39999999999998" x2="282" y2="250.39999999999998" stroke="#c8c8c8" stroke-width="0.4"/>
<line x1="281" y1="252.59999999999997" x2="282" y2="252.59999999999997" stroke="#c8c8c8" stroke-width="0.4"/>
<line x1="281" y1="254.79999999999995" x2="282" y2="254.79999999999995" stroke="#c8c8c8" stroke-width="0.4"/>
<line x1="281" y1="256.99999999999994" x2="282" y2="256.99999999999994" stroke="#c8c8c8" stroke-width="0.4"/>
<line x1="281" y1="259.19999999999993" x2="282" y2="259.19999999999993" stroke="#c8c8c8" stroke-width="0.4"/>
<line x1="281" y1="261.3999999999999" x2="282" y2="261.3999999999999" stroke="#c8c8c8" stroke-width="0.4"/>
<line x1="281" y1="263.5999999999999" x2="282" y2="263.5999999999999" stroke="#c8c8c8" stroke-width="0.4"/>
<line x1="281" y1="265.7999999999999" x2="282" y2="265.7999999999999" stroke="#c8c8c8" stroke-width="0.4"/>
<line x1="281" y1="267.9999999999999" x2="282" y2="267.9999999999999" stroke="#c8c8c8" stroke-width="0.4"/>
<line x1="281" y1="270.1999999999999" x2="282" y2="270.1999999999999" stroke="#c8c8c8" stroke-width="0.4"/>
<line x1="281" y1="272.39999999999986" x2="282" y2="272.39999999999986" stroke="#c8c8c8" stroke-width="0.4"/>
<line x1="281" y1="274.59999999999985" x2="282" y2="274.59999999999985" stroke="#c8c8c8" stroke-width="0.4"/>
<line x1="281" y1="276.79999999999984" x2="282" y2="276.79999999999984" stroke="#c8c8c8" stroke-width="0.4"/>
<line x1="281" y1="278.99999999999983" x2="282" y2="278.99999999999983" stroke="#c8c8c8" stroke-width="0.4"/>
<line x1="281" y1="281.1999999999998" x2="282" y2="281.1999999999998" stroke="#c8c8c8" stroke-width="0.4"/>
<line x1="281" y1="283.3999999999998" x2="282" y2="283.3999999999998" stroke="#c8c8c8" stroke-width="0.4"/>
<line x1="281" y1="285.5999999999998" x2="282" y2="285.5999999999998" stroke="#c8c8c8" stroke-width="0.4"/>
<line x1="281" y1="287.7999999999998" x2="282" y2="287.7999999999998" stroke="#c8c8c8" stroke-width="0.4"/>
<line x1="281" y1="289.9999999999998" x2="282" y2="289.9999999999998" stroke="#c8c8c8" stroke-width="0.4"/>
<line x1="281" y1="292.19999999999976" x2="282" y2="292.19999999999976" stroke="#c8c8c8" stroke-width="0.4"/>
<line x1="281" y1="294.39999999999975" x2="282" y2="294.39999999999975" stroke="#c8c8c8" stroke-width="0.4"/>
<line x1="281" y1="296.59999999999974" x2="282" y2="296.59999999999974" stroke="#c8c8c8" stroke-width="0.4"/>
<line x1="281" y1="298.7999999999997" x2="282" y2="298.7999999999997" stroke="#c8c8c8" stroke-width="0.4"/>
<line x1="281" y1="300.9999999999997" x2="282" y2="300.9999999999997" stroke="#c8c8c8" stroke-width="0.4"/>
<line x1="281" y1="303.1999999999997" x2="282" y2="303.1999999999997" stroke="#c8c8c8" stroke-width="0.4"/>
<line x1="281" y1="305.3999999999997" x2="282" y2="305.3999999999997" stroke="#c8c8c8" stroke-width="0.4"/>
<line x1="281" y1="307.5999999999997" x2="282" y2="307.5999999999997" stroke="#c8c8c8" stroke-width="0.4"/>
<line x1="281" y1="309.79999999999967" x2="282" y2="309.79999999999967" stroke="#c8c8c8" stroke-width="0.4"/>
<line x1="281" y1="311.99999999999966" x2="282" y2="311.99999999999966" stroke="#c8c8c8" stroke-width="0.4"/>
<line x1="281" y1="314.19999999999965" x2="282" y2="314.19999999999965" stroke="#c8c8c8" stroke-width="0.4"/>
<line x1="281" y1="316.39999999999964" x2="282" y2="316.39999999999964" stroke="#c8c8c8" stroke-width="0.4"/>
<line x1="281" y1="318.5999999999996" x2="282" y2="318.5999999999996" stroke="#c8c8c8" stroke-width="0.4"/>
<line x1="281" y1="320.7999999999996" x2="282" y2="320.7999999999996" stroke="#c8c8c8" stroke-width="0.4"/>
<line x1="285" y1="324.5" x2="285" y2="325.5" stroke="#c8c8c8" stroke-width="0.4"/>
<line x1="287.2" y1="324.5" x2="287.2" y2="325.5" stroke="#c8c8c8" stroke-width="0.4"/>
<line x1="289.4" y1="324.5" x2="289.4" y2="325.5" stroke="#c8c8c8" stroke-width="0.4"/>
<line x1="291.59999999999997" y1="324.5" x2="291.59999999999997" y2="325.5" stroke="#c8c8c8" stroke-width="0.4"/>
<line x1="293.79999999999995" y1="324.5" x2="293.79999999999995" y2="325.5" stroke="#c8c8c8" stroke-width="0.4"/>
<line x1="295.99999999999994" y1="324.5" x2="295.99999999999994" y2="325.5" stroke="#c8c8c8" stroke-width="0.4"/>
<line x1="298.19999999999993" y1="324.5" x2="298.19999999999993" y2="325.5" stroke="#c8c8c8" stroke-width="0.4"/>
<line x1="300.3999999999999" y1="324.5" x2="300.3999999999999" y2="325.5" stroke="#c8c8c8" stroke-width="0.4"/>
<line x1="302.5999999999999" y1="324.5" x2="302.5999999999999" y2="325.5" stroke="#c8c8c8" stroke-width="0.4"/>
<line x1="304.7999999999999" y1="324.5" x2="304.7999999999999" y2="325.5" stroke="#c8c8c8" stroke-width="0.4"/>
<line x1="306.9999999999999" y1="324.5" x2="306.9999999999999" y2="325.5" stroke="#c8c8c8" stroke-width="0.4"/>
<line x1="309.1999999999999" y1="324.5" x2="309.1999999999999" y2="325.5" stroke="#c8c8c8" stroke-width="0.4"/>
<line x1="311.39999999999986" y1="324.5" x2="311.39999999999986" y2="325.5" stroke="#c8c8c8" stroke-width="0.4"/>
<line x1="313.59999999999985" y1="324.5" x2="313.59999999999985" y2="325.5" stroke="#c8c8c8" stroke-width="0.4"/>
<line x1="315.79999999999984" y1="324.5" x2="315.79999999999984" y2="325.5" stroke="#c8c8c8" stroke-width="0.4"/>
<line x1="317.99999999999983" y1="324.5" x2="317.99999999999983" y2="325.5" stroke="#c8c8c8" stroke-width="0.4"/>
<line x1="320.1999999999998" y1="324.5" x2="320.1999999999998" y2="325.5" stroke="#c8c8c8" stroke-width="0.4"/>
<line x1="322.3999999999998" y1="324.5" x2="322.3999999999998" y2="325.5" stroke="#c8c8c8" stroke-width="0.4"/>
<line x1="324.5999999999998" y1="324.5" x2="324.5999999999998" y2="325.5" stroke="#c8c8c8" stroke-width="0.4"/>
<line x1="326.7999999999998" y1="324.5" x2="326.7999999999998" y2="325.5" stroke="#c8c8c8" stroke-width="0.4"/>
<line x1="328.9999999999998" y1="324.5" x2="328.9999999999998" y2="325.5" stroke="#c8c8c8" stroke-width="0.4"/>
<line x1="331.19999999999976" y1="324.5" x2="331.19999999999976" y2="325.5" stroke="#c8c8c8" stroke-width="0.4"/>
<line x1="333.39999999999975" y1="324.5" x2="333.39999999999975" y2="325.5" stroke="#c8c8c8" stroke-width="0.4"/>
<line x1="335.59999999999974" y1="324.5" x2="335.59999999999974" y2="325.5" stroke="#c8c8c8" stroke-width="0.4"/>
<line x1="337.7999999999997" y1="324.5" x2="337.7999999999997" y2="325.5" stroke="#c8c8c8" stroke-width="0.4"/>
<line x1="339.9999999999997" y1="324.5" x2="339.9999999999997" y2="325.5" stroke="#c8c8c8" stroke-width="0.4"/>
<line x1="342.1999999999997" y1="324.5" x2="342.1999999999997" y2="325.5" stroke="#c8c8c8" stroke-width="0.4"/>
<line x1="344.3999999999997" y1="324.5" x2="344.3999999999997" y2="325.5" stroke="#c8c8c8" stroke-width="0.4"/>
<line x1="346.5999999999997" y1="324.5" x2="346.5999999999997" y2="325.5" stroke="#c8c8c8" stroke-width="0.4"/>
<line x1="348.79999999999967" y1="324.5" x2="348.79999999999967" y2="325.5" stroke="#c8c8c8" stroke-width="0.4"/>
<line x1="350.99999999999966" y1="324.5" x2="350.99999999999966" y2="325.5" stroke="#c8c8c8" stroke-width="0.4"/>
<line x1="353.19999999999965" y1="324.5" x2="353.19999999999965" y2="325.5" stroke="#c8c8c8" stroke-width="0.4"/>
<line x1="355.39999999999964" y1="324.5" x2="355.39999999999964" y2="325.5" stroke="#c8c8c8" stroke-width="0.4"/>
<line x1="357.5999999999996" y1="324.5" x2="357.5999999999996" y2="325.5" stroke="#c8c8c8" stroke-width="0.4"/>
<line x1="359.7999999999996" y1="324.5" x2="359.7999999999996" y2="325.5" stroke="#c8c8c8" stroke-width="0.4"/>
<text x="317.4" y="254.7" font-size="7.8" text-anchor="start" fill="#222">WT</text>
<path d="M298.30,273.10 C299.53,271.44 301.28,270.88 303.70,270.60 C306.12,270.32 310.45,271.00 312.80,271.40 C315.15,271.80 315.28,272.30 317.80,273.00 C320.32,273.70 324.70,274.53 327.90,275.61 C331.10,276.70 334.82,277.94 337.00,279.50 C339.18,281.06 340.92,283.17 341.00,285.00 C341.08,286.83 339.68,289.46 337.50,290.50 C335.32,291.54 331.35,291.00 327.90,291.25 C324.45,291.50 319.91,291.57 316.80,292.00 C313.69,292.43 311.22,293.22 309.25,293.80 C307.28,294.38 306.54,295.68 305.00,295.50 C303.45,295.32 301.40,294.19 300.00,292.70 C298.60,291.21 297.22,288.57 296.60,286.55 C295.98,284.53 296.02,282.79 296.30,280.55 C296.58,278.31 297.07,274.76 298.30,273.10 Z" fill="url(#gtail)" stroke="#0a0a0a" stroke-width="1.9"/>
<ellipse cx="316.8" cy="284.05" rx="3.5" ry="7.469999999999993" fill="#111" stroke="none" stroke-width="1" opacity="0.55" filter="url(#bl)"/>
<path d="M298.30,273.10 C299.53,271.44 301.45,270.85 303.70,270.60 C305.95,270.35 309.95,270.77 311.80,271.60 C313.65,272.43 314.38,273.36 314.80,275.60 C315.22,277.84 315.23,282.07 314.30,285.05 C313.38,288.03 310.80,291.76 309.25,293.50 C307.70,295.24 306.54,295.63 305.00,295.50 C303.45,295.37 301.40,294.19 300.00,292.70 C298.60,291.21 297.22,288.57 296.60,286.55 C295.98,284.53 296.02,282.79 296.30,280.55 C296.58,278.31 297.07,274.76 298.30,273.10 Z" fill="#8c8c8c" stroke="#0a0a0a" stroke-width="0.9"/>
<path d="M298.84,273.73 C299.97,272.21 301.73,271.66 303.80,271.43 C305.87,271.20 309.55,271.59 311.26,272.35 C312.96,273.12 313.63,273.97 314.02,276.03 C314.40,278.09 314.41,281.98 313.56,284.73 C312.71,287.47 310.34,290.90 308.91,292.50 C307.48,294.10 306.41,294.46 305.00,294.34 C303.58,294.22 301.69,293.14 300.40,291.76 C299.11,290.39 297.84,287.97 297.27,286.11 C296.70,284.24 296.74,282.65 297.00,280.59 C297.26,278.52 297.70,275.26 298.84,273.73 Z" fill="none" stroke="#e0e0e0" stroke-width="0.4"/>
<path d="M299.64,274.68 C300.63,273.35 302.16,272.88 303.96,272.68 C305.76,272.48 308.96,272.81 310.44,273.48 C311.92,274.15 312.51,274.89 312.84,276.68 C313.17,278.47 313.18,281.85 312.44,284.24 C311.70,286.63 309.64,289.61 308.40,291.00 C307.16,292.39 306.23,292.71 305.00,292.60 C303.76,292.49 302.12,291.55 301.00,290.36 C299.88,289.17 298.77,287.06 298.28,285.44 C297.79,283.82 297.81,282.43 298.04,280.64 C298.27,278.85 298.65,276.01 299.64,274.68 Z" fill="#ababab" stroke="#0a0a0a" stroke-width="0.9"/>
<path d="M300.18,275.31 C301.06,274.12 302.44,273.69 304.06,273.51 C305.68,273.33 308.56,273.63 309.90,274.23 C311.23,274.83 311.76,275.50 312.06,277.11 C312.36,278.73 312.36,281.77 311.70,283.92 C311.03,286.06 309.18,288.75 308.06,290.00 C306.94,291.25 306.11,291.54 305.00,291.44 C303.89,291.34 302.41,290.50 301.40,289.42 C300.39,288.35 299.40,286.45 298.95,285.00 C298.51,283.54 298.53,282.29 298.74,280.68 C298.94,279.06 299.29,276.51 300.18,275.31 Z" fill="none" stroke="#e0e0e0" stroke-width="0.4"/>
<path d="M300.91,276.18 C301.67,275.17 302.83,274.81 304.21,274.66 C305.58,274.50 308.02,274.76 309.15,275.27 C310.28,275.77 310.72,276.34 310.98,277.71 C311.23,279.07 311.24,281.65 310.67,283.47 C310.11,285.29 308.54,287.56 307.59,288.62 C306.65,289.69 305.94,289.93 305.00,289.85 C304.06,289.76 302.80,289.05 301.95,288.14 C301.10,287.23 300.25,285.62 299.88,284.39 C299.50,283.15 299.52,282.09 299.69,280.73 C299.87,279.36 300.16,277.19 300.91,276.18 Z" fill="#8c8c8c" stroke="#0a0a0a" stroke-width="0.9"/>
<path d="M301.45,276.81 C302.10,275.93 303.12,275.62 304.31,275.49 C305.50,275.36 307.62,275.58 308.60,276.02 C309.58,276.46 309.97,276.95 310.19,278.14 C310.41,279.33 310.42,281.57 309.93,283.15 C309.44,284.73 308.07,286.70 307.25,287.62 C306.43,288.55 305.81,288.76 305.00,288.69 C304.18,288.61 303.09,287.99 302.35,287.20 C301.61,286.41 300.87,285.01 300.55,283.94 C300.22,282.87 300.24,281.95 300.39,280.76 C300.54,279.57 300.80,277.69 301.45,276.81 Z" fill="none" stroke="#e0e0e0" stroke-width="0.4"/>
<path d="M302.12,277.60 C302.65,276.89 303.47,276.64 304.44,276.53 C305.41,276.42 307.13,276.60 307.92,276.96 C308.72,277.32 309.03,277.71 309.21,278.68 C309.39,279.64 309.40,281.46 309.00,282.74 C308.60,284.02 307.49,285.63 306.83,286.38 C306.16,287.12 305.66,287.29 305.00,287.24 C304.33,287.18 303.45,286.67 302.85,286.03 C302.25,285.39 301.65,284.26 301.39,283.39 C301.12,282.52 301.14,281.77 301.26,280.81 C301.38,279.84 301.59,278.32 302.12,277.60 Z" fill="#707070" stroke="#0a0a0a" stroke-width="0.9"/>
<path d="M302.66,278.24 C303.09,277.65 303.76,277.45 304.55,277.36 C305.33,277.27 306.73,277.42 307.38,277.71 C308.03,278.00 308.28,278.33 308.43,279.11 C308.58,279.89 308.58,281.37 308.25,282.42 C307.93,283.46 307.03,284.77 306.49,285.38 C305.94,285.98 305.54,286.12 305.00,286.07 C304.46,286.03 303.74,285.62 303.25,285.09 C302.76,284.57 302.28,283.65 302.06,282.94 C301.84,282.23 301.86,281.63 301.95,280.84 C302.05,280.06 302.22,278.82 302.66,278.24 Z" fill="none" stroke="#e0e0e0" stroke-width="0.4"/>
<path d="M303.26,278.95 C303.58,278.51 304.08,278.36 304.66,278.30 C305.25,278.23 306.29,278.34 306.77,278.56 C307.25,278.77 307.44,279.01 307.55,279.60 C307.66,280.18 307.66,281.28 307.42,282.05 C307.18,282.83 306.51,283.80 306.11,284.25 C305.70,284.70 305.40,284.80 305.00,284.77 C304.60,284.74 304.06,284.43 303.70,284.04 C303.34,283.65 302.98,282.97 302.82,282.44 C302.66,281.92 302.66,281.47 302.74,280.88 C302.81,280.30 302.94,279.38 303.26,278.95 Z" fill="#4a4a4a" stroke="#0a0a0a" stroke-width="0.9"/>
<path d="M303.79,279.58 C304.02,279.28 304.36,279.17 304.77,279.13 C305.17,279.08 305.89,279.16 306.22,279.31 C306.56,279.46 306.69,279.62 306.76,280.03 C306.84,280.43 306.84,281.19 306.67,281.73 C306.51,282.27 306.04,282.94 305.76,283.25 C305.49,283.56 305.28,283.63 305.00,283.61 C304.72,283.59 304.35,283.37 304.10,283.11 C303.85,282.84 303.60,282.36 303.49,282.00 C303.38,281.63 303.38,281.32 303.43,280.92 C303.49,280.52 303.57,279.88 303.79,279.58 Z" fill="none" stroke="#e0e0e0" stroke-width="0.4"/>
<circle cx="305" cy="281" r="1.6" fill="#111" stroke="none" stroke-width="1"/>
<circle cx="334.9817334064378" cy="283.85573321088884" r="0.4881228898537714" fill="#111" stroke="none" stroke-width="1"/>
<circle cx="338.55930664637066" cy="287.9802751350098" r="0.5286950715205911" fill="#111" stroke="none" stroke-width="1"/>
<circle cx="338.1870199108538" cy="287.61195509940154" r="0.632186376627189" fill="#111" stroke="none" stroke-width="1"/>
<circle cx="338.68324524851624" cy="284.6834690781795" r="0.5660933756432416" fill="#111" stroke="none" stroke-width="1"/>
<circle cx="341.24246161508455" cy="282.66684634819933" r="0.6433391949345906" fill="#111" stroke="none" stroke-width="1"/>
<circle cx="338.54929071382855" cy="286.50067224914636" r="0.3534372459092657" fill="#111" stroke="none" stroke-width="1"/>
<circle cx="339.55550173386314" cy="286.9894608138545" r="0.3560158670913798" fill="#111" stroke="none" stroke-width="1"/>
<circle cx="337.6499195575906" cy="287.7987982970898" r="0.3680241531883169" fill="#111" stroke="none" stroke-width="1"/>
<circle cx="337.54025946439594" cy="285.226881660299" r="0.5537844194114325" fill="#111" stroke="none" stroke-width="1"/>
<circle cx="340.15051866111" cy="288.9577288651714" r="0.5714102867756103" fill="#111" stroke="none" stroke-width="1"/>
<circle cx="315.3146332805868" cy="291.1211536072916" r="0.4690050773718442" fill="#111" stroke="none" stroke-width="1"/>
<circle cx="337.1486894649612" cy="291.5022445563669" r="0.4140780324090948" fill="#111" stroke="none" stroke-width="1"/>
<circle cx="328.54998751546253" cy="291.640050771496" r="0.39098877233498924" fill="#111" stroke="none" stroke-width="1"/>
<circle cx="322.0539593397683" cy="291.7383079505539" r="0.4489053764643841" fill="#111" stroke="none" stroke-width="1"/>
<circle cx="321.76937218208167" cy="291.7543206826578" r="0.49306835311103026" fill="#111" stroke="none" stroke-width="1"/>
<circle cx="315.4245719562165" cy="292.13851600414114" r="0.4837932954196274" fill="#111" stroke="none" stroke-width="1"/>
<rect x="315.3" y="268" width="40.19999999999999" height="34.30000000000001" fill="none" stroke="#8a8a8a" stroke-width="0.7" rx="0"/>
<text x="353.6" y="299" font-size="7.6" text-anchor="end" fill="#222">13.2</text>
<text x="278.6" y="265.6" font-size="5.4" text-anchor="end" fill="#333">10<tspan font-size="4.6" dy="-3.5">4</tspan></text>
<text x="278.6" y="289.0" font-size="5.4" text-anchor="end" fill="#333">10<tspan font-size="4.6" dy="-3.5">3</tspan></text>
<text x="275.6" y="311.5" font-size="5.0" text-anchor="end" fill="#333">0</text>
<line x1="280.4" y1="262" x2="282" y2="262" stroke="#444" stroke-width="0.6"/>
<line x1="280.4" y1="285.4" x2="282" y2="285.4" stroke="#444" stroke-width="0.6"/>
<line x1="281.5" y1="305.7" x2="281.5" y2="313.7" stroke="#222" stroke-width="1.1" stroke-dasharray="1.2,0.6"/>
<text x="305.8" y="333.7" font-size="5.0" text-anchor="middle" fill="#333">0</text>
<text x="332.2" y="333.9" font-size="5.4" text-anchor="start" fill="#333">10<tspan font-size="4.6" dy="-3.5">3</tspan></text>
<line x1="334.3" y1="324.5" x2="334.3" y2="326.1" stroke="#444" stroke-width="0.6"/>
<rect x="302.3" y="324.2" width="6.2" height="1.3" fill="#222" stroke="none" stroke-width="1" rx="0"/>
<rect x="375.5" y="244" width="80.5" height="80.5" fill="none" stroke="#bdbdbd" stroke-width="0.8" rx="0"/>
<line x1="374.5" y1="247" x2="375.5" y2="247" stroke="#c8c8c8" stroke-width="0.4"/>
<line x1="374.5" y1="249.2" x2="375.5" y2="249.2" stroke="#c8c8c8" stroke-width="0.4"/>
<line x1="374.5" y1="251.39999999999998" x2="375.5" y2="251.39999999999998" stroke="#c8c8c8" stroke-width="0.4"/>
<line x1="374.5" y1="253.59999999999997" x2="375.5" y2="253.59999999999997" stroke="#c8c8c8" stroke-width="0.4"/>
<line x1="374.5" y1="255.79999999999995" x2="375.5" y2="255.79999999999995" stroke="#c8c8c8" stroke-width="0.4"/>
<line x1="374.5" y1="257.99999999999994" x2="375.5" y2="257.99999999999994" stroke="#c8c8c8" stroke-width="0.4"/>
<line x1="374.5" y1="260.19999999999993" x2="375.5" y2="260.19999999999993" stroke="#c8c8c8" stroke-width="0.4"/>
<line x1="374.5" y1="262.3999999999999" x2="375.5" y2="262.3999999999999" stroke="#c8c8c8" stroke-width="0.4"/>
<line x1="374.5" y1="264.5999999999999" x2="375.5" y2="264.5999999999999" stroke="#c8c8c8" stroke-width="0.4"/>
<line x1="374.5" y1="266.7999999999999" x2="375.5" y2="266.7999999999999" stroke="#c8c8c8" stroke-width="0.4"/>
<line x1="374.5" y1="268.9999999999999" x2="375.5" y2="268.9999999999999" stroke="#c8c8c8" stroke-width="0.4"/>
<line x1="374.5" y1="271.1999999999999" x2="375.5" y2="271.1999999999999" stroke="#c8c8c8" stroke-width="0.4"/>
<line x1="374.5" y1="273.39999999999986" x2="375.5" y2="273.39999999999986" stroke="#c8c8c8" stroke-width="0.4"/>
<line x1="374.5" y1="275.59999999999985" x2="375.5" y2="275.59999999999985" stroke="#c8c8c8" stroke-width="0.4"/>
<line x1="374.5" y1="277.79999999999984" x2="375.5" y2="277.79999999999984" stroke="#c8c8c8" stroke-width="0.4"/>
<line x1="374.5" y1="279.99999999999983" x2="375.5" y2="279.99999999999983" stroke="#c8c8c8" stroke-width="0.4"/>
<line x1="374.5" y1="282.1999999999998" x2="375.5" y2="282.1999999999998" stroke="#c8c8c8" stroke-width="0.4"/>
<line x1="374.5" y1="284.3999999999998" x2="375.5" y2="284.3999999999998" stroke="#c8c8c8" stroke-width="0.4"/>
<line x1="374.5" y1="286.5999999999998" x2="375.5" y2="286.5999999999998" stroke="#c8c8c8" stroke-width="0.4"/>
<line x1="374.5" y1="288.7999999999998" x2="375.5" y2="288.7999999999998" stroke="#c8c8c8" stroke-width="0.4"/>
<line x1="374.5" y1="290.9999999999998" x2="375.5" y2="290.9999999999998" stroke="#c8c8c8" stroke-width="0.4"/>
<line x1="374.5" y1="293.19999999999976" x2="375.5" y2="293.19999999999976" stroke="#c8c8c8" stroke-width="0.4"/>
<line x1="374.5" y1="295.39999999999975" x2="375.5" y2="295.39999999999975" stroke="#c8c8c8" stroke-width="0.4"/>
<line x1="374.5" y1="297.59999999999974" x2="375.5" y2="297.59999999999974" stroke="#c8c8c8" stroke-width="0.4"/>
<line x1="374.5" y1="299.7999999999997" x2="375.5" y2="299.7999999999997" stroke="#c8c8c8" stroke-width="0.4"/>
<line x1="374.5" y1="301.9999999999997" x2="375.5" y2="301.9999999999997" stroke="#c8c8c8" stroke-width="0.4"/>
<line x1="374.5" y1="304.1999999999997" x2="375.5" y2="304.1999999999997" stroke="#c8c8c8" stroke-width="0.4"/>
<line x1="374.5" y1="306.3999999999997" x2="375.5" y2="306.3999999999997" stroke="#c8c8c8" stroke-width="0.4"/>
<line x1="374.5" y1="308.5999999999997" x2="375.5" y2="308.5999999999997" stroke="#c8c8c8" stroke-width="0.4"/>
<line x1="374.5" y1="310.79999999999967" x2="375.5" y2="310.79999999999967" stroke="#c8c8c8" stroke-width="0.4"/>
<line x1="374.5" y1="312.99999999999966" x2="375.5" y2="312.99999999999966" stroke="#c8c8c8" stroke-width="0.4"/>
<line x1="374.5" y1="315.19999999999965" x2="375.5" y2="315.19999999999965" stroke="#c8c8c8" stroke-width="0.4"/>
<line x1="374.5" y1="317.39999999999964" x2="375.5" y2="317.39999999999964" stroke="#c8c8c8" stroke-width="0.4"/>
<line x1="374.5" y1="319.5999999999996" x2="375.5" y2="319.5999999999996" stroke="#c8c8c8" stroke-width="0.4"/>
<line x1="374.5" y1="321.7999999999996" x2="375.5" y2="321.7999999999996" stroke="#c8c8c8" stroke-width="0.4"/>
<line x1="378.5" y1="324.5" x2="378.5" y2="325.5" stroke="#c8c8c8" stroke-width="0.4"/>
<line x1="380.7" y1="324.5" x2="380.7" y2="325.5" stroke="#c8c8c8" stroke-width="0.4"/>
<line x1="382.9" y1="324.5" x2="382.9" y2="325.5" stroke="#c8c8c8" stroke-width="0.4"/>
<line x1="385.09999999999997" y1="324.5" x2="385.09999999999997" y2="325.5" stroke="#c8c8c8" stroke-width="0.4"/>
<line x1="387.29999999999995" y1="324.5" x2="387.29999999999995" y2="325.5" stroke="#c8c8c8" stroke-width="0.4"/>
<line x1="389.49999999999994" y1="324.5" x2="389.49999999999994" y2="325.5" stroke="#c8c8c8" stroke-width="0.4"/>
<line x1="391.69999999999993" y1="324.5" x2="391.69999999999993" y2="325.5" stroke="#c8c8c8" stroke-width="0.4"/>
<line x1="393.8999999999999" y1="324.5" x2="393.8999999999999" y2="325.5" stroke="#c8c8c8" stroke-width="0.4"/>
<line x1="396.0999999999999" y1="324.5" x2="396.0999999999999" y2="325.5" stroke="#c8c8c8" stroke-width="0.4"/>
<line x1="398.2999999999999" y1="324.5" x2="398.2999999999999" y2="325.5" stroke="#c8c8c8" stroke-width="0.4"/>
<line x1="400.4999999999999" y1="324.5" x2="400.4999999999999" y2="325.5" stroke="#c8c8c8" stroke-width="0.4"/>
<line x1="402.6999999999999" y1="324.5" x2="402.6999999999999" y2="325.5" stroke="#c8c8c8" stroke-width="0.4"/>
<line x1="404.89999999999986" y1="324.5" x2="404.89999999999986" y2="325.5" stroke="#c8c8c8" stroke-width="0.4"/>
<line x1="407.09999999999985" y1="324.5" x2="407.09999999999985" y2="325.5" stroke="#c8c8c8" stroke-width="0.4"/>
<line x1="409.29999999999984" y1="324.5" x2="409.29999999999984" y2="325.5" stroke="#c8c8c8" stroke-width="0.4"/>
<line x1="411.49999999999983" y1="324.5" x2="411.49999999999983" y2="325.5" stroke="#c8c8c8" stroke-width="0.4"/>
<line x1="413.6999999999998" y1="324.5" x2="413.6999999999998" y2="325.5" stroke="#c8c8c8" stroke-width="0.4"/>
<line x1="415.8999999999998" y1="324.5" x2="415.8999999999998" y2="325.5" stroke="#c8c8c8" stroke-width="0.4"/>
<line x1="418.0999999999998" y1="324.5" x2="418.0999999999998" y2="325.5" stroke="#c8c8c8" stroke-width="0.4"/>
<line x1="420.2999999999998" y1="324.5" x2="420.2999999999998" y2="325.5" stroke="#c8c8c8" stroke-width="0.4"/>
<line x1="422.4999999999998" y1="324.5" x2="422.4999999999998" y2="325.5" stroke="#c8c8c8" stroke-width="0.4"/>
<line x1="424.69999999999976" y1="324.5" x2="424.69999999999976" y2="325.5" stroke="#c8c8c8" stroke-width="0.4"/>
<line x1="426.89999999999975" y1="324.5" x2="426.89999999999975" y2="325.5" stroke="#c8c8c8" stroke-width="0.4"/>
<line x1="429.09999999999974" y1="324.5" x2="429.09999999999974" y2="325.5" stroke="#c8c8c8" stroke-width="0.4"/>
<line x1="431.2999999999997" y1="324.5" x2="431.2999999999997" y2="325.5" stroke="#c8c8c8" stroke-width="0.4"/>
<line x1="433.4999999999997" y1="324.5" x2="433.4999999999997" y2="325.5" stroke="#c8c8c8" stroke-width="0.4"/>
<line x1="435.6999999999997" y1="324.5" x2="435.6999999999997" y2="325.5" stroke="#c8c8c8" stroke-width="0.4"/>
<line x1="437.8999999999997" y1="324.5" x2="437.8999999999997" y2="325.5" stroke="#c8c8c8" stroke-width="0.4"/>
<line x1="440.0999999999997" y1="324.5" x2="440.0999999999997" y2="325.5" stroke="#c8c8c8" stroke-width="0.4"/>
<line x1="442.29999999999967" y1="324.5" x2="442.29999999999967" y2="325.5" stroke="#c8c8c8" stroke-width="0.4"/>
<line x1="444.49999999999966" y1="324.5" x2="444.49999999999966" y2="325.5" stroke="#c8c8c8" stroke-width="0.4"/>
<line x1="446.69999999999965" y1="324.5" x2="446.69999999999965" y2="325.5" stroke="#c8c8c8" stroke-width="0.4"/>
<line x1="448.89999999999964" y1="324.5" x2="448.89999999999964" y2="325.5" stroke="#c8c8c8" stroke-width="0.4"/>
<line x1="451.0999999999996" y1="324.5" x2="451.0999999999996" y2="325.5" stroke="#c8c8c8" stroke-width="0.4"/>
<line x1="453.2999999999996" y1="324.5" x2="453.2999999999996" y2="325.5" stroke="#c8c8c8" stroke-width="0.4"/>
<text x="413.8" y="254.7" font-size="7.8" text-anchor="start" fill="#222">I/A</text>
<path d="M390.80,271.90 C392.08,270.27 393.95,269.68 396.48,269.40 C399.01,269.12 403.58,269.80 406.00,270.20 C408.42,270.60 407.88,271.12 411.00,271.80 C414.12,272.48 420.33,273.25 424.75,274.29 C429.17,275.32 434.71,276.21 437.50,278.00 C440.29,279.79 441.42,282.67 441.50,285.00 C441.58,287.33 440.79,290.96 438.00,292.00 C435.21,293.04 429.42,291.50 424.75,291.25 C420.08,291.00 413.75,290.32 410.00,290.50 C406.25,290.68 404.27,291.72 402.24,292.30 C400.21,292.88 399.42,294.18 397.82,294.00 C396.22,293.82 394.09,292.67 392.64,291.20 C391.19,289.73 389.74,287.20 389.10,285.20 C388.46,283.20 388.52,281.42 388.80,279.20 C389.08,276.98 389.52,273.53 390.80,271.90 Z" fill="url(#gtail)" stroke="#0a0a0a" stroke-width="1.9"/>
<ellipse cx="410" cy="282.7" rx="3.5" ry="7.380000000000006" fill="#111" stroke="none" stroke-width="1" opacity="0.55" filter="url(#bl)"/>
<path d="M390.80,271.90 C392.08,270.27 394.11,269.65 396.48,269.40 C398.85,269.15 403.08,269.57 405.00,270.40 C406.92,271.23 407.58,272.18 408.00,274.40 C408.42,276.62 408.46,280.77 407.50,283.70 C406.54,286.63 403.85,290.28 402.24,292.00 C400.63,293.72 399.42,294.13 397.82,294.00 C396.22,293.87 394.09,292.67 392.64,291.20 C391.19,289.73 389.74,287.20 389.10,285.20 C388.46,283.20 388.52,281.42 388.80,279.20 C389.08,276.98 389.52,273.53 390.80,271.90 Z" fill="#8c8c8c" stroke="#0a0a0a" stroke-width="0.9"/>
<path d="M391.49,272.47 C392.67,270.97 394.54,270.40 396.71,270.17 C398.89,269.94 402.79,270.32 404.55,271.09 C406.32,271.85 406.93,272.73 407.31,274.77 C407.70,276.81 407.74,280.63 406.85,283.32 C405.97,286.02 403.50,289.38 402.01,290.96 C400.53,292.54 399.42,292.92 397.95,292.80 C396.48,292.68 394.52,291.57 393.18,290.22 C391.84,288.87 390.51,286.54 389.92,284.70 C389.34,282.86 389.39,281.22 389.65,279.18 C389.91,277.14 390.31,273.97 391.49,272.47 Z" fill="none" stroke="#e0e0e0" stroke-width="0.4"/>
<path d="M392.52,273.32 C393.54,272.01 395.17,271.52 397.06,271.32 C398.96,271.12 402.34,271.45 403.88,272.12 C405.42,272.79 405.95,273.55 406.28,275.32 C406.61,277.09 406.65,280.41 405.88,282.76 C405.11,285.11 402.96,288.03 401.67,289.40 C400.38,290.77 399.42,291.11 398.14,291.00 C396.86,290.89 395.16,289.93 393.99,288.76 C392.83,287.59 391.67,285.56 391.16,283.96 C390.65,282.36 390.69,280.93 390.92,279.16 C391.15,277.39 391.50,274.63 392.52,273.32 Z" fill="#ababab" stroke="#0a0a0a" stroke-width="0.9"/>
<path d="M393.21,273.89 C394.13,272.71 395.59,272.27 397.30,272.09 C399.00,271.91 402.05,272.21 403.43,272.81 C404.81,273.41 405.29,274.09 405.59,275.69 C405.89,277.28 405.92,280.27 405.23,282.38 C404.54,284.50 402.61,287.12 401.44,288.36 C400.28,289.60 399.42,289.90 398.27,289.80 C397.11,289.70 395.58,288.84 394.53,287.78 C393.49,286.73 392.44,284.90 391.98,283.46 C391.52,282.02 391.56,280.74 391.77,279.14 C391.97,277.55 392.29,275.06 393.21,273.89 Z" fill="none" stroke="#e0e0e0" stroke-width="0.4"/>
<path d="M394.15,274.67 C394.93,273.67 396.18,273.30 397.62,273.14 C399.06,272.99 401.64,273.25 402.82,273.75 C403.99,274.26 404.39,274.84 404.65,276.19 C404.90,277.55 404.93,280.08 404.34,281.87 C403.76,283.66 402.12,285.88 401.13,286.93 C400.15,287.98 399.41,288.23 398.44,288.15 C397.46,288.07 396.16,287.34 395.28,286.44 C394.39,285.55 393.51,284.00 393.12,282.78 C392.73,281.56 392.76,280.47 392.93,279.12 C393.11,277.77 393.37,275.67 394.15,274.67 Z" fill="#8c8c8c" stroke="#0a0a0a" stroke-width="0.9"/>
<path d="M394.84,275.24 C395.52,274.37 396.60,274.04 397.85,273.91 C399.11,273.78 401.35,274.00 402.37,274.44 C403.39,274.88 403.74,275.39 403.96,276.56 C404.18,277.74 404.20,279.94 403.69,281.49 C403.18,283.05 401.76,284.98 400.91,285.89 C400.05,286.80 399.41,287.02 398.56,286.95 C397.72,286.88 396.59,286.24 395.82,285.47 C395.05,284.69 394.28,283.35 393.94,282.29 C393.60,281.23 393.63,280.28 393.78,279.11 C393.93,277.93 394.16,276.10 394.84,275.24 Z" fill="none" stroke="#e0e0e0" stroke-width="0.4"/>
<path d="M395.70,275.95 C396.25,275.24 397.13,274.98 398.14,274.87 C399.16,274.76 400.98,274.94 401.81,275.30 C402.63,275.66 402.92,276.07 403.10,277.02 C403.28,277.98 403.30,279.76 402.88,281.02 C402.47,282.28 401.31,283.85 400.62,284.59 C399.93,285.33 399.41,285.51 398.72,285.45 C398.03,285.39 397.12,284.88 396.49,284.25 C395.87,283.62 395.25,282.53 394.97,281.67 C394.70,280.81 394.72,280.04 394.84,279.09 C394.96,278.13 395.15,276.65 395.70,275.95 Z" fill="#707070" stroke="#0a0a0a" stroke-width="0.9"/>
<path d="M396.39,276.51 C396.84,275.94 397.55,275.73 398.38,275.64 C399.21,275.55 400.69,275.70 401.36,275.99 C402.03,276.28 402.26,276.61 402.41,277.39 C402.56,278.17 402.57,279.62 402.24,280.64 C401.90,281.67 400.96,282.95 400.39,283.55 C399.83,284.15 399.41,284.30 398.85,284.25 C398.29,284.20 397.54,283.78 397.03,283.27 C396.53,282.76 396.02,281.87 395.80,281.17 C395.57,280.47 395.59,279.85 395.69,279.07 C395.79,278.29 395.94,277.09 396.39,276.51 Z" fill="none" stroke="#e0e0e0" stroke-width="0.4"/>
<path d="M397.16,277.15 C397.50,276.73 398.03,276.57 398.64,276.50 C399.26,276.44 400.36,276.55 400.86,276.76 C401.36,276.98 401.53,277.23 401.64,277.80 C401.74,278.38 401.76,279.46 401.51,280.22 C401.26,280.98 400.56,281.93 400.14,282.38 C399.72,282.83 399.41,282.93 398.99,282.90 C398.57,282.87 398.02,282.55 397.64,282.17 C397.26,281.79 396.89,281.13 396.72,280.61 C396.56,280.09 396.57,279.63 396.64,279.05 C396.72,278.48 396.83,277.58 397.16,277.15 Z" fill="#4a4a4a" stroke="#0a0a0a" stroke-width="0.9"/>
<path d="M397.85,277.72 C398.08,277.43 398.45,277.32 398.87,277.27 C399.30,277.23 400.06,277.30 400.41,277.45 C400.75,277.60 400.87,277.77 400.95,278.17 C401.02,278.57 401.03,279.32 400.86,279.85 C400.69,280.37 400.20,281.03 399.91,281.34 C399.62,281.65 399.40,281.72 399.12,281.70 C398.83,281.68 398.44,281.46 398.18,281.20 C397.92,280.93 397.66,280.48 397.55,280.12 C397.43,279.76 397.44,279.44 397.49,279.04 C397.54,278.64 397.62,278.02 397.85,277.72 Z" fill="none" stroke="#e0e0e0" stroke-width="0.4"/>
<circle cx="399.4" cy="279" r="1.6" fill="#111" stroke="none" stroke-width="1"/>
<circle cx="441.05484139360414" cy="280.616950091674" r="0.591142301118474" fill="#111" stroke="none" stroke-width="1"/>
<circle cx="441.7323958194705" cy="279.9667953069819" r="0.48057029615984626" fill="#111" stroke="none" stroke-width="1"/>
<circle cx="437.3683691365889" cy="278.3840713136896" r="0.44658979538637933" fill="#111" stroke="none" stroke-width="1"/>
<circle cx="440.8293403207376" cy="291.92046949381023" r="0.4815292197684161" fill="#111" stroke="none" stroke-width="1"/>
<circle cx="435.87241565714356" cy="279.63175830229403" r="0.45101307051346423" fill="#111" stroke="none" stroke-width="1"/>
<circle cx="437.8227924252213" cy="292.8706180305438" r="0.48533065528556674" fill="#111" stroke="none" stroke-width="1"/>
<circle cx="441.8622354941326" cy="278.7370075071403" r="0.508888288492518" fill="#111" stroke="none" stroke-width="1"/>
<circle cx="442.1873638444108" cy="291.425378896071" r="0.6015429137084677" fill="#111" stroke="none" stroke-width="1"/>
<circle cx="442.25593002360006" cy="281.6539546273055" r="0.5921679254500861" fill="#111" stroke="none" stroke-width="1"/>
<circle cx="437.9015960632818" cy="291.4157700609985" r="0.4535848414662795" fill="#111" stroke="none" stroke-width="1"/>
<circle cx="411.95551870278126" cy="293.0838857817411" r="0.4984654811210413" fill="#111" stroke="none" stroke-width="1"/>
<circle cx="416.2708220643847" cy="293.1927085613337" r="0.4042264239683724" fill="#111" stroke="none" stroke-width="1"/>
<circle cx="420.8030211056332" cy="293.31904423289814" r="0.5301530957469077" fill="#111" stroke="none" stroke-width="1"/>
<circle cx="412.75793469761993" cy="292.5093235891663" r="0.5358169589797772" fill="#111" stroke="none" stroke-width="1"/>
<circle cx="434.83933667459445" cy="294.4738273100576" r="0.4085880781689128" fill="#111" stroke="none" stroke-width="1"/>
<circle cx="436.9799155746822" cy="294.3547544288227" r="0.3555226840680803" fill="#111" stroke="none" stroke-width="1"/>
<rect x="408.3" y="268" width="39.69999999999999" height="34.30000000000001" fill="none" stroke="#8a8a8a" stroke-width="0.7" rx="0"/>
<text x="446.3" y="299" font-size="7.6" text-anchor="end" fill="#222">19.3</text>
<text x="372.1" y="265.6" font-size="5.4" text-anchor="end" fill="#333">10<tspan font-size="4.6" dy="-3.5">4</tspan></text>
<text x="372.1" y="289.0" font-size="5.4" text-anchor="end" fill="#333">10<tspan font-size="4.6" dy="-3.5">3</tspan></text>
<text x="369.1" y="311.5" font-size="5.0" text-anchor="end" fill="#333">0</text>
<line x1="373.9" y1="262" x2="375.5" y2="262" stroke="#444" stroke-width="0.6"/>
<line x1="373.9" y1="285.4" x2="375.5" y2="285.4" stroke="#444" stroke-width="0.6"/>
<line x1="375.0" y1="305.7" x2="375.0" y2="313.7" stroke="#222" stroke-width="1.1" stroke-dasharray="1.2,0.6"/>
<text x="399.4" y="333.7" font-size="5.0" text-anchor="middle" fill="#333">0</text>
<text x="424.9" y="333.9" font-size="5.4" text-anchor="start" fill="#333">10<tspan font-size="4.6" dy="-3.5">3</tspan></text>
<line x1="427" y1="324.5" x2="427" y2="326.1" stroke="#444" stroke-width="0.6"/>
<rect x="395.9" y="324.2" width="6.2" height="1.3" fill="#222" stroke="none" stroke-width="1" rx="0"/>
<text x="278.3" y="340" font-size="7.3" text-anchor="start" fill="#222">IFN&#947;</text>
<line x1="300.5" y1="338.7" x2="423.3" y2="338.7" stroke="#222" stroke-width="0.9"/>
<path d="M426.80,338.70 L423.30,340.30 L423.30,337.10 Z" fill="#222" stroke="none" stroke-width="1"/>
<line x1="487.5" y1="250.7" x2="487.5" y2="329.0" stroke="#111" stroke-width="1"/>
<line x1="485.5" y1="251.2" x2="487.5" y2="251.2" stroke="#222" stroke-width="0.9"/>
<text x="485.1" y="253.7" font-size="7" text-anchor="end" fill="#222">21</text>
<line x1="485.5" y1="277.0" x2="487.5" y2="277.0" stroke="#222" stroke-width="0.9"/>
<text x="485.1" y="279.5" font-size="7" text-anchor="end" fill="#222">14</text>
<line x1="485.5" y1="302.8" x2="487.5" y2="302.8" stroke="#222" stroke-width="0.9"/>
<text x="485.1" y="305.3" font-size="7" text-anchor="end" fill="#222">7</text>
<line x1="485.5" y1="328.5" x2="487.5" y2="328.5" stroke="#222" stroke-width="0.9"/>
<text x="485.1" y="331.0" font-size="7" text-anchor="end" fill="#222">0</text>
<rect x="489.6" y="278.3" width="12.099999999999966" height="50.19999999999999" fill="#fff" stroke="#222" stroke-width="1.25" rx="0"/>
<rect x="504.6" y="256.8" width="12.0" height="71.69999999999999" fill="#fff" stroke="#d83030" stroke-width="1.25" rx="0"/>
<line x1="487.5" y1="328.5" x2="518.1" y2="328.5" stroke="#111" stroke-width="1"/>
<line x1="495.65" y1="328.5" x2="495.65" y2="330.3" stroke="#222" stroke-width="0.9"/>
<line x1="510.6" y1="328.5" x2="510.6" y2="330.3" stroke="#222" stroke-width="0.9"/>
<path d="M495.3,250.4 V246.8 H510.6 V250.4" fill="none" stroke="#222" stroke-width="1.0"/>
<circle cx="501.15000000000003" cy="243.60000000000002" r="1.15" fill="#111" stroke="none" stroke-width="1"/>
<circle cx="504.75000000000006" cy="243.60000000000002" r="1.15" fill="#111" stroke="none" stroke-width="1"/>
<text x="495.65" y="338.2" font-size="7.2" text-anchor="middle" fill="#222">WT</text>
<text x="510.6" y="338.2" font-size="7.2" text-anchor="middle" fill="#222">I/A</text>
<text x="504.5" y="235.5" font-size="7.2" text-anchor="middle" fill="#222">IFN&#947;</text>
<text x="472" y="289" font-size="7.4" text-anchor="middle" fill="#222" transform="rotate(-90 472 289)">IFN&#947;<tspan font-size="4.9" dy="-2.8">+</tspan><tspan dy="2.8"> of 1G4 T cells (%)</tspan></text>
<circle cx="491.5" cy="280" r="1.7" fill="#fff" stroke="#222" stroke-width="1.0"/>
<circle cx="495.6" cy="273.3" r="1.7" fill="#fff" stroke="#222" stroke-width="1.0"/>
<circle cx="499.8" cy="280" r="1.7" fill="#fff" stroke="#222" stroke-width="1.0"/>
<path d="M506.5,256 L508.4,259.3 L504.6,259.3 Z" fill="#fff" stroke="#d83030" stroke-width="0.9"/>
<path d="M511,255 L512.9,258.3 L509.1,258.3 Z" fill="#fff" stroke="#d83030" stroke-width="0.9"/>
<path d="M514.5,257 L516.4,260.3 L512.6,260.3 Z" fill="#fff" stroke="#d83030" stroke-width="0.9"/>
<path d="M506.5,259 L508.4,262.3 L504.6,262.3 Z" fill="#fff" stroke="#d83030" stroke-width="0.9"/>
<text x="3.2" y="362.2" font-size="13.4" text-anchor="start" fill="#111" font-weight="bold">E</text>
<text x="51.8" y="365" font-size="7.5" text-anchor="start" fill="#222">+ K562-A02-NY-ESO-1 E:T=3:1</text>
<line x1="22.2" y1="371.2" x2="194.4" y2="371.2" stroke="#111" stroke-width="1.3"/>
<line x1="3.8" y1="440" x2="3.8" y2="379.2" stroke="#222" stroke-width="0.9"/>
<path d="M3.80,376.00 L5.20,379.20 L2.40,379.20 Z" fill="#222" stroke="none" stroke-width="1"/>
<text x="6.6" y="453" font-size="7.5" text-anchor="middle" fill="#222" transform="rotate(-90 6.6 453)">CD8</text>
<rect x="19.5" y="377" width="76.5" height="82.5" fill="none" stroke="#bdbdbd" stroke-width="0.8" rx="0"/>
<line x1="18.5" y1="380" x2="19.5" y2="380" stroke="#c8c8c8" stroke-width="0.4"/>
<line x1="18.5" y1="382.2" x2="19.5" y2="382.2" stroke="#c8c8c8" stroke-width="0.4"/>
<line x1="18.5" y1="384.4" x2="19.5" y2="384.4" stroke="#c8c8c8" stroke-width="0.4"/>
<line x1="18.5" y1="386.59999999999997" x2="19.5" y2="386.59999999999997" stroke="#c8c8c8" stroke-width="0.4"/>
<line x1="18.5" y1="388.79999999999995" x2="19.5" y2="388.79999999999995" stroke="#c8c8c8" stroke-width="0.4"/>
<line x1="18.5" y1="390.99999999999994" x2="19.5" y2="390.99999999999994" stroke="#c8c8c8" stroke-width="0.4"/>
<line x1="18.5" y1="393.19999999999993" x2="19.5" y2="393.19999999999993" stroke="#c8c8c8" stroke-width="0.4"/>
<line x1="18.5" y1="395.3999999999999" x2="19.5" y2="395.3999999999999" stroke="#c8c8c8" stroke-width="0.4"/>
<line x1="18.5" y1="397.5999999999999" x2="19.5" y2="397.5999999999999" stroke="#c8c8c8" stroke-width="0.4"/>
<line x1="18.5" y1="399.7999999999999" x2="19.5" y2="399.7999999999999" stroke="#c8c8c8" stroke-width="0.4"/>
<line x1="18.5" y1="401.9999999999999" x2="19.5" y2="401.9999999999999" stroke="#c8c8c8" stroke-width="0.4"/>
<line x1="18.5" y1="404.1999999999999" x2="19.5" y2="404.1999999999999" stroke="#c8c8c8" stroke-width="0.4"/>
<line x1="18.5" y1="406.39999999999986" x2="19.5" y2="406.39999999999986" stroke="#c8c8c8" stroke-width="0.4"/>
<line x1="18.5" y1="408.59999999999985" x2="19.5" y2="408.59999999999985" stroke="#c8c8c8" stroke-width="0.4"/>
<line x1="18.5" y1="410.79999999999984" x2="19.5" y2="410.79999999999984" stroke="#c8c8c8" stroke-width="0.4"/>
<line x1="18.5" y1="412.99999999999983" x2="19.5" y2="412.99999999999983" stroke="#c8c8c8" stroke-width="0.4"/>
<line x1="18.5" y1="415.1999999999998" x2="19.5" y2="415.1999999999998" stroke="#c8c8c8" stroke-width="0.4"/>
<line x1="18.5" y1="417.3999999999998" x2="19.5" y2="417.3999999999998" stroke="#c8c8c8" stroke-width="0.4"/>
<line x1="18.5" y1="419.5999999999998" x2="19.5" y2="419.5999999999998" stroke="#c8c8c8" stroke-width="0.4"/>
<line x1="18.5" y1="421.7999999999998" x2="19.5" y2="421.7999999999998" stroke="#c8c8c8" stroke-width="0.4"/>
<line x1="18.5" y1="423.9999999999998" x2="19.5" y2="423.9999999999998" stroke="#c8c8c8" stroke-width="0.4"/>
<line x1="18.5" y1="426.19999999999976" x2="19.5" y2="426.19999999999976" stroke="#c8c8c8" stroke-width="0.4"/>
<line x1="18.5" y1="428.39999999999975" x2="19.5" y2="428.39999999999975" stroke="#c8c8c8" stroke-width="0.4"/>
<line x1="18.5" y1="430.59999999999974" x2="19.5" y2="430.59999999999974" stroke="#c8c8c8" stroke-width="0.4"/>
<line x1="18.5" y1="432.7999999999997" x2="19.5" y2="432.7999999999997" stroke="#c8c8c8" stroke-width="0.4"/>
<line x1="18.5" y1="434.9999999999997" x2="19.5" y2="434.9999999999997" stroke="#c8c8c8" stroke-width="0.4"/>
<line x1="18.5" y1="437.1999999999997" x2="19.5" y2="437.1999999999997" stroke="#c8c8c8" stroke-width="0.4"/>
<line x1="18.5" y1="439.3999999999997" x2="19.5" y2="439.3999999999997" stroke="#c8c8c8" stroke-width="0.4"/>
<line x1="18.5" y1="441.5999999999997" x2="19.5" y2="441.5999999999997" stroke="#c8c8c8" stroke-width="0.4"/>
<line x1="18.5" y1="443.79999999999967" x2="19.5" y2="443.79999999999967" stroke="#c8c8c8" stroke-width="0.4"/>
<line x1="18.5" y1="445.99999999999966" x2="19.5" y2="445.99999999999966" stroke="#c8c8c8" stroke-width="0.4"/>
<line x1="18.5" y1="448.19999999999965" x2="19.5" y2="448.19999999999965" stroke="#c8c8c8" stroke-width="0.4"/>
<line x1="18.5" y1="450.39999999999964" x2="19.5" y2="450.39999999999964" stroke="#c8c8c8" stroke-width="0.4"/>
<line x1="18.5" y1="452.5999999999996" x2="19.5" y2="452.5999999999996" stroke="#c8c8c8" stroke-width="0.4"/>
<line x1="18.5" y1="454.7999999999996" x2="19.5" y2="454.7999999999996" stroke="#c8c8c8" stroke-width="0.4"/>
<line x1="18.5" y1="456.9999999999996" x2="19.5" y2="456.9999999999996" stroke="#c8c8c8" stroke-width="0.4"/>
<line x1="22.5" y1="459.5" x2="22.5" y2="460.5" stroke="#c8c8c8" stroke-width="0.4"/>
<line x1="24.7" y1="459.5" x2="24.7" y2="460.5" stroke="#c8c8c8" stroke-width="0.4"/>
<line x1="26.9" y1="459.5" x2="26.9" y2="460.5" stroke="#c8c8c8" stroke-width="0.4"/>
<line x1="29.099999999999998" y1="459.5" x2="29.099999999999998" y2="460.5" stroke="#c8c8c8" stroke-width="0.4"/>
<line x1="31.299999999999997" y1="459.5" x2="31.299999999999997" y2="460.5" stroke="#c8c8c8" stroke-width="0.4"/>
<line x1="33.5" y1="459.5" x2="33.5" y2="460.5" stroke="#c8c8c8" stroke-width="0.4"/>
<line x1="35.7" y1="459.5" x2="35.7" y2="460.5" stroke="#c8c8c8" stroke-width="0.4"/>
<line x1="37.900000000000006" y1="459.5" x2="37.900000000000006" y2="460.5" stroke="#c8c8c8" stroke-width="0.4"/>
<line x1="40.10000000000001" y1="459.5" x2="40.10000000000001" y2="460.5" stroke="#c8c8c8" stroke-width="0.4"/>
<line x1="42.30000000000001" y1="459.5" x2="42.30000000000001" y2="460.5" stroke="#c8c8c8" stroke-width="0.4"/>
<line x1="44.500000000000014" y1="459.5" x2="44.500000000000014" y2="460.5" stroke="#c8c8c8" stroke-width="0.4"/>
<line x1="46.70000000000002" y1="459.5" x2="46.70000000000002" y2="460.5" stroke="#c8c8c8" stroke-width="0.4"/>
<line x1="48.90000000000002" y1="459.5" x2="48.90000000000002" y2="460.5" stroke="#c8c8c8" stroke-width="0.4"/>
<line x1="51.10000000000002" y1="459.5" x2="51.10000000000002" y2="460.5" stroke="#c8c8c8" stroke-width="0.4"/>
<line x1="53.300000000000026" y1="459.5" x2="53.300000000000026" y2="460.5" stroke="#c8c8c8" stroke-width="0.4"/>
<line x1="55.50000000000003" y1="459.5" x2="55.50000000000003" y2="460.5" stroke="#c8c8c8" stroke-width="0.4"/>
<line x1="57.70000000000003" y1="459.5" x2="57.70000000000003" y2="460.5" stroke="#c8c8c8" stroke-width="0.4"/>
<line x1="59.900000000000034" y1="459.5" x2="59.900000000000034" y2="460.5" stroke="#c8c8c8" stroke-width="0.4"/>
<line x1="62.10000000000004" y1="459.5" x2="62.10000000000004" y2="460.5" stroke="#c8c8c8" stroke-width="0.4"/>
<line x1="64.30000000000004" y1="459.5" x2="64.30000000000004" y2="460.5" stroke="#c8c8c8" stroke-width="0.4"/>
<line x1="66.50000000000004" y1="459.5" x2="66.50000000000004" y2="460.5" stroke="#c8c8c8" stroke-width="0.4"/>
<line x1="68.70000000000005" y1="459.5" x2="68.70000000000005" y2="460.5" stroke="#c8c8c8" stroke-width="0.4"/>
<line x1="70.90000000000005" y1="459.5" x2="70.90000000000005" y2="460.5" stroke="#c8c8c8" stroke-width="0.4"/>
<line x1="73.10000000000005" y1="459.5" x2="73.10000000000005" y2="460.5" stroke="#c8c8c8" stroke-width="0.4"/>
<line x1="75.30000000000005" y1="459.5" x2="75.30000000000005" y2="460.5" stroke="#c8c8c8" stroke-width="0.4"/>
<line x1="77.50000000000006" y1="459.5" x2="77.50000000000006" y2="460.5" stroke="#c8c8c8" stroke-width="0.4"/>
<line x1="79.70000000000006" y1="459.5" x2="79.70000000000006" y2="460.5" stroke="#c8c8c8" stroke-width="0.4"/>
<line x1="81.90000000000006" y1="459.5" x2="81.90000000000006" y2="460.5" stroke="#c8c8c8" stroke-width="0.4"/>
<line x1="84.10000000000007" y1="459.5" x2="84.10000000000007" y2="460.5" stroke="#c8c8c8" stroke-width="0.4"/>
<line x1="86.30000000000007" y1="459.5" x2="86.30000000000007" y2="460.5" stroke="#c8c8c8" stroke-width="0.4"/>
<line x1="88.50000000000007" y1="459.5" x2="88.50000000000007" y2="460.5" stroke="#c8c8c8" stroke-width="0.4"/>
<line x1="90.70000000000007" y1="459.5" x2="90.70000000000007" y2="460.5" stroke="#c8c8c8" stroke-width="0.4"/>
<line x1="92.90000000000008" y1="459.5" x2="92.90000000000008" y2="460.5" stroke="#c8c8c8" stroke-width="0.4"/>
<text x="48.2" y="389" font-size="7.8" text-anchor="start" fill="#222">WT</text>
<path d="M35.80,404.00 C36.91,402.27 38.36,401.78 40.48,401.50 C42.60,401.22 46.33,401.90 48.50,402.30 C50.67,402.70 50.83,403.12 53.50,403.90 C56.17,404.68 61.00,405.71 64.50,406.98 C68.00,408.24 72.17,410.16 74.50,411.50 C76.83,412.84 78.42,413.83 78.50,415.00 C78.58,416.17 77.33,417.48 75.00,418.50 C72.67,419.52 68.25,420.23 64.50,421.10 C60.75,421.97 55.67,422.97 52.50,423.70 C49.33,424.43 47.30,424.92 45.49,425.50 C43.68,426.08 43.04,427.38 41.65,427.20 C40.26,427.02 38.40,425.96 37.14,424.40 C35.88,422.84 34.66,419.94 34.10,417.85 C33.54,415.76 33.52,414.16 33.80,411.85 C34.08,409.54 34.69,405.73 35.80,404.00 Z" fill="url(#gtail)" stroke="#0a0a0a" stroke-width="1.9"/>
<ellipse cx="52.5" cy="415.35" rx="3.5" ry="7.709999999999996" fill="#111" stroke="none" stroke-width="1" opacity="0.55" filter="url(#bl)"/>
<path d="M35.80,404.00 C36.91,402.27 38.53,401.75 40.48,401.50 C42.43,401.25 45.83,401.67 47.50,402.50 C49.17,403.33 50.08,404.19 50.50,406.50 C50.92,408.81 50.84,413.23 50.00,416.35 C49.16,419.47 46.88,423.39 45.49,425.20 C44.10,427.01 43.04,427.33 41.65,427.20 C40.26,427.07 38.40,425.96 37.14,424.40 C35.88,422.84 34.66,419.94 34.10,417.85 C33.54,415.76 33.52,414.16 33.80,411.85 C34.08,409.54 34.69,405.73 35.80,404.00 Z" fill="#8c8c8c" stroke="#0a0a0a" stroke-width="0.9"/>
<path d="M36.41,404.64 C37.43,403.05 38.92,402.57 40.71,402.34 C42.51,402.11 45.64,402.49 47.17,403.26 C48.71,404.03 49.55,404.82 49.93,406.94 C50.32,409.06 50.24,413.13 49.47,416.00 C48.70,418.87 46.60,422.48 45.32,424.14 C44.04,425.81 43.07,426.11 41.79,425.98 C40.51,425.86 38.80,424.84 37.64,423.41 C36.48,421.97 35.36,419.31 34.84,417.38 C34.33,415.46 34.31,413.99 34.57,411.86 C34.83,409.74 35.38,406.23 36.41,404.64 Z" fill="none" stroke="#e0e0e0" stroke-width="0.4"/>
<path d="M37.32,405.60 C38.21,404.22 39.50,403.80 41.06,403.60 C42.62,403.40 45.34,403.73 46.68,404.40 C48.02,405.07 48.75,405.75 49.08,407.60 C49.41,409.45 49.35,412.99 48.68,415.48 C48.01,417.97 46.19,421.11 45.07,422.56 C43.96,424.01 43.11,424.27 42.00,424.16 C40.89,424.05 39.40,423.17 38.39,421.92 C37.39,420.67 36.41,418.35 35.96,416.68 C35.51,415.01 35.49,413.73 35.72,411.88 C35.95,410.03 36.43,406.98 37.32,405.60 Z" fill="#ababab" stroke="#0a0a0a" stroke-width="0.9"/>
<path d="M37.93,406.24 C38.73,405.00 39.89,404.62 41.30,404.44 C42.70,404.26 45.15,404.56 46.35,405.16 C47.55,405.76 48.21,406.38 48.51,408.04 C48.81,409.70 48.75,412.89 48.15,415.13 C47.55,417.38 45.91,420.20 44.90,421.50 C43.90,422.81 43.14,423.04 42.14,422.94 C41.14,422.85 39.80,422.05 38.89,420.93 C37.99,419.81 37.10,417.72 36.70,416.21 C36.30,414.71 36.28,413.55 36.49,411.89 C36.69,410.23 37.13,407.48 37.93,406.24 Z" fill="none" stroke="#e0e0e0" stroke-width="0.4"/>
<path d="M38.76,407.12 C39.44,406.07 40.43,405.75 41.62,405.60 C42.81,405.44 44.88,405.70 45.90,406.20 C46.92,406.71 47.48,407.24 47.73,408.64 C47.99,410.05 47.94,412.75 47.43,414.65 C46.92,416.55 45.52,418.95 44.67,420.05 C43.83,421.16 43.18,421.35 42.33,421.27 C41.48,421.19 40.35,420.51 39.58,419.56 C38.81,418.61 38.07,416.84 37.73,415.57 C37.39,414.29 37.37,413.32 37.54,411.91 C37.72,410.50 38.08,408.17 38.76,407.12 Z" fill="#8c8c8c" stroke="#0a0a0a" stroke-width="0.9"/>
<path d="M39.37,407.76 C39.96,406.85 40.82,406.57 41.85,406.44 C42.89,406.30 44.69,406.52 45.57,406.96 C46.46,407.41 46.94,407.86 47.16,409.08 C47.38,410.31 47.34,412.65 46.90,414.31 C46.46,415.96 45.25,418.04 44.51,419.00 C43.77,419.95 43.21,420.13 42.47,420.06 C41.73,419.99 40.75,419.40 40.08,418.57 C39.42,417.75 38.77,416.21 38.47,415.10 C38.18,413.99 38.16,413.14 38.31,411.92 C38.46,410.70 38.78,408.67 39.37,407.76 Z" fill="none" stroke="#e0e0e0" stroke-width="0.4"/>
<path d="M40.13,408.56 C40.61,407.82 41.31,407.59 42.14,407.49 C42.98,407.38 44.44,407.56 45.16,407.92 C45.88,408.27 46.27,408.64 46.45,409.63 C46.63,410.63 46.60,412.53 46.24,413.87 C45.88,415.21 44.90,416.90 44.30,417.68 C43.70,418.45 43.25,418.59 42.65,418.54 C42.05,418.48 41.25,418.00 40.71,417.33 C40.17,416.66 39.64,415.41 39.40,414.52 C39.16,413.62 39.15,412.93 39.27,411.94 C39.39,410.94 39.65,409.30 40.13,408.56 Z" fill="#707070" stroke="#0a0a0a" stroke-width="0.9"/>
<path d="M40.74,409.20 C41.13,408.60 41.70,408.41 42.38,408.32 C43.06,408.24 44.25,408.38 44.84,408.68 C45.42,408.97 45.74,409.27 45.88,410.07 C46.03,410.88 46.00,412.43 45.71,413.52 C45.42,414.61 44.62,415.99 44.13,416.62 C43.64,417.25 43.27,417.37 42.79,417.32 C42.30,417.27 41.65,416.89 41.21,416.34 C40.77,415.79 40.34,414.78 40.14,414.05 C39.95,413.32 39.94,412.76 40.04,411.95 C40.14,411.14 40.35,409.80 40.74,409.20 Z" fill="none" stroke="#e0e0e0" stroke-width="0.4"/>
<path d="M41.42,409.92 C41.71,409.47 42.13,409.33 42.64,409.27 C43.15,409.20 44.03,409.31 44.47,409.53 C44.90,409.75 45.14,409.97 45.25,410.57 C45.35,411.17 45.33,412.32 45.12,413.13 C44.90,413.94 44.31,414.96 43.94,415.43 C43.58,415.90 43.31,415.99 42.94,415.95 C42.58,415.92 42.10,415.63 41.77,415.22 C41.45,414.82 41.13,414.06 40.98,413.52 C40.84,412.98 40.83,412.56 40.90,411.96 C40.98,411.36 41.13,410.37 41.42,409.92 Z" fill="#4a4a4a" stroke="#0a0a0a" stroke-width="0.9"/>
<path d="M42.03,410.56 C42.23,410.25 42.52,410.16 42.87,410.11 C43.23,410.06 43.84,410.14 44.14,410.29 C44.44,410.44 44.60,410.59 44.68,411.01 C44.75,411.43 44.74,412.22 44.59,412.78 C44.44,413.34 44.03,414.05 43.78,414.38 C43.53,414.70 43.34,414.76 43.08,414.74 C42.83,414.71 42.50,414.51 42.27,414.23 C42.05,413.95 41.83,413.43 41.73,413.05 C41.63,412.68 41.62,412.39 41.67,411.97 C41.72,411.56 41.83,410.87 42.03,410.56 Z" fill="none" stroke="#e0e0e0" stroke-width="0.4"/>
<circle cx="43.4" cy="412" r="1.6" fill="#111" stroke="none" stroke-width="1"/>
<circle cx="73.91753141329902" cy="419.6220348117044" r="0.5488961601585473" fill="#111" stroke="none" stroke-width="1"/>
<circle cx="76.06935772186534" cy="413.3239811156273" r="0.4523206142105999" fill="#111" stroke="none" stroke-width="1"/>
<circle cx="78.83906980466436" cy="410.7827776772289" r="0.5266033157057258" fill="#111" stroke="none" stroke-width="1"/>
<circle cx="78.27339381620314" cy="419.3172066085945" r="0.3635230430256079" fill="#111" stroke="none" stroke-width="1"/>
<circle cx="72.41571182289675" cy="417.97761448391844" r="0.6271564398671726" fill="#111" stroke="none" stroke-width="1"/>
<circle cx="72.48261193265154" cy="420.34626061427366" r="0.5230860212058355" fill="#111" stroke="none" stroke-width="1"/>
<circle cx="80.87512728147243" cy="418.57093007407605" r="0.4015464771610211" fill="#111" stroke="none" stroke-width="1"/>
<circle cx="78.15106334707932" cy="417.6233051995055" r="0.5074892406247474" fill="#111" stroke="none" stroke-width="1"/>
<circle cx="77.06937074656902" cy="420.7989883273875" r="0.5336491728877737" fill="#111" stroke="none" stroke-width="1"/>
<circle cx="77.75714975452905" cy="412.90346070884084" r="0.6084994149379002" fill="#111" stroke="none" stroke-width="1"/>
<circle cx="62.42993741697658" cy="420.56465022357355" r="0.38796040754914873" fill="#111" stroke="none" stroke-width="1"/>
<circle cx="55.433341801580234" cy="420.06927408110556" r="0.5042027118042307" fill="#111" stroke="none" stroke-width="1"/>
<circle cx="54.7825565188111" cy="420.58334383776423" r="0.5304416278184081" fill="#111" stroke="none" stroke-width="1"/>
<circle cx="70.65127597907284" cy="420.64699752510717" r="0.3018761800369273" fill="#111" stroke="none" stroke-width="1"/>
<circle cx="66.21518025750207" cy="420.7251091361087" r="0.3124829630488324" fill="#111" stroke="none" stroke-width="1"/>
<circle cx="57.28492584233333" cy="419.537172222407" r="0.4318165446066708" fill="#111" stroke="none" stroke-width="1"/>
<rect x="48.7" y="399.2" width="46.89999999999999" height="32.19999999999999" fill="none" stroke="#8a8a8a" stroke-width="0.7" rx="0"/>
<text x="92.2" y="430" font-size="7.6" text-anchor="end" fill="#222">24.3</text>
<text x="16.1" y="400.3" font-size="5.4" text-anchor="end" fill="#333">10<tspan font-size="4.6" dy="-3.5">4</tspan></text>
<text x="16.1" y="422.90000000000003" font-size="5.4" text-anchor="end" fill="#333">10<tspan font-size="4.6" dy="-3.5">3</tspan></text>
<text x="13.100000000000001" y="445.0" font-size="5.0" text-anchor="end" fill="#333">0</text>
<line x1="17.9" y1="396.7" x2="19.5" y2="396.7" stroke="#444" stroke-width="0.6"/>
<line x1="17.9" y1="419.3" x2="19.5" y2="419.3" stroke="#444" stroke-width="0.6"/>
<line x1="19.0" y1="439.2" x2="19.0" y2="447.2" stroke="#222" stroke-width="1.1" stroke-dasharray="1.2,0.6"/>
<text x="42.3" y="468.7" font-size="5.0" text-anchor="middle" fill="#333">0</text>
<text x="70.9" y="468.9" font-size="5.4" text-anchor="start" fill="#333">10<tspan font-size="4.6" dy="-3.5">3</tspan></text>
<line x1="73" y1="459.5" x2="73" y2="461.1" stroke="#444" stroke-width="0.6"/>
<rect x="38.8" y="459.2" width="6.2" height="1.3" fill="#222" stroke="none" stroke-width="1" rx="0"/>
<rect x="113" y="376.2" width="79.69999999999999" height="81.40000000000003" fill="none" stroke="#bdbdbd" stroke-width="0.8" rx="0"/>
<line x1="112" y1="379.2" x2="113" y2="379.2" stroke="#c8c8c8" stroke-width="0.4"/>
<line x1="112" y1="381.4" x2="113" y2="381.4" stroke="#c8c8c8" stroke-width="0.4"/>
<line x1="112" y1="383.59999999999997" x2="113" y2="383.59999999999997" stroke="#c8c8c8" stroke-width="0.4"/>
<line x1="112" y1="385.79999999999995" x2="113" y2="385.79999999999995" stroke="#c8c8c8" stroke-width="0.4"/>
<line x1="112" y1="387.99999999999994" x2="113" y2="387.99999999999994" stroke="#c8c8c8" stroke-width="0.4"/>
<line x1="112" y1="390.19999999999993" x2="113" y2="390.19999999999993" stroke="#c8c8c8" stroke-width="0.4"/>
<line x1="112" y1="392.3999999999999" x2="113" y2="392.3999999999999" stroke="#c8c8c8" stroke-width="0.4"/>
<line x1="112" y1="394.5999999999999" x2="113" y2="394.5999999999999" stroke="#c8c8c8" stroke-width="0.4"/>
<line x1="112" y1="396.7999999999999" x2="113" y2="396.7999999999999" stroke="#c8c8c8" stroke-width="0.4"/>
<line x1="112" y1="398.9999999999999" x2="113" y2="398.9999999999999" stroke="#c8c8c8" stroke-width="0.4"/>
<line x1="112" y1="401.1999999999999" x2="113" y2="401.1999999999999" stroke="#c8c8c8" stroke-width="0.4"/>
<line x1="112" y1="403.39999999999986" x2="113" y2="403.39999999999986" stroke="#c8c8c8" stroke-width="0.4"/>
<line x1="112" y1="405.59999999999985" x2="113" y2="405.59999999999985" stroke="#c8c8c8" stroke-width="0.4"/>
<line x1="112" y1="407.79999999999984" x2="113" y2="407.79999999999984" stroke="#c8c8c8" stroke-width="0.4"/>
<line x1="112" y1="409.99999999999983" x2="113" y2="409.99999999999983" stroke="#c8c8c8" stroke-width="0.4"/>
<line x1="112" y1="412.1999999999998" x2="113" y2="412.1999999999998" stroke="#c8c8c8" stroke-width="0.4"/>
<line x1="112" y1="414.3999999999998" x2="113" y2="414.3999999999998" stroke="#c8c8c8" stroke-width="0.4"/>
<line x1="112" y1="416.5999999999998" x2="113" y2="416.5999999999998" stroke="#c8c8c8" stroke-width="0.4"/>
<line x1="112" y1="418.7999999999998" x2="113" y2="418.7999999999998" stroke="#c8c8c8" stroke-width="0.4"/>
<line x1="112" y1="420.9999999999998" x2="113" y2="420.9999999999998" stroke="#c8c8c8" stroke-width="0.4"/>
<line x1="112" y1="423.19999999999976" x2="113" y2="423.19999999999976" stroke="#c8c8c8" stroke-width="0.4"/>
<line x1="112" y1="425.39999999999975" x2="113" y2="425.39999999999975" stroke="#c8c8c8" stroke-width="0.4"/>
<line x1="112" y1="427.59999999999974" x2="113" y2="427.59999999999974" stroke="#c8c8c8" stroke-width="0.4"/>
<line x1="112" y1="429.7999999999997" x2="113" y2="429.7999999999997" stroke="#c8c8c8" stroke-width="0.4"/>
<line x1="112" y1="431.9999999999997" x2="113" y2="431.9999999999997" stroke="#c8c8c8" stroke-width="0.4"/>
<line x1="112" y1="434.1999999999997" x2="113" y2="434.1999999999997" stroke="#c8c8c8" stroke-width="0.4"/>
<line x1="112" y1="436.3999999999997" x2="113" y2="436.3999999999997" stroke="#c8c8c8" stroke-width="0.4"/>
<line x1="112" y1="438.5999999999997" x2="113" y2="438.5999999999997" stroke="#c8c8c8" stroke-width="0.4"/>
<line x1="112" y1="440.79999999999967" x2="113" y2="440.79999999999967" stroke="#c8c8c8" stroke-width="0.4"/>
<line x1="112" y1="442.99999999999966" x2="113" y2="442.99999999999966" stroke="#c8c8c8" stroke-width="0.4"/>
<line x1="112" y1="445.19999999999965" x2="113" y2="445.19999999999965" stroke="#c8c8c8" stroke-width="0.4"/>
<line x1="112" y1="447.39999999999964" x2="113" y2="447.39999999999964" stroke="#c8c8c8" stroke-width="0.4"/>
<line x1="112" y1="449.5999999999996" x2="113" y2="449.5999999999996" stroke="#c8c8c8" stroke-width="0.4"/>
<line x1="112" y1="451.7999999999996" x2="113" y2="451.7999999999996" stroke="#c8c8c8" stroke-width="0.4"/>
<line x1="112" y1="453.9999999999996" x2="113" y2="453.9999999999996" stroke="#c8c8c8" stroke-width="0.4"/>
<line x1="116" y1="457.6" x2="116" y2="458.6" stroke="#c8c8c8" stroke-width="0.4"/>
<line x1="118.2" y1="457.6" x2="118.2" y2="458.6" stroke="#c8c8c8" stroke-width="0.4"/>
<line x1="120.4" y1="457.6" x2="120.4" y2="458.6" stroke="#c8c8c8" stroke-width="0.4"/>
<line x1="122.60000000000001" y1="457.6" x2="122.60000000000001" y2="458.6" stroke="#c8c8c8" stroke-width="0.4"/>
<line x1="124.80000000000001" y1="457.6" x2="124.80000000000001" y2="458.6" stroke="#c8c8c8" stroke-width="0.4"/>
<line x1="127.00000000000001" y1="457.6" x2="127.00000000000001" y2="458.6" stroke="#c8c8c8" stroke-width="0.4"/>
<line x1="129.20000000000002" y1="457.6" x2="129.20000000000002" y2="458.6" stroke="#c8c8c8" stroke-width="0.4"/>
<line x1="131.4" y1="457.6" x2="131.4" y2="458.6" stroke="#c8c8c8" stroke-width="0.4"/>
<line x1="133.6" y1="457.6" x2="133.6" y2="458.6" stroke="#c8c8c8" stroke-width="0.4"/>
<line x1="135.79999999999998" y1="457.6" x2="135.79999999999998" y2="458.6" stroke="#c8c8c8" stroke-width="0.4"/>
<line x1="137.99999999999997" y1="457.6" x2="137.99999999999997" y2="458.6" stroke="#c8c8c8" stroke-width="0.4"/>
<line x1="140.19999999999996" y1="457.6" x2="140.19999999999996" y2="458.6" stroke="#c8c8c8" stroke-width="0.4"/>
<line x1="142.39999999999995" y1="457.6" x2="142.39999999999995" y2="458.6" stroke="#c8c8c8" stroke-width="0.4"/>
<line x1="144.59999999999994" y1="457.6" x2="144.59999999999994" y2="458.6" stroke="#c8c8c8" stroke-width="0.4"/>
<line x1="146.79999999999993" y1="457.6" x2="146.79999999999993" y2="458.6" stroke="#c8c8c8" stroke-width="0.4"/>
<line x1="148.99999999999991" y1="457.6" x2="148.99999999999991" y2="458.6" stroke="#c8c8c8" stroke-width="0.4"/>
<line x1="151.1999999999999" y1="457.6" x2="151.1999999999999" y2="458.6" stroke="#c8c8c8" stroke-width="0.4"/>
<line x1="153.3999999999999" y1="457.6" x2="153.3999999999999" y2="458.6" stroke="#c8c8c8" stroke-width="0.4"/>
<line x1="155.59999999999988" y1="457.6" x2="155.59999999999988" y2="458.6" stroke="#c8c8c8" stroke-width="0.4"/>
<line x1="157.79999999999987" y1="457.6" x2="157.79999999999987" y2="458.6" stroke="#c8c8c8" stroke-width="0.4"/>
<line x1="159.99999999999986" y1="457.6" x2="159.99999999999986" y2="458.6" stroke="#c8c8c8" stroke-width="0.4"/>
<line x1="162.19999999999985" y1="457.6" x2="162.19999999999985" y2="458.6" stroke="#c8c8c8" stroke-width="0.4"/>
<line x1="164.39999999999984" y1="457.6" x2="164.39999999999984" y2="458.6" stroke="#c8c8c8" stroke-width="0.4"/>
<line x1="166.59999999999982" y1="457.6" x2="166.59999999999982" y2="458.6" stroke="#c8c8c8" stroke-width="0.4"/>
<line x1="168.7999999999998" y1="457.6" x2="168.7999999999998" y2="458.6" stroke="#c8c8c8" stroke-width="0.4"/>
<line x1="170.9999999999998" y1="457.6" x2="170.9999999999998" y2="458.6" stroke="#c8c8c8" stroke-width="0.4"/>
<line x1="173.1999999999998" y1="457.6" x2="173.1999999999998" y2="458.6" stroke="#c8c8c8" stroke-width="0.4"/>
<line x1="175.39999999999978" y1="457.6" x2="175.39999999999978" y2="458.6" stroke="#c8c8c8" stroke-width="0.4"/>
<line x1="177.59999999999977" y1="457.6" x2="177.59999999999977" y2="458.6" stroke="#c8c8c8" stroke-width="0.4"/>
<line x1="179.79999999999976" y1="457.6" x2="179.79999999999976" y2="458.6" stroke="#c8c8c8" stroke-width="0.4"/>
<line x1="181.99999999999974" y1="457.6" x2="181.99999999999974" y2="458.6" stroke="#c8c8c8" stroke-width="0.4"/>
<line x1="184.19999999999973" y1="457.6" x2="184.19999999999973" y2="458.6" stroke="#c8c8c8" stroke-width="0.4"/>
<line x1="186.39999999999972" y1="457.6" x2="186.39999999999972" y2="458.6" stroke="#c8c8c8" stroke-width="0.4"/>
<line x1="188.5999999999997" y1="457.6" x2="188.5999999999997" y2="458.6" stroke="#c8c8c8" stroke-width="0.4"/>
<text x="144.7" y="388.8" font-size="7.8" text-anchor="start" fill="#222">I/A</text>
<path d="M129.50,405.00 C130.60,403.50 132.02,402.78 134.10,402.50 C136.18,402.22 139.85,402.90 142.00,403.30 C144.15,403.70 144.42,404.37 147.00,404.90 C149.58,405.43 154.17,405.82 157.50,406.51 C160.83,407.19 164.75,407.92 167.00,409.00 C169.25,410.08 170.92,411.67 171.00,413.00 C171.08,414.33 169.75,415.92 167.50,417.00 C165.25,418.08 161.08,418.67 157.50,419.50 C153.92,420.33 149.07,421.28 146.00,422.00 C142.93,422.72 140.84,423.22 139.05,423.80 C137.26,424.38 136.63,425.68 135.25,425.50 C133.88,425.32 132.04,424.03 130.80,422.70 C129.56,421.37 128.35,419.37 127.80,417.50 C127.25,415.63 127.22,413.58 127.50,411.50 C127.78,409.42 128.40,406.50 129.50,405.00 Z" fill="url(#gtail)" stroke="#0a0a0a" stroke-width="1.9"/>
<ellipse cx="146" cy="415.0" rx="3.5" ry="6.8999999999999995" fill="#111" stroke="none" stroke-width="1" opacity="0.55" filter="url(#bl)"/>
<path d="M129.50,405.00 C130.60,403.50 132.18,402.75 134.10,402.50 C136.02,402.25 139.35,402.67 141.00,403.50 C142.65,404.33 143.58,405.42 144.00,407.50 C144.42,409.58 144.32,413.33 143.50,416.00 C142.68,418.67 140.42,421.92 139.05,423.50 C137.68,425.08 136.63,425.63 135.25,425.50 C133.88,425.37 132.04,424.03 130.80,422.70 C129.56,421.37 128.35,419.37 127.80,417.50 C127.25,415.63 127.22,413.58 127.50,411.50 C127.78,409.42 128.40,406.50 129.50,405.00 Z" fill="#8c8c8c" stroke="#0a0a0a" stroke-width="0.9"/>
<path d="M130.04,405.56 C131.06,404.18 132.51,403.49 134.28,403.26 C136.04,403.03 139.11,403.41 140.62,404.18 C142.14,404.95 143.00,405.94 143.38,407.86 C143.77,409.78 143.68,413.23 142.92,415.68 C142.17,418.13 140.09,421.12 138.83,422.58 C137.57,424.04 136.60,424.54 135.34,424.42 C134.07,424.30 132.38,423.07 131.24,421.84 C130.10,420.62 128.99,418.78 128.48,417.06 C127.97,415.34 127.94,413.46 128.20,411.54 C128.46,409.62 129.03,406.94 130.04,405.56 Z" fill="none" stroke="#e0e0e0" stroke-width="0.4"/>
<path d="M130.86,406.40 C131.74,405.20 133.01,404.60 134.54,404.40 C136.07,404.20 138.74,404.53 140.06,405.20 C141.38,405.87 142.13,406.73 142.46,408.40 C142.79,410.07 142.72,413.07 142.06,415.20 C141.40,417.33 139.60,419.93 138.50,421.20 C137.40,422.47 136.56,422.91 135.46,422.80 C134.36,422.69 132.89,421.63 131.90,420.56 C130.91,419.49 129.94,417.89 129.50,416.40 C129.06,414.91 129.03,413.27 129.26,411.60 C129.49,409.93 129.98,407.60 130.86,406.40 Z" fill="#ababab" stroke="#0a0a0a" stroke-width="0.9"/>
<path d="M131.40,406.96 C132.20,405.88 133.34,405.34 134.72,405.16 C136.10,404.98 138.50,405.28 139.68,405.88 C140.87,406.48 141.54,407.26 141.84,408.76 C142.14,410.26 142.08,412.96 141.48,414.88 C140.89,416.80 139.27,419.14 138.28,420.28 C137.29,421.42 136.54,421.82 135.55,421.72 C134.56,421.62 133.23,420.66 132.34,419.70 C131.45,418.74 130.58,417.30 130.18,415.96 C129.78,414.62 129.76,413.14 129.96,411.64 C130.17,410.14 130.61,408.04 131.40,406.96 Z" fill="none" stroke="#e0e0e0" stroke-width="0.4"/>
<path d="M132.15,407.73 C132.82,406.81 133.79,406.36 134.96,406.20 C136.13,406.05 138.16,406.31 139.17,406.81 C140.17,407.32 140.74,407.98 141.00,409.25 C141.25,410.53 141.20,412.81 140.69,414.44 C140.19,416.07 138.82,418.05 137.98,419.01 C137.14,419.98 136.50,420.32 135.66,420.24 C134.82,420.15 133.70,419.34 132.95,418.53 C132.19,417.71 131.45,416.49 131.12,415.36 C130.78,414.22 130.76,412.97 130.93,411.69 C131.10,410.42 131.48,408.65 132.15,407.73 Z" fill="#8c8c8c" stroke="#0a0a0a" stroke-width="0.9"/>
<path d="M132.70,408.29 C133.28,407.50 134.12,407.10 135.13,406.96 C136.15,406.83 137.92,407.05 138.79,407.50 C139.67,407.94 140.16,408.51 140.38,409.62 C140.60,410.72 140.55,412.71 140.12,414.12 C139.68,415.53 138.49,417.26 137.76,418.10 C137.03,418.93 136.47,419.23 135.75,419.15 C135.02,419.08 134.04,418.38 133.39,417.67 C132.73,416.96 132.09,415.90 131.80,414.92 C131.50,413.93 131.49,412.84 131.64,411.74 C131.79,410.63 132.11,409.09 132.70,408.29 Z" fill="none" stroke="#e0e0e0" stroke-width="0.4"/>
<path d="M133.38,408.99 C133.85,408.35 134.53,408.02 135.35,407.92 C136.18,407.81 137.61,407.99 138.32,408.35 C139.03,408.70 139.43,409.17 139.61,410.06 C139.79,410.96 139.75,412.57 139.40,413.72 C139.04,414.87 138.07,416.26 137.48,416.94 C136.89,417.63 136.44,417.86 135.85,417.81 C135.26,417.75 134.47,417.17 133.94,416.60 C133.40,416.03 132.88,415.17 132.65,414.37 C132.41,413.56 132.39,412.68 132.52,411.79 C132.64,410.89 132.90,409.63 133.38,408.99 Z" fill="#707070" stroke="#0a0a0a" stroke-width="0.9"/>
<path d="M133.92,409.55 C134.31,409.03 134.86,408.76 135.53,408.68 C136.20,408.59 137.37,408.73 137.94,409.02 C138.52,409.32 138.85,409.70 139.00,410.43 C139.14,411.15 139.11,412.47 138.82,413.40 C138.53,414.33 137.74,415.47 137.26,416.02 C136.78,416.58 136.42,416.77 135.93,416.73 C135.45,416.68 134.81,416.21 134.38,415.75 C133.94,415.28 133.52,414.58 133.33,413.93 C133.13,413.27 133.12,412.55 133.22,411.82 C133.32,411.10 133.54,410.07 133.92,409.55 Z" fill="none" stroke="#e0e0e0" stroke-width="0.4"/>
<path d="M134.53,410.18 C134.82,409.79 135.23,409.59 135.73,409.53 C136.23,409.46 137.09,409.57 137.52,409.79 C137.95,410.01 138.19,410.29 138.30,410.83 C138.41,411.37 138.39,412.35 138.17,413.04 C137.96,413.73 137.37,414.58 137.02,414.99 C136.66,415.40 136.39,415.54 136.03,415.51 C135.67,415.48 135.19,415.13 134.87,414.78 C134.55,414.44 134.23,413.92 134.09,413.43 C133.95,412.94 133.94,412.41 134.01,411.87 C134.09,411.33 134.25,410.57 134.53,410.18 Z" fill="#4a4a4a" stroke="#0a0a0a" stroke-width="0.9"/>
<path d="M135.08,410.74 C135.27,410.47 135.56,410.34 135.90,410.29 C136.25,410.25 136.85,410.32 137.15,410.47 C137.44,410.62 137.61,410.81 137.69,411.19 C137.76,411.56 137.74,412.24 137.60,412.72 C137.45,413.20 137.04,413.78 136.80,414.07 C136.55,414.36 136.36,414.45 136.11,414.43 C135.86,414.41 135.53,414.17 135.31,413.93 C135.09,413.69 134.87,413.33 134.77,412.99 C134.67,412.65 134.67,412.29 134.72,411.91 C134.77,411.54 134.88,411.01 135.08,410.74 Z" fill="none" stroke="#e0e0e0" stroke-width="0.4"/>
<circle cx="136.3" cy="412" r="1.6" fill="#111" stroke="none" stroke-width="1"/>
<circle cx="169.48165195819556" cy="413.41125016315993" r="0.5829492982168333" fill="#111" stroke="none" stroke-width="1"/>
<circle cx="173.4828178275994" cy="408.1854198663724" r="0.3880589858729799" fill="#111" stroke="none" stroke-width="1"/>
<circle cx="172.31605077182192" cy="408.35520860578987" r="0.6424077593527981" fill="#111" stroke="none" stroke-width="1"/>
<circle cx="165.38273511997735" cy="408.57660009669183" r="0.5006360020264794" fill="#111" stroke="none" stroke-width="1"/>
<circle cx="170.4989856817432" cy="411.4322475038259" r="0.4553868674914474" fill="#111" stroke="none" stroke-width="1"/>
<circle cx="167.35432067363305" cy="414.8326640114298" r="0.4582503756841953" fill="#111" stroke="none" stroke-width="1"/>
<circle cx="171.68472099388975" cy="411.60970378934405" r="0.3871265071502553" fill="#111" stroke="none" stroke-width="1"/>
<circle cx="168.22250353520255" cy="416.45053527532514" r="0.46407141863247614" fill="#111" stroke="none" stroke-width="1"/>
<circle cx="172.74093831416982" cy="409.7319518069701" r="0.46198237268809494" fill="#111" stroke="none" stroke-width="1"/>
<circle cx="167.75786875801103" cy="417.28277293418756" r="0.4640794045552829" fill="#111" stroke="none" stroke-width="1"/>
<circle cx="163.22786182941903" cy="418.74585302005016" r="0.4078983993326589" fill="#111" stroke="none" stroke-width="1"/>
<circle cx="152.9380834628542" cy="418.49230320394105" r="0.4757201651389685" fill="#111" stroke="none" stroke-width="1"/>
<circle cx="154.09233354633255" cy="418.88824642327864" r="0.4152099781072236" fill="#111" stroke="none" stroke-width="1"/>
<circle cx="149.88199911451025" cy="418.571674768181" r="0.47379228694346187" fill="#111" stroke="none" stroke-width="1"/>
<circle cx="145.7179439311869" cy="418.3497770909137" r="0.40646376410567364" fill="#111" stroke="none" stroke-width="1"/>
<circle cx="165.11206287647983" cy="419.37296814211555" r="0.3935589242145632" fill="#111" stroke="none" stroke-width="1"/>
<rect x="141.5" y="399.4" width="46.5" height="31.80000000000001" fill="none" stroke="#8a8a8a" stroke-width="0.7" rx="0"/>
<text x="186.3" y="429.5" font-size="7.6" text-anchor="end" fill="#222">29.1</text>
<text x="109.6" y="400.90000000000003" font-size="5.4" text-anchor="end" fill="#333">10<tspan font-size="4.6" dy="-3.5">4</tspan></text>
<text x="109.6" y="422.1" font-size="5.4" text-anchor="end" fill="#333">10<tspan font-size="4.6" dy="-3.5">3</tspan></text>
<text x="106.6" y="444.6" font-size="5.0" text-anchor="end" fill="#333">0</text>
<line x1="111.4" y1="397.3" x2="113" y2="397.3" stroke="#444" stroke-width="0.6"/>
<line x1="111.4" y1="418.5" x2="113" y2="418.5" stroke="#444" stroke-width="0.6"/>
<line x1="112.5" y1="438.8" x2="112.5" y2="446.8" stroke="#222" stroke-width="1.1" stroke-dasharray="1.2,0.6"/>
<text x="135.2" y="466.8" font-size="5.0" text-anchor="middle" fill="#333">0</text>
<text x="162.70000000000002" y="467.0" font-size="5.4" text-anchor="start" fill="#333">10<tspan font-size="4.6" dy="-3.5">3</tspan></text>
<line x1="164.8" y1="457.6" x2="164.8" y2="459.20000000000005" stroke="#444" stroke-width="0.6"/>
<rect x="131.7" y="457.3" width="6.2" height="1.3" fill="#222" stroke="none" stroke-width="1" rx="0"/>
<text x="23.3" y="475" font-size="7.3" text-anchor="start" fill="#222">TNF&#945;</text>
<line x1="48.2" y1="473.4" x2="171.8" y2="473.4" stroke="#222" stroke-width="0.9"/>
<path d="M175.30,473.40 L171.80,475.00 L171.80,471.80 Z" fill="#222" stroke="none" stroke-width="1"/>
<line x1="222.5" y1="384.8" x2="222.5" y2="463.0" stroke="#111" stroke-width="1"/>
<line x1="220.5" y1="385.3" x2="222.5" y2="385.3" stroke="#222" stroke-width="0.9"/>
<text x="220.1" y="387.8" font-size="7" text-anchor="end" fill="#222">32</text>
<line x1="220.5" y1="404.6" x2="222.5" y2="404.6" stroke="#222" stroke-width="0.9"/>
<text x="220.1" y="407.1" font-size="7" text-anchor="end" fill="#222">24</text>
<line x1="220.5" y1="424.1" x2="222.5" y2="424.1" stroke="#222" stroke-width="0.9"/>
<text x="220.1" y="426.6" font-size="7" text-anchor="end" fill="#222">16</text>
<line x1="220.5" y1="443.5" x2="222.5" y2="443.5" stroke="#222" stroke-width="0.9"/>
<text x="220.1" y="446.0" font-size="7" text-anchor="end" fill="#222">8</text>
<line x1="220.5" y1="462.7" x2="222.5" y2="462.7" stroke="#222" stroke-width="0.9"/>
<text x="220.1" y="465.2" font-size="7" text-anchor="end" fill="#222">0</text>
<rect x="225" y="403.8" width="11.300000000000011" height="58.69999999999999" fill="#fff" stroke="#222" stroke-width="1.25" rx="0"/>
<rect x="240.1" y="392.4" width="11.900000000000006" height="70.10000000000002" fill="#fff" stroke="#d83030" stroke-width="1.25" rx="0"/>
<line x1="222.5" y1="462.5" x2="253.5" y2="462.5" stroke="#111" stroke-width="1"/>
<line x1="230.65" y1="462.5" x2="230.65" y2="464.3" stroke="#222" stroke-width="0.9"/>
<line x1="246.05" y1="462.5" x2="246.05" y2="464.3" stroke="#222" stroke-width="0.9"/>
<path d="M230,384.6 V381 H245.5 V384.6" fill="none" stroke="#222" stroke-width="1.0"/>
<circle cx="235.95" cy="377.8" r="1.15" fill="#111" stroke="none" stroke-width="1"/>
<circle cx="239.55" cy="377.8" r="1.15" fill="#111" stroke="none" stroke-width="1"/>
<text x="230.65" y="472.8" font-size="7.2" text-anchor="middle" fill="#222">WT</text>
<text x="246.05" y="472.8" font-size="7.2" text-anchor="middle" fill="#222">I/A</text>
<text x="236.3" y="367.6" font-size="7.2" text-anchor="middle" fill="#222">TNF&#945;</text>
<text x="205" y="423" font-size="7.4" text-anchor="middle" fill="#222" transform="rotate(-90 205 423)">TNF&#945;<tspan font-size="4.9" dy="-2.8">+</tspan><tspan dy="2.8"> of 1G4 T cells (%)</tspan></text>
<circle cx="227" cy="405.5" r="1.7" fill="#fff" stroke="#222" stroke-width="1.0"/>
<circle cx="230.5" cy="403.5" r="1.7" fill="#fff" stroke="#222" stroke-width="1.0"/>
<circle cx="234" cy="404.5" r="1.7" fill="#fff" stroke="#222" stroke-width="1.0"/>
<path d="M242.5,391 L244.4,394.3 L240.6,394.3 Z" fill="#fff" stroke="#d83030" stroke-width="0.9"/>
<path d="M246,390 L247.9,393.3 L244.1,393.3 Z" fill="#fff" stroke="#d83030" stroke-width="0.9"/>
<path d="M250,391 L251.9,394.3 L248.1,394.3 Z" fill="#fff" stroke="#d83030" stroke-width="0.9"/>
<path d="M242.5,394 L244.4,397.3 L240.6,397.3 Z" fill="#fff" stroke="#d83030" stroke-width="0.9"/>
<text x="261.3" y="362.2" font-size="13.4" text-anchor="start" fill="#111" font-weight="bold">F</text>
<text x="324.4" y="365.4" font-size="7.5" text-anchor="start" fill="#222">+ 293T-NY-ESO-1 E:T=3:1</text>
<line x1="282.5" y1="371" x2="454.4" y2="371" stroke="#111" stroke-width="1.3"/>
<line x1="267" y1="440" x2="267.0" y2="379.2" stroke="#222" stroke-width="0.9"/>
<path d="M267.00,376.00 L268.40,379.20 L265.60,379.20 Z" fill="#222" stroke="none" stroke-width="1"/>
<text x="269.8" y="453" font-size="7.5" text-anchor="middle" fill="#222" transform="rotate(-90 269.8 453)">CD8</text>
<rect x="282" y="377" width="81" height="80.39999999999998" fill="none" stroke="#bdbdbd" stroke-width="0.8" rx="0"/>
<line x1="281" y1="380" x2="282" y2="380" stroke="#c8c8c8" stroke-width="0.4"/>
<line x1="281" y1="382.2" x2="282" y2="382.2" stroke="#c8c8c8" stroke-width="0.4"/>
<line x1="281" y1="384.4" x2="282" y2="384.4" stroke="#c8c8c8" stroke-width="0.4"/>
<line x1="281" y1="386.59999999999997" x2="282" y2="386.59999999999997" stroke="#c8c8c8" stroke-width="0.4"/>
<line x1="281" y1="388.79999999999995" x2="282" y2="388.79999999999995" stroke="#c8c8c8" stroke-width="0.4"/>
<line x1="281" y1="390.99999999999994" x2="282" y2="390.99999999999994" stroke="#c8c8c8" stroke-width="0.4"/>
<line x1="281" y1="393.19999999999993" x2="282" y2="393.19999999999993" stroke="#c8c8c8" stroke-width="0.4"/>
<line x1="281" y1="395.3999999999999" x2="282" y2="395.3999999999999" stroke="#c8c8c8" stroke-width="0.4"/>
<line x1="281" y1="397.5999999999999" x2="282" y2="397.5999999999999" stroke="#c8c8c8" stroke-width="0.4"/>
<line x1="281" y1="399.7999999999999" x2="282" y2="399.7999999999999" stroke="#c8c8c8" stroke-width="0.4"/>
<line x1="281" y1="401.9999999999999" x2="282" y2="401.9999999999999" stroke="#c8c8c8" stroke-width="0.4"/>
<line x1="281" y1="404.1999999999999" x2="282" y2="404.1999999999999" stroke="#c8c8c8" stroke-width="0.4"/>
<line x1="281" y1="406.39999999999986" x2="282" y2="406.39999999999986" stroke="#c8c8c8" stroke-width="0.4"/>
<line x1="281" y1="408.59999999999985" x2="282" y2="408.59999999999985" stroke="#c8c8c8" stroke-width="0.4"/>
<line x1="281" y1="410.79999999999984" x2="282" y2="410.79999999999984" stroke="#c8c8c8" stroke-width="0.4"/>
<line x1="281" y1="412.99999999999983" x2="282" y2="412.99999999999983" stroke="#c8c8c8" stroke-width="0.4"/>
<line x1="281" y1="415.1999999999998" x2="282" y2="415.1999999999998" stroke="#c8c8c8" stroke-width="0.4"/>
<line x1="281" y1="417.3999999999998" x2="282" y2="417.3999999999998" stroke="#c8c8c8" stroke-width="0.4"/>
<line x1="281" y1="419.5999999999998" x2="282" y2="419.5999999999998" stroke="#c8c8c8" stroke-width="0.4"/>
<line x1="281" y1="421.7999999999998" x2="282" y2="421.7999999999998" stroke="#c8c8c8" stroke-width="0.4"/>
<line x1="281" y1="423.9999999999998" x2="282" y2="423.9999999999998" stroke="#c8c8c8" stroke-width="0.4"/>
<line x1="281" y1="426.19999999999976" x2="282" y2="426.19999999999976" stroke="#c8c8c8" stroke-width="0.4"/>
<line x1="281" y1="428.39999999999975" x2="282" y2="428.39999999999975" stroke="#c8c8c8" stroke-width="0.4"/>
<line x1="281" y1="430.59999999999974" x2="282" y2="430.59999999999974" stroke="#c8c8c8" stroke-width="0.4"/>
<line x1="281" y1="432.7999999999997" x2="282" y2="432.7999999999997" stroke="#c8c8c8" stroke-width="0.4"/>
<line x1="281" y1="434.9999999999997" x2="282" y2="434.9999999999997" stroke="#c8c8c8" stroke-width="0.4"/>
<line x1="281" y1="437.1999999999997" x2="282" y2="437.1999999999997" stroke="#c8c8c8" stroke-width="0.4"/>
<line x1="281" y1="439.3999999999997" x2="282" y2="439.3999999999997" stroke="#c8c8c8" stroke-width="0.4"/>
<line x1="281" y1="441.5999999999997" x2="282" y2="441.5999999999997" stroke="#c8c8c8" stroke-width="0.4"/>
<line x1="281" y1="443.79999999999967" x2="282" y2="443.79999999999967" stroke="#c8c8c8" stroke-width="0.4"/>
<line x1="281" y1="445.99999999999966" x2="282" y2="445.99999999999966" stroke="#c8c8c8" stroke-width="0.4"/>
<line x1="281" y1="448.19999999999965" x2="282" y2="448.19999999999965" stroke="#c8c8c8" stroke-width="0.4"/>
<line x1="281" y1="450.39999999999964" x2="282" y2="450.39999999999964" stroke="#c8c8c8" stroke-width="0.4"/>
<line x1="281" y1="452.5999999999996" x2="282" y2="452.5999999999996" stroke="#c8c8c8" stroke-width="0.4"/>
<line x1="281" y1="454.7999999999996" x2="282" y2="454.7999999999996" stroke="#c8c8c8" stroke-width="0.4"/>
<line x1="285" y1="457.4" x2="285" y2="458.4" stroke="#c8c8c8" stroke-width="0.4"/>
<line x1="287.2" y1="457.4" x2="287.2" y2="458.4" stroke="#c8c8c8" stroke-width="0.4"/>
<line x1="289.4" y1="457.4" x2="289.4" y2="458.4" stroke="#c8c8c8" stroke-width="0.4"/>
<line x1="291.59999999999997" y1="457.4" x2="291.59999999999997" y2="458.4" stroke="#c8c8c8" stroke-width="0.4"/>
<line x1="293.79999999999995" y1="457.4" x2="293.79999999999995" y2="458.4" stroke="#c8c8c8" stroke-width="0.4"/>
<line x1="295.99999999999994" y1="457.4" x2="295.99999999999994" y2="458.4" stroke="#c8c8c8" stroke-width="0.4"/>
<line x1="298.19999999999993" y1="457.4" x2="298.19999999999993" y2="458.4" stroke="#c8c8c8" stroke-width="0.4"/>
<line x1="300.3999999999999" y1="457.4" x2="300.3999999999999" y2="458.4" stroke="#c8c8c8" stroke-width="0.4"/>
<line x1="302.5999999999999" y1="457.4" x2="302.5999999999999" y2="458.4" stroke="#c8c8c8" stroke-width="0.4"/>
<line x1="304.7999999999999" y1="457.4" x2="304.7999999999999" y2="458.4" stroke="#c8c8c8" stroke-width="0.4"/>
<line x1="306.9999999999999" y1="457.4" x2="306.9999999999999" y2="458.4" stroke="#c8c8c8" stroke-width="0.4"/>
<line x1="309.1999999999999" y1="457.4" x2="309.1999999999999" y2="458.4" stroke="#c8c8c8" stroke-width="0.4"/>
<line x1="311.39999999999986" y1="457.4" x2="311.39999999999986" y2="458.4" stroke="#c8c8c8" stroke-width="0.4"/>
<line x1="313.59999999999985" y1="457.4" x2="313.59999999999985" y2="458.4" stroke="#c8c8c8" stroke-width="0.4"/>
<line x1="315.79999999999984" y1="457.4" x2="315.79999999999984" y2="458.4" stroke="#c8c8c8" stroke-width="0.4"/>
<line x1="317.99999999999983" y1="457.4" x2="317.99999999999983" y2="458.4" stroke="#c8c8c8" stroke-width="0.4"/>
<line x1="320.1999999999998" y1="457.4" x2="320.1999999999998" y2="458.4" stroke="#c8c8c8" stroke-width="0.4"/>
<line x1="322.3999999999998" y1="457.4" x2="322.3999999999998" y2="458.4" stroke="#c8c8c8" stroke-width="0.4"/>
<line x1="324.5999999999998" y1="457.4" x2="324.5999999999998" y2="458.4" stroke="#c8c8c8" stroke-width="0.4"/>
<line x1="326.7999999999998" y1="457.4" x2="326.7999999999998" y2="458.4" stroke="#c8c8c8" stroke-width="0.4"/>
<line x1="328.9999999999998" y1="457.4" x2="328.9999999999998" y2="458.4" stroke="#c8c8c8" stroke-width="0.4"/>
<line x1="331.19999999999976" y1="457.4" x2="331.19999999999976" y2="458.4" stroke="#c8c8c8" stroke-width="0.4"/>
<line x1="333.39999999999975" y1="457.4" x2="333.39999999999975" y2="458.4" stroke="#c8c8c8" stroke-width="0.4"/>
<line x1="335.59999999999974" y1="457.4" x2="335.59999999999974" y2="458.4" stroke="#c8c8c8" stroke-width="0.4"/>
<line x1="337.7999999999997" y1="457.4" x2="337.7999999999997" y2="458.4" stroke="#c8c8c8" stroke-width="0.4"/>
<line x1="339.9999999999997" y1="457.4" x2="339.9999999999997" y2="458.4" stroke="#c8c8c8" stroke-width="0.4"/>
<line x1="342.1999999999997" y1="457.4" x2="342.1999999999997" y2="458.4" stroke="#c8c8c8" stroke-width="0.4"/>
<line x1="344.3999999999997" y1="457.4" x2="344.3999999999997" y2="458.4" stroke="#c8c8c8" stroke-width="0.4"/>
<line x1="346.5999999999997" y1="457.4" x2="346.5999999999997" y2="458.4" stroke="#c8c8c8" stroke-width="0.4"/>
<line x1="348.79999999999967" y1="457.4" x2="348.79999999999967" y2="458.4" stroke="#c8c8c8" stroke-width="0.4"/>
<line x1="350.99999999999966" y1="457.4" x2="350.99999999999966" y2="458.4" stroke="#c8c8c8" stroke-width="0.4"/>
<line x1="353.19999999999965" y1="457.4" x2="353.19999999999965" y2="458.4" stroke="#c8c8c8" stroke-width="0.4"/>
<line x1="355.39999999999964" y1="457.4" x2="355.39999999999964" y2="458.4" stroke="#c8c8c8" stroke-width="0.4"/>
<line x1="357.5999999999996" y1="457.4" x2="357.5999999999996" y2="458.4" stroke="#c8c8c8" stroke-width="0.4"/>
<line x1="359.7999999999996" y1="457.4" x2="359.7999999999996" y2="458.4" stroke="#c8c8c8" stroke-width="0.4"/>
<text x="314.2" y="389" font-size="7.8" text-anchor="start" fill="#222">WT</text>
<path d="M298.30,405.00 C299.41,403.38 300.86,402.78 302.98,402.50 C305.10,402.22 308.83,402.90 311.00,403.30 C313.17,403.70 313.29,404.30 316.00,404.90 C318.71,405.50 323.67,406.08 327.25,406.93 C330.83,407.78 335.12,408.82 337.50,410.00 C339.88,411.18 341.42,412.67 341.50,414.00 C341.58,415.33 340.38,416.88 338.00,418.00 C335.62,419.12 331.08,419.83 327.25,420.75 C323.42,421.67 318.21,422.74 315.00,423.50 C311.79,424.26 309.80,424.72 307.99,425.30 C306.18,425.88 305.54,427.18 304.15,427.00 C302.76,426.82 300.90,425.66 299.64,424.20 C298.38,422.74 297.16,420.24 296.60,418.25 C296.04,416.26 296.02,414.46 296.30,412.25 C296.58,410.04 297.19,406.62 298.30,405.00 Z" fill="url(#gtail)" stroke="#0a0a0a" stroke-width="1.9"/>
<ellipse cx="315" cy="415.75" rx="3.5" ry="7.35" fill="#111" stroke="none" stroke-width="1" opacity="0.55" filter="url(#bl)"/>
<path d="M298.30,405.00 C299.41,403.38 301.03,402.75 302.98,402.50 C304.93,402.25 308.33,402.67 310.00,403.50 C311.67,404.33 312.58,405.29 313.00,407.50 C313.42,409.71 313.33,413.83 312.50,416.75 C311.67,419.67 309.38,423.29 307.99,425.00 C306.60,426.71 305.54,427.13 304.15,427.00 C302.76,426.87 300.90,425.66 299.64,424.20 C298.38,422.74 297.16,420.24 296.60,418.25 C296.04,416.26 296.02,414.46 296.30,412.25 C296.58,410.04 297.19,406.62 298.30,405.00 Z" fill="#8c8c8c" stroke="#0a0a0a" stroke-width="0.9"/>
<path d="M298.90,405.76 C299.92,404.26 301.41,403.69 303.21,403.46 C305.00,403.23 308.13,403.61 309.66,404.38 C311.20,405.15 312.04,406.03 312.42,408.06 C312.81,410.09 312.73,413.89 311.96,416.57 C311.20,419.25 309.10,422.59 307.81,424.16 C306.53,425.73 305.56,426.12 304.28,426.00 C303.00,425.88 301.29,424.77 300.13,423.42 C298.98,422.08 297.85,419.78 297.34,417.95 C296.82,416.12 296.80,414.46 297.06,412.43 C297.32,410.40 297.88,407.25 298.90,405.76 Z" fill="none" stroke="#e0e0e0" stroke-width="0.4"/>
<path d="M299.80,406.90 C300.69,405.60 301.98,405.10 303.54,404.90 C305.10,404.70 307.82,405.03 309.16,405.70 C310.50,406.37 311.23,407.13 311.56,408.90 C311.89,410.67 311.83,413.97 311.16,416.30 C310.49,418.63 308.67,421.53 307.55,422.90 C306.44,424.27 305.59,424.61 304.48,424.50 C303.37,424.39 301.88,423.43 300.87,422.26 C299.87,421.09 298.89,419.09 298.44,417.50 C297.99,415.91 297.97,414.47 298.20,412.70 C298.43,410.93 298.91,408.20 299.80,406.90 Z" fill="#ababab" stroke="#0a0a0a" stroke-width="0.9"/>
<path d="M300.40,407.66 C301.20,406.49 302.37,406.04 303.77,405.86 C305.17,405.68 307.62,405.98 308.82,406.58 C310.03,407.18 310.68,407.87 310.98,409.46 C311.28,411.05 311.23,414.02 310.62,416.12 C310.02,418.22 308.38,420.83 307.38,422.06 C306.37,423.29 305.61,423.60 304.61,423.50 C303.61,423.40 302.27,422.53 301.36,421.48 C300.46,420.43 299.58,418.63 299.18,417.20 C298.78,415.77 298.76,414.47 298.96,412.88 C299.16,411.29 299.60,408.83 300.40,407.66 Z" fill="none" stroke="#e0e0e0" stroke-width="0.4"/>
<path d="M301.23,408.70 C301.90,407.71 302.89,407.33 304.08,407.18 C305.27,407.03 307.34,407.28 308.36,407.79 C309.38,408.30 309.94,408.88 310.19,410.23 C310.45,411.58 310.40,414.09 309.89,415.87 C309.38,417.65 307.98,419.86 307.14,420.90 C306.29,421.95 305.64,422.21 304.79,422.12 C303.94,422.04 302.81,421.31 302.04,420.42 C301.27,419.53 300.53,418.00 300.19,416.79 C299.85,415.57 299.83,414.47 300.00,413.13 C300.18,411.78 300.55,409.70 301.23,408.70 Z" fill="#8c8c8c" stroke="#0a0a0a" stroke-width="0.9"/>
<path d="M301.82,409.46 C302.42,408.60 303.27,408.27 304.31,408.14 C305.34,408.01 307.14,408.23 308.03,408.67 C308.91,409.11 309.40,409.62 309.62,410.79 C309.84,411.96 309.79,414.15 309.35,415.69 C308.91,417.24 307.70,419.16 306.96,420.06 C306.22,420.97 305.66,421.20 304.92,421.12 C304.19,421.05 303.20,420.41 302.54,419.64 C301.87,418.87 301.22,417.54 300.92,416.49 C300.63,415.43 300.61,414.48 300.76,413.31 C300.92,412.14 301.23,410.33 301.82,409.46 Z" fill="none" stroke="#e0e0e0" stroke-width="0.4"/>
<path d="M302.57,410.42 C303.05,409.72 303.75,409.45 304.59,409.34 C305.43,409.23 306.89,409.41 307.61,409.77 C308.32,410.13 308.72,410.54 308.90,411.49 C309.08,412.44 309.04,414.21 308.68,415.47 C308.32,416.72 307.34,418.28 306.74,419.01 C306.14,419.75 305.69,419.93 305.09,419.88 C304.49,419.82 303.69,419.30 303.15,418.67 C302.61,418.04 302.08,416.97 301.84,416.11 C301.60,415.26 301.59,414.48 301.72,413.53 C301.84,412.58 302.10,411.11 302.57,410.42 Z" fill="#707070" stroke="#0a0a0a" stroke-width="0.9"/>
<path d="M303.18,411.18 C303.56,410.61 304.13,410.39 304.81,410.30 C305.50,410.21 306.69,410.36 307.27,410.65 C307.85,410.94 308.17,411.28 308.32,412.05 C308.47,412.82 308.44,414.27 308.14,415.29 C307.85,416.31 307.05,417.58 306.57,418.18 C306.08,418.77 305.71,418.92 305.22,418.88 C304.74,418.83 304.08,418.41 303.64,417.89 C303.20,417.38 302.77,416.51 302.58,415.81 C302.39,415.12 302.38,414.49 302.48,413.71 C302.57,412.94 302.79,411.74 303.18,411.18 Z" fill="none" stroke="#e0e0e0" stroke-width="0.4"/>
<path d="M303.85,412.03 C304.14,411.61 304.56,411.44 305.07,411.38 C305.57,411.31 306.46,411.42 306.89,411.64 C307.33,411.86 307.56,412.11 307.67,412.68 C307.78,413.25 307.76,414.33 307.54,415.08 C307.32,415.84 306.73,416.79 306.37,417.23 C306.01,417.67 305.73,417.78 305.37,417.75 C305.01,417.72 304.53,417.40 304.20,417.02 C303.87,416.64 303.55,415.99 303.41,415.48 C303.26,414.96 303.26,414.49 303.33,413.92 C303.40,413.34 303.56,412.45 303.85,412.03 Z" fill="#4a4a4a" stroke="#0a0a0a" stroke-width="0.9"/>
<path d="M304.45,412.79 C304.65,412.50 304.94,412.38 305.29,412.34 C305.64,412.29 306.26,412.37 306.56,412.52 C306.86,412.67 307.02,412.84 307.10,413.24 C307.17,413.64 307.16,414.38 307.01,414.90 C306.86,415.43 306.44,416.08 306.19,416.39 C305.94,416.70 305.75,416.77 305.50,416.75 C305.25,416.73 304.92,416.51 304.69,416.25 C304.46,415.98 304.24,415.53 304.14,415.18 C304.04,414.82 304.04,414.49 304.09,414.10 C304.14,413.70 304.25,413.08 304.45,412.79 Z" fill="none" stroke="#e0e0e0" stroke-width="0.4"/>
<circle cx="305.8" cy="414.5" r="1.6" fill="#111" stroke="none" stroke-width="1"/>
<circle cx="335.47038511700026" cy="418.38646120488187" r="0.4286539177330977" fill="#111" stroke="none" stroke-width="1"/>
<circle cx="339.59063946410805" cy="410.03932561530377" r="0.5939665117819477" fill="#111" stroke="none" stroke-width="1"/>
<circle cx="337.70824876745775" cy="419.5917937504295" r="0.5877408155272071" fill="#111" stroke="none" stroke-width="1"/>
<circle cx="337.65816502249254" cy="417.6716897039106" r="0.5191531863778188" fill="#111" stroke="none" stroke-width="1"/>
<circle cx="343.02023417345885" cy="415.84698462454435" r="0.35147038357007715" fill="#111" stroke="none" stroke-width="1"/>
<circle cx="342.63657557784234" cy="418.17880025400535" r="0.36329385830582617" fill="#111" stroke="none" stroke-width="1"/>
<circle cx="343.12791067837884" cy="409.74124490276046" r="0.6141403750533478" fill="#111" stroke="none" stroke-width="1"/>
<circle cx="342.2980407529716" cy="408.79359211600234" r="0.6024606723762317" fill="#111" stroke="none" stroke-width="1"/>
<circle cx="342.84780701814634" cy="419.04929067521323" r="0.5520604308290507" fill="#111" stroke="none" stroke-width="1"/>
<circle cx="336.0562714627734" cy="420.40514148068564" r="0.5237229257063167" fill="#111" stroke="none" stroke-width="1"/>
<circle cx="333.3680548650326" cy="418.57253853971133" r="0.49185463444075983" fill="#111" stroke="none" stroke-width="1"/>
<circle cx="326.0388064532703" cy="419.93031585571623" r="0.32668592437070304" fill="#111" stroke="none" stroke-width="1"/>
<circle cx="332.0986054953023" cy="420.3691246890026" r="0.3152848745698445" fill="#111" stroke="none" stroke-width="1"/>
<circle cx="321.26829512171656" cy="419.627954694337" r="0.5070148327897075" fill="#111" stroke="none" stroke-width="1"/>
<circle cx="319.1742145937526" cy="418.85954488286336" r="0.3624915202225392" fill="#111" stroke="none" stroke-width="1"/>
<circle cx="328.70751500392623" cy="420.0070866188798" r="0.39843248734790093" fill="#111" stroke="none" stroke-width="1"/>
<rect x="313.2" y="401.3" width="41.19999999999999" height="30.099999999999966" fill="none" stroke="#8a8a8a" stroke-width="0.7" rx="0"/>
<text x="352.9" y="430" font-size="7.6" text-anchor="end" fill="#222">10.5</text>
<text x="278.6" y="400.3" font-size="5.4" text-anchor="end" fill="#333">10<tspan font-size="4.6" dy="-3.5">4</tspan></text>
<text x="278.6" y="422.90000000000003" font-size="5.4" text-anchor="end" fill="#333">10<tspan font-size="4.6" dy="-3.5">3</tspan></text>
<text x="275.6" y="445.0" font-size="5.0" text-anchor="end" fill="#333">0</text>
<line x1="280.4" y1="396.7" x2="282" y2="396.7" stroke="#444" stroke-width="0.6"/>
<line x1="280.4" y1="419.3" x2="282" y2="419.3" stroke="#444" stroke-width="0.6"/>
<line x1="281.5" y1="439.2" x2="281.5" y2="447.2" stroke="#222" stroke-width="1.1" stroke-dasharray="1.2,0.6"/>
<text x="305.1" y="466.59999999999997" font-size="5.0" text-anchor="middle" fill="#333">0</text>
<text x="333.29999999999995" y="466.79999999999995" font-size="5.4" text-anchor="start" fill="#333">10<tspan font-size="4.6" dy="-3.5">3</tspan></text>
<line x1="335.4" y1="457.4" x2="335.4" y2="459.0" stroke="#444" stroke-width="0.6"/>
<rect x="301.6" y="457.09999999999997" width="6.2" height="1.3" fill="#222" stroke="none" stroke-width="1" rx="0"/>
<rect x="375.5" y="376.4" width="80.5" height="81.0" fill="none" stroke="#bdbdbd" stroke-width="0.8" rx="0"/>
<line x1="374.5" y1="379.4" x2="375.5" y2="379.4" stroke="#c8c8c8" stroke-width="0.4"/>
<line x1="374.5" y1="381.59999999999997" x2="375.5" y2="381.59999999999997" stroke="#c8c8c8" stroke-width="0.4"/>
<line x1="374.5" y1="383.79999999999995" x2="375.5" y2="383.79999999999995" stroke="#c8c8c8" stroke-width="0.4"/>
<line x1="374.5" y1="385.99999999999994" x2="375.5" y2="385.99999999999994" stroke="#c8c8c8" stroke-width="0.4"/>
<line x1="374.5" y1="388.19999999999993" x2="375.5" y2="388.19999999999993" stroke="#c8c8c8" stroke-width="0.4"/>
<line x1="374.5" y1="390.3999999999999" x2="375.5" y2="390.3999999999999" stroke="#c8c8c8" stroke-width="0.4"/>
<line x1="374.5" y1="392.5999999999999" x2="375.5" y2="392.5999999999999" stroke="#c8c8c8" stroke-width="0.4"/>
<line x1="374.5" y1="394.7999999999999" x2="375.5" y2="394.7999999999999" stroke="#c8c8c8" stroke-width="0.4"/>
<line x1="374.5" y1="396.9999999999999" x2="375.5" y2="396.9999999999999" stroke="#c8c8c8" stroke-width="0.4"/>
<line x1="374.5" y1="399.1999999999999" x2="375.5" y2="399.1999999999999" stroke="#c8c8c8" stroke-width="0.4"/>
<line x1="374.5" y1="401.39999999999986" x2="375.5" y2="401.39999999999986" stroke="#c8c8c8" stroke-width="0.4"/>
<line x1="374.5" y1="403.59999999999985" x2="375.5" y2="403.59999999999985" stroke="#c8c8c8" stroke-width="0.4"/>
<line x1="374.5" y1="405.79999999999984" x2="375.5" y2="405.79999999999984" stroke="#c8c8c8" stroke-width="0.4"/>
<line x1="374.5" y1="407.99999999999983" x2="375.5" y2="407.99999999999983" stroke="#c8c8c8" stroke-width="0.4"/>
<line x1="374.5" y1="410.1999999999998" x2="375.5" y2="410.1999999999998" stroke="#c8c8c8" stroke-width="0.4"/>
<line x1="374.5" y1="412.3999999999998" x2="375.5" y2="412.3999999999998" stroke="#c8c8c8" stroke-width="0.4"/>
<line x1="374.5" y1="414.5999999999998" x2="375.5" y2="414.5999999999998" stroke="#c8c8c8" stroke-width="0.4"/>
<line x1="374.5" y1="416.7999999999998" x2="375.5" y2="416.7999999999998" stroke="#c8c8c8" stroke-width="0.4"/>
<line x1="374.5" y1="418.9999999999998" x2="375.5" y2="418.9999999999998" stroke="#c8c8c8" stroke-width="0.4"/>
<line x1="374.5" y1="421.19999999999976" x2="375.5" y2="421.19999999999976" stroke="#c8c8c8" stroke-width="0.4"/>
<line x1="374.5" y1="423.39999999999975" x2="375.5" y2="423.39999999999975" stroke="#c8c8c8" stroke-width="0.4"/>
<line x1="374.5" y1="425.59999999999974" x2="375.5" y2="425.59999999999974" stroke="#c8c8c8" stroke-width="0.4"/>
<line x1="374.5" y1="427.7999999999997" x2="375.5" y2="427.7999999999997" stroke="#c8c8c8" stroke-width="0.4"/>
<line x1="374.5" y1="429.9999999999997" x2="375.5" y2="429.9999999999997" stroke="#c8c8c8" stroke-width="0.4"/>
<line x1="374.5" y1="432.1999999999997" x2="375.5" y2="432.1999999999997" stroke="#c8c8c8" stroke-width="0.4"/>
<line x1="374.5" y1="434.3999999999997" x2="375.5" y2="434.3999999999997" stroke="#c8c8c8" stroke-width="0.4"/>
<line x1="374.5" y1="436.5999999999997" x2="375.5" y2="436.5999999999997" stroke="#c8c8c8" stroke-width="0.4"/>
<line x1="374.5" y1="438.79999999999967" x2="375.5" y2="438.79999999999967" stroke="#c8c8c8" stroke-width="0.4"/>
<line x1="374.5" y1="440.99999999999966" x2="375.5" y2="440.99999999999966" stroke="#c8c8c8" stroke-width="0.4"/>
<line x1="374.5" y1="443.19999999999965" x2="375.5" y2="443.19999999999965" stroke="#c8c8c8" stroke-width="0.4"/>
<line x1="374.5" y1="445.39999999999964" x2="375.5" y2="445.39999999999964" stroke="#c8c8c8" stroke-width="0.4"/>
<line x1="374.5" y1="447.5999999999996" x2="375.5" y2="447.5999999999996" stroke="#c8c8c8" stroke-width="0.4"/>
<line x1="374.5" y1="449.7999999999996" x2="375.5" y2="449.7999999999996" stroke="#c8c8c8" stroke-width="0.4"/>
<line x1="374.5" y1="451.9999999999996" x2="375.5" y2="451.9999999999996" stroke="#c8c8c8" stroke-width="0.4"/>
<line x1="374.5" y1="454.1999999999996" x2="375.5" y2="454.1999999999996" stroke="#c8c8c8" stroke-width="0.4"/>
<line x1="378.5" y1="457.4" x2="378.5" y2="458.4" stroke="#c8c8c8" stroke-width="0.4"/>
<line x1="380.7" y1="457.4" x2="380.7" y2="458.4" stroke="#c8c8c8" stroke-width="0.4"/>
<line x1="382.9" y1="457.4" x2="382.9" y2="458.4" stroke="#c8c8c8" stroke-width="0.4"/>
<line x1="385.09999999999997" y1="457.4" x2="385.09999999999997" y2="458.4" stroke="#c8c8c8" stroke-width="0.4"/>
<line x1="387.29999999999995" y1="457.4" x2="387.29999999999995" y2="458.4" stroke="#c8c8c8" stroke-width="0.4"/>
<line x1="389.49999999999994" y1="457.4" x2="389.49999999999994" y2="458.4" stroke="#c8c8c8" stroke-width="0.4"/>
<line x1="391.69999999999993" y1="457.4" x2="391.69999999999993" y2="458.4" stroke="#c8c8c8" stroke-width="0.4"/>
<line x1="393.8999999999999" y1="457.4" x2="393.8999999999999" y2="458.4" stroke="#c8c8c8" stroke-width="0.4"/>
<line x1="396.0999999999999" y1="457.4" x2="396.0999999999999" y2="458.4" stroke="#c8c8c8" stroke-width="0.4"/>
<line x1="398.2999999999999" y1="457.4" x2="398.2999999999999" y2="458.4" stroke="#c8c8c8" stroke-width="0.4"/>
<line x1="400.4999999999999" y1="457.4" x2="400.4999999999999" y2="458.4" stroke="#c8c8c8" stroke-width="0.4"/>
<line x1="402.6999999999999" y1="457.4" x2="402.6999999999999" y2="458.4" stroke="#c8c8c8" stroke-width="0.4"/>
<line x1="404.89999999999986" y1="457.4" x2="404.89999999999986" y2="458.4" stroke="#c8c8c8" stroke-width="0.4"/>
<line x1="407.09999999999985" y1="457.4" x2="407.09999999999985" y2="458.4" stroke="#c8c8c8" stroke-width="0.4"/>
<line x1="409.29999999999984" y1="457.4" x2="409.29999999999984" y2="458.4" stroke="#c8c8c8" stroke-width="0.4"/>
<line x1="411.49999999999983" y1="457.4" x2="411.49999999999983" y2="458.4" stroke="#c8c8c8" stroke-width="0.4"/>
<line x1="413.6999999999998" y1="457.4" x2="413.6999999999998" y2="458.4" stroke="#c8c8c8" stroke-width="0.4"/>
<line x1="415.8999999999998" y1="457.4" x2="415.8999999999998" y2="458.4" stroke="#c8c8c8" stroke-width="0.4"/>
<line x1="418.0999999999998" y1="457.4" x2="418.0999999999998" y2="458.4" stroke="#c8c8c8" stroke-width="0.4"/>
<line x1="420.2999999999998" y1="457.4" x2="420.2999999999998" y2="458.4" stroke="#c8c8c8" stroke-width="0.4"/>
<line x1="422.4999999999998" y1="457.4" x2="422.4999999999998" y2="458.4" stroke="#c8c8c8" stroke-width="0.4"/>
<line x1="424.69999999999976" y1="457.4" x2="424.69999999999976" y2="458.4" stroke="#c8c8c8" stroke-width="0.4"/>
<line x1="426.89999999999975" y1="457.4" x2="426.89999999999975" y2="458.4" stroke="#c8c8c8" stroke-width="0.4"/>
<line x1="429.09999999999974" y1="457.4" x2="429.09999999999974" y2="458.4" stroke="#c8c8c8" stroke-width="0.4"/>
<line x1="431.2999999999997" y1="457.4" x2="431.2999999999997" y2="458.4" stroke="#c8c8c8" stroke-width="0.4"/>
<line x1="433.4999999999997" y1="457.4" x2="433.4999999999997" y2="458.4" stroke="#c8c8c8" stroke-width="0.4"/>
<line x1="435.6999999999997" y1="457.4" x2="435.6999999999997" y2="458.4" stroke="#c8c8c8" stroke-width="0.4"/>
<line x1="437.8999999999997" y1="457.4" x2="437.8999999999997" y2="458.4" stroke="#c8c8c8" stroke-width="0.4"/>
<line x1="440.0999999999997" y1="457.4" x2="440.0999999999997" y2="458.4" stroke="#c8c8c8" stroke-width="0.4"/>
<line x1="442.29999999999967" y1="457.4" x2="442.29999999999967" y2="458.4" stroke="#c8c8c8" stroke-width="0.4"/>
<line x1="444.49999999999966" y1="457.4" x2="444.49999999999966" y2="458.4" stroke="#c8c8c8" stroke-width="0.4"/>
<line x1="446.69999999999965" y1="457.4" x2="446.69999999999965" y2="458.4" stroke="#c8c8c8" stroke-width="0.4"/>
<line x1="448.89999999999964" y1="457.4" x2="448.89999999999964" y2="458.4" stroke="#c8c8c8" stroke-width="0.4"/>
<line x1="451.0999999999996" y1="457.4" x2="451.0999999999996" y2="458.4" stroke="#c8c8c8" stroke-width="0.4"/>
<line x1="453.2999999999996" y1="457.4" x2="453.2999999999996" y2="458.4" stroke="#c8c8c8" stroke-width="0.4"/>
<text x="410.4" y="389.7" font-size="7.8" text-anchor="start" fill="#222">I/A</text>
<path d="M392.00,403.80 C393.13,402.01 394.63,401.58 396.80,401.30 C398.97,401.02 402.80,401.70 405.00,402.10 C407.20,402.50 407.62,403.29 410.00,403.70 C412.38,404.11 416.33,404.17 419.25,404.55 C422.17,404.93 425.46,404.68 427.50,406.00 C429.54,407.32 431.42,410.33 431.50,412.50 C431.58,414.67 430.04,417.48 428.00,419.00 C425.96,420.52 422.42,420.77 419.25,421.65 C416.08,422.53 411.89,423.56 409.00,424.30 C406.11,425.04 403.73,425.52 401.90,426.10 C400.06,426.68 399.41,427.98 397.99,427.80 C396.57,427.62 394.68,426.62 393.40,425.00 C392.12,423.38 390.87,420.21 390.30,418.05 C389.73,415.89 389.72,414.43 390.00,412.05 C390.28,409.68 390.87,405.59 392.00,403.80 Z" fill="url(#gtail)" stroke="#0a0a0a" stroke-width="1.9"/>
<ellipse cx="409" cy="415.55" rx="3.5" ry="7.949999999999999" fill="#111" stroke="none" stroke-width="1" opacity="0.55" filter="url(#bl)"/>
<path d="M392.00,403.80 C393.13,402.01 394.80,401.55 396.80,401.30 C398.80,401.05 402.30,401.47 404.00,402.30 C405.70,403.13 406.58,403.93 407.00,406.30 C407.42,408.68 407.35,413.30 406.50,416.55 C405.65,419.80 403.32,423.93 401.90,425.80 C400.48,427.68 399.41,427.93 397.99,427.80 C396.57,427.67 394.68,426.62 393.40,425.00 C392.12,423.38 390.87,420.21 390.30,418.05 C389.73,415.89 389.72,414.43 390.00,412.05 C390.28,409.68 390.87,405.59 392.00,403.80 Z" fill="#8c8c8c" stroke="#0a0a0a" stroke-width="0.9"/>
<path d="M392.59,404.46 C393.63,402.81 395.17,402.39 397.01,402.16 C398.85,401.93 402.07,402.31 403.63,403.08 C405.20,403.84 406.01,404.57 406.39,406.76 C406.78,408.94 406.71,413.20 405.93,416.19 C405.15,419.18 403.00,422.97 401.70,424.70 C400.40,426.42 399.41,426.66 398.10,426.54 C396.80,426.41 395.06,425.45 393.88,423.96 C392.70,422.46 391.55,419.55 391.03,417.57 C390.51,415.58 390.49,414.23 390.75,412.05 C391.01,409.86 391.55,406.10 392.59,404.46 Z" fill="none" stroke="#e0e0e0" stroke-width="0.4"/>
<path d="M393.48,405.44 C394.39,404.01 395.72,403.64 397.32,403.44 C398.92,403.24 401.72,403.57 403.08,404.24 C404.44,404.91 405.15,405.54 405.48,407.44 C405.81,409.34 405.76,413.04 405.08,415.64 C404.40,418.24 402.53,421.54 401.40,423.04 C400.27,424.54 399.41,424.75 398.27,424.64 C397.14,424.53 395.63,423.70 394.60,422.40 C393.57,421.10 392.57,418.57 392.12,416.84 C391.67,415.11 391.65,413.94 391.88,412.04 C392.11,410.14 392.57,406.87 393.48,405.44 Z" fill="#ababab" stroke="#0a0a0a" stroke-width="0.9"/>
<path d="M394.07,406.10 C394.89,404.81 396.09,404.48 397.53,404.30 C398.97,404.12 401.49,404.42 402.71,405.02 C403.94,405.62 404.57,406.19 404.87,407.90 C405.17,409.61 405.12,412.94 404.51,415.28 C403.90,417.62 402.22,420.59 401.20,421.94 C400.18,423.29 399.40,423.47 398.38,423.38 C397.36,423.28 396.00,422.53 395.08,421.36 C394.16,420.19 393.26,417.91 392.85,416.36 C392.44,414.80 392.43,413.75 392.63,412.04 C392.84,410.33 393.26,407.39 394.07,406.10 Z" fill="none" stroke="#e0e0e0" stroke-width="0.4"/>
<path d="M394.89,407.00 C395.58,405.91 396.59,405.63 397.81,405.47 C399.03,405.32 401.17,405.57 402.21,406.08 C403.24,406.59 403.78,407.07 404.04,408.52 C404.29,409.97 404.25,412.79 403.73,414.78 C403.21,416.76 401.79,419.27 400.92,420.42 C400.06,421.56 399.40,421.72 398.54,421.64 C397.68,421.56 396.52,420.92 395.74,419.93 C394.96,418.94 394.19,417.01 393.85,415.69 C393.50,414.37 393.49,413.48 393.67,412.03 C393.84,410.58 394.19,408.09 394.89,407.00 Z" fill="#8c8c8c" stroke="#0a0a0a" stroke-width="0.9"/>
<path d="M395.48,407.65 C396.08,406.70 396.96,406.46 398.02,406.33 C399.08,406.20 400.94,406.42 401.84,406.86 C402.74,407.30 403.21,407.72 403.43,408.98 C403.65,410.24 403.61,412.69 403.16,414.41 C402.71,416.13 401.48,418.32 400.72,419.31 C399.97,420.31 399.40,420.44 398.65,420.37 C397.90,420.30 396.90,419.75 396.22,418.89 C395.54,418.03 394.88,416.35 394.58,415.21 C394.28,414.06 394.27,413.29 394.42,412.03 C394.57,410.77 394.88,408.60 395.48,407.65 Z" fill="none" stroke="#e0e0e0" stroke-width="0.4"/>
<path d="M396.22,408.47 C396.71,407.70 397.42,407.51 398.28,407.40 C399.14,407.29 400.65,407.47 401.38,407.83 C402.11,408.19 402.49,408.53 402.67,409.55 C402.85,410.57 402.82,412.56 402.45,413.96 C402.09,415.35 401.08,417.13 400.47,417.93 C399.87,418.74 399.40,418.85 398.79,418.79 C398.18,418.74 397.37,418.29 396.82,417.59 C396.27,416.89 395.73,415.53 395.49,414.60 C395.24,413.67 395.24,413.04 395.36,412.02 C395.48,411.00 395.73,409.24 396.22,408.47 Z" fill="#707070" stroke="#0a0a0a" stroke-width="0.9"/>
<path d="M396.81,409.13 C397.21,408.50 397.79,408.34 398.49,408.25 C399.19,408.17 400.41,408.31 401.01,408.61 C401.61,408.90 401.91,409.17 402.06,410.00 C402.21,410.84 402.18,412.46 401.88,413.59 C401.59,414.73 400.77,416.17 400.27,416.83 C399.78,417.49 399.40,417.58 398.91,417.53 C398.41,417.48 397.75,417.12 397.30,416.55 C396.85,415.98 396.41,414.87 396.21,414.12 C396.02,413.36 396.01,412.85 396.11,412.02 C396.21,411.19 396.41,409.76 396.81,409.13 Z" fill="none" stroke="#e0e0e0" stroke-width="0.4"/>
<path d="M397.48,409.87 C397.77,409.40 398.20,409.28 398.72,409.22 C399.24,409.15 400.15,409.26 400.60,409.48 C401.04,409.69 401.27,409.90 401.38,410.52 C401.48,411.14 401.47,412.34 401.25,413.18 C401.02,414.03 400.42,415.10 400.05,415.59 C399.68,416.08 399.40,416.14 399.03,416.11 C398.67,416.07 398.17,415.80 397.84,415.38 C397.51,414.96 397.18,414.13 397.03,413.57 C396.89,413.01 396.88,412.63 396.96,412.01 C397.03,411.40 397.18,410.33 397.48,409.87 Z" fill="#4a4a4a" stroke="#0a0a0a" stroke-width="0.9"/>
<path d="M398.07,410.52 C398.27,410.20 398.57,410.12 398.93,410.07 C399.29,410.03 399.92,410.10 400.23,410.25 C400.53,410.40 400.69,410.55 400.77,410.97 C400.84,411.40 400.83,412.23 400.68,412.82 C400.52,413.40 400.11,414.15 399.85,414.48 C399.59,414.82 399.40,414.87 399.15,414.84 C398.89,414.82 398.55,414.63 398.32,414.34 C398.09,414.05 397.86,413.48 397.76,413.09 C397.66,412.70 397.66,412.44 397.71,412.01 C397.76,411.58 397.86,410.85 398.07,410.52 Z" fill="none" stroke="#e0e0e0" stroke-width="0.4"/>
<circle cx="399.4" cy="412" r="1.6" fill="#111" stroke="none" stroke-width="1"/>
<circle cx="430.50902218226486" cy="411.44119404202985" r="0.4550853451117248" fill="#111" stroke="none" stroke-width="1"/>
<circle cx="430.0269323126973" cy="405.957058519633" r="0.5000928831888678" fill="#111" stroke="none" stroke-width="1"/>
<circle cx="424.75596365459154" cy="411.72454901608114" r="0.5742227002242757" fill="#111" stroke="none" stroke-width="1"/>
<circle cx="432.47410533245596" cy="416.5896669287017" r="0.5768348066057825" fill="#111" stroke="none" stroke-width="1"/>
<circle cx="427.5983697974879" cy="413.54911134017476" r="0.4951162677023737" fill="#111" stroke="none" stroke-width="1"/>
<circle cx="427.8919464624674" cy="420.2045226583795" r="0.3947982195673511" fill="#111" stroke="none" stroke-width="1"/>
<circle cx="433.08932305700625" cy="417.5927091349756" r="0.6249843143641329" fill="#111" stroke="none" stroke-width="1"/>
<circle cx="429.08608811325155" cy="412.25343669774526" r="0.5656731922733156" fill="#111" stroke="none" stroke-width="1"/>
<circle cx="432.2319451772071" cy="409.1787538428673" r="0.409753951012839" fill="#111" stroke="none" stroke-width="1"/>
<circle cx="428.4366355061652" cy="410.00983174785085" r="0.41969155263488955" fill="#111" stroke="none" stroke-width="1"/>
<circle cx="421.85934677025483" cy="421.40685110955735" r="0.37396590834741483" fill="#111" stroke="none" stroke-width="1"/>
<circle cx="422.16466576523203" cy="420.32640136175195" r="0.5134098682265243" fill="#111" stroke="none" stroke-width="1"/>
<circle cx="419.5699386868679" cy="420.0343470407934" r="0.35440121946339925" fill="#111" stroke="none" stroke-width="1"/>
<circle cx="407.4971822631658" cy="420.4589792311802" r="0.39568752572056687" fill="#111" stroke="none" stroke-width="1"/>
<circle cx="410.70332645068027" cy="420.22094071267287" r="0.3805105389702984" fill="#111" stroke="none" stroke-width="1"/>
<circle cx="423.6453978499155" cy="419.7872202607753" r="0.5478044828354415" fill="#111" stroke="none" stroke-width="1"/>
<rect x="406.2" y="401.3" width="41.80000000000001" height="30.69999999999999" fill="none" stroke="#8a8a8a" stroke-width="0.7" rx="0"/>
<text x="443" y="430" font-size="7.6" text-anchor="end" fill="#222">17.6</text>
<text x="372.1" y="400.3" font-size="5.4" text-anchor="end" fill="#333">10<tspan font-size="4.6" dy="-3.5">4</tspan></text>
<text x="372.1" y="422.90000000000003" font-size="5.4" text-anchor="end" fill="#333">10<tspan font-size="4.6" dy="-3.5">3</tspan></text>
<text x="369.1" y="445.0" font-size="5.0" text-anchor="end" fill="#333">0</text>
<line x1="373.9" y1="396.7" x2="375.5" y2="396.7" stroke="#444" stroke-width="0.6"/>
<line x1="373.9" y1="419.3" x2="375.5" y2="419.3" stroke="#444" stroke-width="0.6"/>
<line x1="375.0" y1="439.2" x2="375.0" y2="447.2" stroke="#222" stroke-width="1.1" stroke-dasharray="1.2,0.6"/>
<text x="398.4" y="466.59999999999997" font-size="5.0" text-anchor="middle" fill="#333">0</text>
<text x="426.9" y="466.79999999999995" font-size="5.4" text-anchor="start" fill="#333">10<tspan font-size="4.6" dy="-3.5">3</tspan></text>
<line x1="429" y1="457.4" x2="429" y2="459.0" stroke="#444" stroke-width="0.6"/>
<rect x="394.9" y="457.09999999999997" width="6.2" height="1.3" fill="#222" stroke="none" stroke-width="1" rx="0"/>
<text x="290" y="475" font-size="7.3" text-anchor="start" fill="#222">TNF&#945;</text>
<line x1="312" y1="473.3" x2="435.5" y2="473.3" stroke="#222" stroke-width="0.9"/>
<path d="M439.00,473.30 L435.50,474.90 L435.50,471.70 Z" fill="#222" stroke="none" stroke-width="1"/>
<line x1="487.5" y1="385.1" x2="487.5" y2="463.0" stroke="#111" stroke-width="1"/>
<line x1="485.5" y1="385.6" x2="487.5" y2="385.6" stroke="#222" stroke-width="0.9"/>
<text x="485.1" y="388.1" font-size="7" text-anchor="end" fill="#222">20</text>
<line x1="485.5" y1="405.1" x2="487.5" y2="405.1" stroke="#222" stroke-width="0.9"/>
<text x="485.1" y="407.6" font-size="7" text-anchor="end" fill="#222">15</text>
<line x1="485.5" y1="424.3" x2="487.5" y2="424.3" stroke="#222" stroke-width="0.9"/>
<text x="485.1" y="426.8" font-size="7" text-anchor="end" fill="#222">10</text>
<line x1="485.5" y1="443.8" x2="487.5" y2="443.8" stroke="#222" stroke-width="0.9"/>
<text x="485.1" y="446.3" font-size="7" text-anchor="end" fill="#222">5</text>
<line x1="485.5" y1="462.7" x2="487.5" y2="462.7" stroke="#222" stroke-width="0.9"/>
<text x="485.1" y="465.2" font-size="7" text-anchor="end" fill="#222">0</text>
<rect x="490" y="421" width="11.800000000000011" height="41.5" fill="#fff" stroke="#222" stroke-width="1.25" rx="0"/>
<rect x="505.2" y="399.6" width="12.099999999999966" height="62.89999999999998" fill="#fff" stroke="#d83030" stroke-width="1.25" rx="0"/>
<line x1="487.5" y1="462.5" x2="518.8" y2="462.5" stroke="#111" stroke-width="1"/>
<line x1="495.9" y1="462.5" x2="495.9" y2="464.3" stroke="#222" stroke-width="0.9"/>
<line x1="511.25" y1="462.5" x2="511.25" y2="464.3" stroke="#222" stroke-width="0.9"/>
<path d="M495.4,384.6 V381 H511.4 V384.6" fill="none" stroke="#222" stroke-width="1.0"/>
<circle cx="501.59999999999997" cy="377.8" r="1.15" fill="#111" stroke="none" stroke-width="1"/>
<circle cx="505.2" cy="377.8" r="1.15" fill="#111" stroke="none" stroke-width="1"/>
<text x="495.9" y="472.8" font-size="7.2" text-anchor="middle" fill="#222">WT</text>
<text x="511.25" y="472.8" font-size="7.2" text-anchor="middle" fill="#222">I/A</text>
<text x="505.8" y="367.6" font-size="7.2" text-anchor="middle" fill="#222">TNF&#945;</text>
<text x="470.5" y="423" font-size="7.4" text-anchor="middle" fill="#222" transform="rotate(-90 470.5 423)">TNF&#945;<tspan font-size="4.9" dy="-2.8">+</tspan><tspan dy="2.8"> of 1G4 T cells (%)</tspan></text>
<circle cx="492" cy="421.5" r="1.7" fill="#fff" stroke="#222" stroke-width="1.0"/>
<circle cx="496" cy="419" r="1.7" fill="#fff" stroke="#222" stroke-width="1.0"/>
<circle cx="500" cy="422" r="1.7" fill="#fff" stroke="#222" stroke-width="1.0"/>
<path d="M507,398 L508.9,401.3 L505.1,401.3 Z" fill="#fff" stroke="#d83030" stroke-width="0.9"/>
<path d="M511.5,394.5 L513.3,397.8 L509.7,397.8 Z" fill="#d83030" stroke="#d83030" stroke-width="0.5"/>
<path d="M515.5,398 L517.4,401.3 L513.6,401.3 Z" fill="#fff" stroke="#d83030" stroke-width="0.9"/>
<text x="1.3" y="487.7" font-size="13.4" text-anchor="start" fill="#111" font-weight="bold">G</text>
<text x="11.6" y="499.4" font-size="7.6" text-anchor="start" fill="#222">Gate on CD8<tspan font-size="5.2" dy="-3">+</tspan><tspan dy="3">GFP</tspan><tspan font-size="5.2" dy="-3">+</tspan><tspan dy="3"> T cells</tspan></text>
<text x="106.0" y="499.4" font-size="7.6" text-anchor="start" fill="#222">E:T=10:1</text>
<text x="35.4" y="510.2" font-size="7.5" text-anchor="start" fill="#222">+ K562-A02-NY-ESO-1</text>
<polygon points="12.30,566.60 26.90,566.20 31.50,564.60 35.40,559.20 38.50,551.50 40.80,540.80 42.30,529.20 44.60,527.00 46.90,523.80 49.20,520.80 51.50,525.40 53.80,533.00 56.20,535.40 57.70,534.30 60.00,540.00 63.00,546.20 66.90,551.50 70.00,557.70 74.60,562.30 79.20,565.40 83.80,566.50 90.00,566.60 120.50,566.60" fill="#d4d4d4" stroke="none"/>
<polygon points="25.40,592.30 30.00,591.50 32.30,586.90 35.40,577.70 38.50,566.90 40.80,554.60 43.10,552.30 46.20,551.50 48.50,556.20 50.30,560.80 53.10,570.00 56.20,576.20 60.80,582.30 65.40,586.90 70.00,590.80 74.60,592.30" fill="#f6caca" fill-opacity="0.85" stroke="none"/>
<polyline points="12.30,566.60 26.90,566.20 31.50,564.60 35.40,559.20 38.50,551.50 40.80,540.80 42.30,529.20 44.60,527.00 46.90,523.80 49.20,520.80 51.50,525.40 53.80,533.00 56.20,535.40 57.70,534.30 60.00,540.00 63.00,546.20 66.90,551.50 70.00,557.70 74.60,562.30 79.20,565.40 83.80,566.50 90.00,566.60 120.50,566.60" fill="none" stroke="#111" stroke-width="1.7" stroke-linejoin="round"/>
<polyline points="25.40,592.30 30.00,591.50 32.30,586.90 35.40,577.70 38.50,566.90 40.80,554.60 43.10,552.30 46.20,551.50 48.50,556.20 50.30,560.80 53.10,570.00 56.20,576.20 60.80,582.30 65.40,586.90 70.00,590.80 74.60,592.30" fill="none" stroke="#e0262c" stroke-width="1.7" stroke-linejoin="round"/>
<rect x="12" y="512.5" width="108.6" height="79.5" fill="none" stroke="#9a9a9a" stroke-width="0.8" rx="0"/>
<line x1="12" y1="567" x2="120.6" y2="567" stroke="#555" stroke-width="0.8"/>
<line x1="12" y1="592" x2="120.6" y2="592" stroke="#e0262c" stroke-width="1.0"/>
<line x1="51.3" y1="545.5" x2="105" y2="545.5" stroke="#111" stroke-width="0.9"/>
<line x1="51.3" y1="543.9" x2="51.3" y2="547.1" stroke="#111" stroke-width="0.9"/>
<line x1="105" y1="543.9" x2="105" y2="547.1" stroke="#111" stroke-width="0.9"/>
<line x1="51.3" y1="574.5" x2="105" y2="574.5" stroke="#111" stroke-width="0.9"/>
<line x1="51.3" y1="572.9" x2="51.3" y2="576.1" stroke="#111" stroke-width="0.9"/>
<line x1="105" y1="572.9" x2="105" y2="576.1" stroke="#111" stroke-width="0.9"/>
<text x="81.6" y="553.2" font-size="7.4" text-anchor="middle" fill="#222">49.3</text>
<text x="81.6" y="582.2" font-size="7.4" text-anchor="middle" fill="#222">29.6</text>
<text x="15.1" y="559.7" font-size="7.4" text-anchor="start" fill="#222">WT</text>
<text x="15.1" y="587.5" font-size="7.4" text-anchor="start" fill="#222">I/A</text>
<text x="7.4" y="564.2" font-size="7.45" text-anchor="middle" fill="#3a3a3a" transform="rotate(-90 7.4 564.2)">Normalized</text>
<text x="31.3" y="599.8" font-size="5" text-anchor="middle" fill="#333">0</text>
<text x="75.0" y="599.8" font-size="5" text-anchor="middle" fill="#333">10<tspan font-size="4.2" dy="-3.2">3</tspan></text>
<text x="96.2" y="599.8" font-size="5" text-anchor="middle" fill="#333">10<tspan font-size="4.2" dy="-3.2">4</tspan></text>
<line x1="15" y1="592" x2="15" y2="593" stroke="#999" stroke-width="0.4"/>
<line x1="18" y1="592" x2="18" y2="593" stroke="#999" stroke-width="0.4"/>
<line x1="21" y1="592" x2="21" y2="593" stroke="#999" stroke-width="0.4"/>
<line x1="24" y1="592" x2="24" y2="593" stroke="#999" stroke-width="0.4"/>
<line x1="27" y1="592" x2="27" y2="593" stroke="#999" stroke-width="0.4"/>
<line x1="30" y1="592" x2="30" y2="593" stroke="#999" stroke-width="0.4"/>
<line x1="33" y1="592" x2="33" y2="593" stroke="#999" stroke-width="0.4"/>
<line x1="36" y1="592" x2="36" y2="593" stroke="#999" stroke-width="0.4"/>
<line x1="39" y1="592" x2="39" y2="593" stroke="#999" stroke-width="0.4"/>
<line x1="42" y1="592" x2="42" y2="593" stroke="#999" stroke-width="0.4"/>
<line x1="45" y1="592" x2="45" y2="593" stroke="#999" stroke-width="0.4"/>
<line x1="48" y1="592" x2="48" y2="593" stroke="#999" stroke-width="0.4"/>
<line x1="51" y1="592" x2="51" y2="593" stroke="#999" stroke-width="0.4"/>
<line x1="54" y1="592" x2="54" y2="593" stroke="#999" stroke-width="0.4"/>
<line x1="57" y1="592" x2="57" y2="593" stroke="#999" stroke-width="0.4"/>
<line x1="60" y1="592" x2="60" y2="593" stroke="#999" stroke-width="0.4"/>
<line x1="63" y1="592" x2="63" y2="593" stroke="#999" stroke-width="0.4"/>
<line x1="66" y1="592" x2="66" y2="593" stroke="#999" stroke-width="0.4"/>
<line x1="69" y1="592" x2="69" y2="593" stroke="#999" stroke-width="0.4"/>
<line x1="72" y1="592" x2="72" y2="593" stroke="#999" stroke-width="0.4"/>
<line x1="75" y1="592" x2="75" y2="593" stroke="#999" stroke-width="0.4"/>
<line x1="78" y1="592" x2="78" y2="593" stroke="#999" stroke-width="0.4"/>
<line x1="81" y1="592" x2="81" y2="593" stroke="#999" stroke-width="0.4"/>
<line x1="84" y1="592" x2="84" y2="593" stroke="#999" stroke-width="0.4"/>
<line x1="87" y1="592" x2="87" y2="593" stroke="#999" stroke-width="0.4"/>
<line x1="90" y1="592" x2="90" y2="593" stroke="#999" stroke-width="0.4"/>
<line x1="93" y1="592" x2="93" y2="593" stroke="#999" stroke-width="0.4"/>
<line x1="96" y1="592" x2="96" y2="593" stroke="#999" stroke-width="0.4"/>
<line x1="99" y1="592" x2="99" y2="593" stroke="#999" stroke-width="0.4"/>
<line x1="102" y1="592" x2="102" y2="593" stroke="#999" stroke-width="0.4"/>
<line x1="105" y1="592" x2="105" y2="593" stroke="#999" stroke-width="0.4"/>
<line x1="108" y1="592" x2="108" y2="593" stroke="#999" stroke-width="0.4"/>
<line x1="111" y1="592" x2="111" y2="593" stroke="#999" stroke-width="0.4"/>
<line x1="114" y1="592" x2="114" y2="593" stroke="#999" stroke-width="0.4"/>
<line x1="117" y1="592" x2="117" y2="593" stroke="#999" stroke-width="0.4"/>
<circle cx="31.3" cy="592.5" r="0.9" fill="#111" stroke="none" stroke-width="1"/>
<text x="8" y="608.3" font-size="7.3" text-anchor="start" fill="#222">LAG-3</text>
<line x1="29.8" y1="607.1" x2="118.0" y2="607.1" stroke="#222" stroke-width="0.9"/>
<path d="M121.20,607.10 L118.00,608.60 L118.00,605.60 Z" fill="#222" stroke="none" stroke-width="1"/>
<text x="200.8" y="487.7" font-size="13.4" text-anchor="start" fill="#111" font-weight="bold">H</text>
<text x="214.6" y="499.4" font-size="7.6" text-anchor="start" fill="#222">Gate on CD8<tspan font-size="5.2" dy="-3">+</tspan><tspan dy="3">GFP</tspan><tspan font-size="5.2" dy="-3">+</tspan><tspan dy="3"> T cells</tspan></text>
<text x="307.5" y="499.4" font-size="7.6" text-anchor="start" fill="#222">E:T=10:1</text>
<text x="239.2" y="510.6" font-size="7.5" text-anchor="start" fill="#222">+ K562-A02-NY-ESO-1</text>
<polygon points="214.50,568.00 228.75,567.50 235.00,563.75 240.00,558.75 243.75,550.00 246.25,541.25 249.50,535.00 252.00,531.25 253.75,528.00 256.25,526.25 258.25,531.25 260.00,529.50 262.50,533.75 264.50,532.50 267.50,541.25 271.25,550.00 275.00,558.75 280.00,565.00 287.50,567.50 323.70,568.00" fill="#d4d4d4" stroke="none"/>
<polygon points="235.00,594.50 240.00,590.00 243.75,580.00 246.25,567.50 248.75,557.50 250.50,555.00 253.75,560.00 255.50,556.00 257.50,554.50 260.00,560.00 263.75,573.75 267.50,582.50 272.50,588.75 278.75,593.75 287.50,594.50" fill="#f6caca" fill-opacity="0.85" stroke="none"/>
<polyline points="214.50,568.00 228.75,567.50 235.00,563.75 240.00,558.75 243.75,550.00 246.25,541.25 249.50,535.00 252.00,531.25 253.75,528.00 256.25,526.25 258.25,531.25 260.00,529.50 262.50,533.75 264.50,532.50 267.50,541.25 271.25,550.00 275.00,558.75 280.00,565.00 287.50,567.50 323.70,568.00" fill="none" stroke="#111" stroke-width="1.7" stroke-linejoin="round"/>
<polyline points="235.00,594.50 240.00,590.00 243.75,580.00 246.25,567.50 248.75,557.50 250.50,555.00 253.75,560.00 255.50,556.00 257.50,554.50 260.00,560.00 263.75,573.75 267.50,582.50 272.50,588.75 278.75,593.75 287.50,594.50" fill="none" stroke="#e0262c" stroke-width="1.7" stroke-linejoin="round"/>
<rect x="214.5" y="513.8" width="109.19999999999999" height="81.20000000000005" fill="none" stroke="#9a9a9a" stroke-width="0.8" rx="0"/>
<line x1="214.5" y1="567.5" x2="323.7" y2="567.5" stroke="#555" stroke-width="0.8"/>
<line x1="214.5" y1="595" x2="323.7" y2="595" stroke="#e0262c" stroke-width="1.0"/>
<line x1="266.3" y1="549.3" x2="320.5" y2="549.3" stroke="#111" stroke-width="0.9"/>
<line x1="266.3" y1="547.6999999999999" x2="266.3" y2="550.9" stroke="#111" stroke-width="0.9"/>
<line x1="320.5" y1="547.6999999999999" x2="320.5" y2="550.9" stroke="#111" stroke-width="0.9"/>
<line x1="267" y1="580.5" x2="320.5" y2="580.5" stroke="#111" stroke-width="0.9"/>
<line x1="267" y1="578.9" x2="267" y2="582.1" stroke="#111" stroke-width="0.9"/>
<line x1="320.5" y1="578.9" x2="320.5" y2="582.1" stroke="#111" stroke-width="0.9"/>
<text x="296" y="557.6" font-size="7.4" text-anchor="middle" fill="#222">20.1</text>
<text x="296.8" y="590.2" font-size="7.4" text-anchor="middle" fill="#222">11.6</text>
<text x="216.6" y="560" font-size="7.4" text-anchor="start" fill="#222">WT</text>
<text x="216.6" y="587.6" font-size="7.4" text-anchor="start" fill="#222">I/A</text>
<text x="209.6" y="564.2" font-size="7.45" text-anchor="middle" fill="#3a3a3a" transform="rotate(-90 209.6 564.2)">Normalized</text>
<text x="236.5" y="601.8" font-size="5" text-anchor="middle" fill="#333">0</text>
<text x="296.2" y="601.8" font-size="5" text-anchor="middle" fill="#333">10<tspan font-size="4.2" dy="-3.2">3</tspan></text>
<line x1="217.5" y1="595" x2="217.5" y2="596" stroke="#999" stroke-width="0.4"/>
<line x1="220.5" y1="595" x2="220.5" y2="596" stroke="#999" stroke-width="0.4"/>
<line x1="223.5" y1="595" x2="223.5" y2="596" stroke="#999" stroke-width="0.4"/>
<line x1="226.5" y1="595" x2="226.5" y2="596" stroke="#999" stroke-width="0.4"/>
<line x1="229.5" y1="595" x2="229.5" y2="596" stroke="#999" stroke-width="0.4"/>
<line x1="232.5" y1="595" x2="232.5" y2="596" stroke="#999" stroke-width="0.4"/>
<line x1="235.5" y1="595" x2="235.5" y2="596" stroke="#999" stroke-width="0.4"/>
<line x1="238.5" y1="595" x2="238.5" y2="596" stroke="#999" stroke-width="0.4"/>
<line x1="241.5" y1="595" x2="241.5" y2="596" stroke="#999" stroke-width="0.4"/>
<line x1="244.5" y1="595" x2="244.5" y2="596" stroke="#999" stroke-width="0.4"/>
<line x1="247.5" y1="595" x2="247.5" y2="596" stroke="#999" stroke-width="0.4"/>
<line x1="250.5" y1="595" x2="250.5" y2="596" stroke="#999" stroke-width="0.4"/>
<line x1="253.5" y1="595" x2="253.5" y2="596" stroke="#999" stroke-width="0.4"/>
<line x1="256.5" y1="595" x2="256.5" y2="596" stroke="#999" stroke-width="0.4"/>
<line x1="259.5" y1="595" x2="259.5" y2="596" stroke="#999" stroke-width="0.4"/>
<line x1="262.5" y1="595" x2="262.5" y2="596" stroke="#999" stroke-width="0.4"/>
<line x1="265.5" y1="595" x2="265.5" y2="596" stroke="#999" stroke-width="0.4"/>
<line x1="268.5" y1="595" x2="268.5" y2="596" stroke="#999" stroke-width="0.4"/>
<line x1="271.5" y1="595" x2="271.5" y2="596" stroke="#999" stroke-width="0.4"/>
<line x1="274.5" y1="595" x2="274.5" y2="596" stroke="#999" stroke-width="0.4"/>
<line x1="277.5" y1="595" x2="277.5" y2="596" stroke="#999" stroke-width="0.4"/>
<line x1="280.5" y1="595" x2="280.5" y2="596" stroke="#999" stroke-width="0.4"/>
<line x1="283.5" y1="595" x2="283.5" y2="596" stroke="#999" stroke-width="0.4"/>
<line x1="286.5" y1="595" x2="286.5" y2="596" stroke="#999" stroke-width="0.4"/>
<line x1="289.5" y1="595" x2="289.5" y2="596" stroke="#999" stroke-width="0.4"/>
<line x1="292.5" y1="595" x2="292.5" y2="596" stroke="#999" stroke-width="0.4"/>
<line x1="295.5" y1="595" x2="295.5" y2="596" stroke="#999" stroke-width="0.4"/>
<line x1="298.5" y1="595" x2="298.5" y2="596" stroke="#999" stroke-width="0.4"/>
<line x1="301.5" y1="595" x2="301.5" y2="596" stroke="#999" stroke-width="0.4"/>
<line x1="304.5" y1="595" x2="304.5" y2="596" stroke="#999" stroke-width="0.4"/>
<line x1="307.5" y1="595" x2="307.5" y2="596" stroke="#999" stroke-width="0.4"/>
<line x1="310.5" y1="595" x2="310.5" y2="596" stroke="#999" stroke-width="0.4"/>
<line x1="313.5" y1="595" x2="313.5" y2="596" stroke="#999" stroke-width="0.4"/>
<line x1="316.5" y1="595" x2="316.5" y2="596" stroke="#999" stroke-width="0.4"/>
<line x1="319.5" y1="595" x2="319.5" y2="596" stroke="#999" stroke-width="0.4"/>
<circle cx="236.5" cy="595.5" r="0.9" fill="#111" stroke="none" stroke-width="1"/>
<text x="214" y="608.5" font-size="7.3" text-anchor="start" fill="#222">TIM-3</text>
<line x1="232.8" y1="606.5" x2="319.8" y2="606.5" stroke="#222" stroke-width="0.9"/>
<path d="M323.00,606.50 L319.80,608.00 L319.80,605.00 Z" fill="#222" stroke="none" stroke-width="1"/>
<line x1="152.5" y1="524.1" x2="152.5" y2="592.0" stroke="#111" stroke-width="1"/>
<line x1="150.5" y1="524.6" x2="152.5" y2="524.6" stroke="#222" stroke-width="0.9"/>
<text x="150.1" y="527.1" font-size="7" text-anchor="end" fill="#222">55</text>
<line x1="150.5" y1="538" x2="152.5" y2="538" stroke="#222" stroke-width="0.9"/>
<text x="150.1" y="540.5" font-size="7" text-anchor="end" fill="#222">44</text>
<line x1="150.5" y1="551.5" x2="152.5" y2="551.5" stroke="#222" stroke-width="0.9"/>
<text x="150.1" y="554.0" font-size="7" text-anchor="end" fill="#222">33</text>
<line x1="150.5" y1="565" x2="152.5" y2="565" stroke="#222" stroke-width="0.9"/>
<text x="150.1" y="567.5" font-size="7" text-anchor="end" fill="#222">22</text>
<line x1="150.5" y1="578.5" x2="152.5" y2="578.5" stroke="#222" stroke-width="0.9"/>
<text x="150.1" y="581.0" font-size="7" text-anchor="end" fill="#222">11</text>
<line x1="150.5" y1="591.3" x2="152.5" y2="591.3" stroke="#222" stroke-width="0.9"/>
<text x="150.1" y="593.8" font-size="7" text-anchor="end" fill="#222">0</text>
<rect x="155.8" y="532.3" width="11.099999999999994" height="59.200000000000045" fill="#fff" stroke="#222" stroke-width="1.25" rx="0"/>
<rect x="170.8" y="553.5" width="10.899999999999977" height="38.0" fill="#fff" stroke="#d83030" stroke-width="1.25" rx="0"/>
<line x1="152.5" y1="591.5" x2="183.2" y2="591.5" stroke="#111" stroke-width="1"/>
<line x1="161.35000000000002" y1="591.5" x2="161.35000000000002" y2="593.3" stroke="#222" stroke-width="0.9"/>
<line x1="176.25" y1="591.5" x2="176.25" y2="593.3" stroke="#222" stroke-width="0.9"/>
<path d="M161.2,525.6 V522 H176.5 V525.6" fill="none" stroke="#222" stroke-width="1.0"/>
<circle cx="163.45" cy="518.8" r="1.15" fill="#111" stroke="none" stroke-width="1"/>
<circle cx="167.04999999999998" cy="518.8" r="1.15" fill="#111" stroke="none" stroke-width="1"/>
<circle cx="170.65" cy="518.8" r="1.15" fill="#111" stroke="none" stroke-width="1"/>
<circle cx="174.25" cy="518.8" r="1.15" fill="#111" stroke="none" stroke-width="1"/>
<text x="161.35000000000002" y="601" font-size="7.2" text-anchor="middle" fill="#222">WT</text>
<text x="176.25" y="601" font-size="7.2" text-anchor="middle" fill="#222">I/A</text>
<text x="165.6" y="505.8" font-size="7.2" text-anchor="middle" fill="#222">LAG-3</text>
<text x="134.3" y="556.5" font-size="7.4" text-anchor="middle" fill="#222" transform="rotate(-90 134.3 556.5)">LAG-3<tspan font-size="4.9" dy="-2.8">+</tspan><tspan dy="2.8"> of 1G4 T cell (%)</tspan></text>
<circle cx="158" cy="533.5" r="1.7" fill="#fff" stroke="#222" stroke-width="1.0"/>
<circle cx="161.5" cy="531.5" r="1.7" fill="#fff" stroke="#222" stroke-width="1.0"/>
<circle cx="165" cy="532.5" r="1.7" fill="#fff" stroke="#222" stroke-width="1.0"/>
<path d="M172.5,552 L174.4,555.3 L170.6,555.3 Z" fill="#fff" stroke="#d83030" stroke-width="0.9"/>
<path d="M176.5,551 L178.4,554.3 L174.6,554.3 Z" fill="#fff" stroke="#d83030" stroke-width="0.9"/>
<path d="M180,552 L181.9,555.3 L178.1,555.3 Z" fill="#fff" stroke="#d83030" stroke-width="0.9"/>
<path d="M173,554 L174.9,557.3 L171.1,557.3 Z" fill="#fff" stroke="#d83030" stroke-width="0.9"/>
<line x1="355.5" y1="524.5" x2="355.5" y2="592.0" stroke="#111" stroke-width="1"/>
<line x1="353.5" y1="525" x2="355.5" y2="525" stroke="#222" stroke-width="0.9"/>
<text x="353.1" y="527.5" font-size="7" text-anchor="end" fill="#222">25</text>
<line x1="353.5" y1="538.2" x2="355.5" y2="538.2" stroke="#222" stroke-width="0.9"/>
<text x="353.1" y="540.7" font-size="7" text-anchor="end" fill="#222">20</text>
<line x1="353.5" y1="551.5" x2="355.5" y2="551.5" stroke="#222" stroke-width="0.9"/>
<text x="353.1" y="554.0" font-size="7" text-anchor="end" fill="#222">15</text>
<line x1="353.5" y1="564.7" x2="355.5" y2="564.7" stroke="#222" stroke-width="0.9"/>
<text x="353.1" y="567.2" font-size="7" text-anchor="end" fill="#222">10</text>
<line x1="353.5" y1="578" x2="355.5" y2="578" stroke="#222" stroke-width="0.9"/>
<text x="353.1" y="580.5" font-size="7" text-anchor="end" fill="#222">5</text>
<line x1="353.5" y1="591.25" x2="355.5" y2="591.25" stroke="#222" stroke-width="0.9"/>
<text x="353.1" y="593.75" font-size="7" text-anchor="end" fill="#222">0</text>
<rect x="360.5" y="540.5" width="10.800000000000011" height="51.0" fill="#fff" stroke="#222" stroke-width="1.25" rx="0"/>
<rect x="375.5" y="555.5" width="10.800000000000011" height="36.0" fill="#fff" stroke="#d83030" stroke-width="1.25" rx="0"/>
<line x1="355.5" y1="591.5" x2="387.8" y2="591.5" stroke="#111" stroke-width="1"/>
<line x1="365.9" y1="591.5" x2="365.9" y2="593.3" stroke="#222" stroke-width="0.9"/>
<line x1="380.9" y1="591.5" x2="380.9" y2="593.3" stroke="#222" stroke-width="0.9"/>
<path d="M365,526.9 V523.3 H380.5 V526.9" fill="none" stroke="#222" stroke-width="1.0"/>
<circle cx="372.75" cy="520.0999999999999" r="1.15" fill="#111" stroke="none" stroke-width="1"/>
<text x="365.9" y="600" font-size="7.2" text-anchor="middle" fill="#222">WT</text>
<text x="380.9" y="600" font-size="7.2" text-anchor="middle" fill="#222">I/A</text>
<text x="369.8" y="510" font-size="7.2" text-anchor="middle" fill="#222">TIM-3</text>
<text x="340.2" y="557" font-size="7.4" text-anchor="middle" fill="#222" transform="rotate(-90 340.2 557)">TIM-3<tspan font-size="4.9" dy="-2.8">+</tspan><tspan dy="2.8"> of 1G4 T cell (%)</tspan></text>
<circle cx="365.5" cy="535.8" r="1.7" fill="#fff" stroke="#222" stroke-width="1.0"/>
<circle cx="369.5" cy="536.3" r="1.7" fill="#fff" stroke="#222" stroke-width="1.0"/>
<circle cx="365" cy="547.5" r="1.7" fill="#fff" stroke="#222" stroke-width="1.0"/>
<line x1="367.5" y1="540.5" x2="367.5" y2="536.5" stroke="#222" stroke-width="0.8"/>
<line x1="366.3" y1="536.5" x2="368.7" y2="536.5" stroke="#222" stroke-width="0.8"/>
<path d="M377.5,550 L379.4,553.3 L375.6,553.3 Z" fill="#fff" stroke="#d83030" stroke-width="0.9"/>
<path d="M383.8,551 L385.7,554.3 L381.90000000000003,554.3 Z" fill="#fff" stroke="#d83030" stroke-width="0.9"/>
<path d="M381.3,558 L383.2,561.3 L379.40000000000003,561.3 Z" fill="#fff" stroke="#d83030" stroke-width="0.9"/>
<line x1="381" y1="555.5" x2="381" y2="551.5" stroke="#d83030" stroke-width="0.8"/>
<line x1="379.8" y1="551.5" x2="382.2" y2="551.5" stroke="#d83030" stroke-width="0.8"/>
<text x="3.2" y="627.2" font-size="13.4" text-anchor="start" fill="#111" font-weight="bold">I</text>
<text x="41.3" y="631.4" font-size="7.45" text-anchor="start" fill="#222">1G4 TCR-T + A375-NY-ESO-1</text>
<text x="146.2" y="631.4" font-size="7.6" text-anchor="start" fill="#222">E:T=10:1</text>
<rect x="22.2" y="637.8" width="82.3" height="82.70000000000005" fill="none" stroke="#bdbdbd" stroke-width="0.8" rx="0"/>
<line x1="21.2" y1="640.8" x2="22.2" y2="640.8" stroke="#aaa" stroke-width="0.4"/>
<line x1="21.2" y1="643.1999999999999" x2="22.2" y2="643.1999999999999" stroke="#aaa" stroke-width="0.4"/>
<line x1="21.2" y1="645.5999999999999" x2="22.2" y2="645.5999999999999" stroke="#aaa" stroke-width="0.4"/>
<line x1="21.2" y1="647.9999999999999" x2="22.2" y2="647.9999999999999" stroke="#aaa" stroke-width="0.4"/>
<line x1="21.2" y1="650.3999999999999" x2="22.2" y2="650.3999999999999" stroke="#aaa" stroke-width="0.4"/>
<line x1="21.2" y1="652.7999999999998" x2="22.2" y2="652.7999999999998" stroke="#aaa" stroke-width="0.4"/>
<line x1="21.2" y1="655.1999999999998" x2="22.2" y2="655.1999999999998" stroke="#aaa" stroke-width="0.4"/>
<line x1="21.2" y1="657.5999999999998" x2="22.2" y2="657.5999999999998" stroke="#aaa" stroke-width="0.4"/>
<line x1="21.2" y1="659.9999999999998" x2="22.2" y2="659.9999999999998" stroke="#aaa" stroke-width="0.4"/>
<line x1="21.2" y1="662.3999999999997" x2="22.2" y2="662.3999999999997" stroke="#aaa" stroke-width="0.4"/>
<line x1="21.2" y1="664.7999999999997" x2="22.2" y2="664.7999999999997" stroke="#aaa" stroke-width="0.4"/>
<line x1="21.2" y1="667.1999999999997" x2="22.2" y2="667.1999999999997" stroke="#aaa" stroke-width="0.4"/>
<line x1="21.2" y1="669.5999999999997" x2="22.2" y2="669.5999999999997" stroke="#aaa" stroke-width="0.4"/>
<line x1="21.2" y1="671.9999999999997" x2="22.2" y2="671.9999999999997" stroke="#aaa" stroke-width="0.4"/>
<line x1="21.2" y1="674.3999999999996" x2="22.2" y2="674.3999999999996" stroke="#aaa" stroke-width="0.4"/>
<line x1="21.2" y1="676.7999999999996" x2="22.2" y2="676.7999999999996" stroke="#aaa" stroke-width="0.4"/>
<line x1="21.2" y1="679.1999999999996" x2="22.2" y2="679.1999999999996" stroke="#aaa" stroke-width="0.4"/>
<line x1="21.2" y1="681.5999999999996" x2="22.2" y2="681.5999999999996" stroke="#aaa" stroke-width="0.4"/>
<line x1="21.2" y1="683.9999999999995" x2="22.2" y2="683.9999999999995" stroke="#aaa" stroke-width="0.4"/>
<line x1="21.2" y1="686.3999999999995" x2="22.2" y2="686.3999999999995" stroke="#aaa" stroke-width="0.4"/>
<line x1="21.2" y1="688.7999999999995" x2="22.2" y2="688.7999999999995" stroke="#aaa" stroke-width="0.4"/>
<line x1="21.2" y1="691.1999999999995" x2="22.2" y2="691.1999999999995" stroke="#aaa" stroke-width="0.4"/>
<line x1="21.2" y1="693.5999999999995" x2="22.2" y2="693.5999999999995" stroke="#aaa" stroke-width="0.4"/>
<line x1="21.2" y1="695.9999999999994" x2="22.2" y2="695.9999999999994" stroke="#aaa" stroke-width="0.4"/>
<line x1="21.2" y1="698.3999999999994" x2="22.2" y2="698.3999999999994" stroke="#aaa" stroke-width="0.4"/>
<line x1="21.2" y1="700.7999999999994" x2="22.2" y2="700.7999999999994" stroke="#aaa" stroke-width="0.4"/>
<line x1="21.2" y1="703.1999999999994" x2="22.2" y2="703.1999999999994" stroke="#aaa" stroke-width="0.4"/>
<line x1="21.2" y1="705.5999999999993" x2="22.2" y2="705.5999999999993" stroke="#aaa" stroke-width="0.4"/>
<line x1="21.2" y1="707.9999999999993" x2="22.2" y2="707.9999999999993" stroke="#aaa" stroke-width="0.4"/>
<line x1="21.2" y1="710.3999999999993" x2="22.2" y2="710.3999999999993" stroke="#aaa" stroke-width="0.4"/>
<line x1="21.2" y1="712.7999999999993" x2="22.2" y2="712.7999999999993" stroke="#aaa" stroke-width="0.4"/>
<line x1="21.2" y1="715.1999999999992" x2="22.2" y2="715.1999999999992" stroke="#aaa" stroke-width="0.4"/>
<line x1="21.2" y1="717.5999999999992" x2="22.2" y2="717.5999999999992" stroke="#aaa" stroke-width="0.4"/>
<path d="M39.50,682.00 C39.83,680.83 40.25,680.20 41.00,680.00 C41.75,679.80 43.17,680.87 44.00,680.80 C44.83,680.73 45.23,679.70 46.00,679.60 C46.77,679.50 47.77,679.70 48.60,680.20 C49.43,680.70 50.27,682.37 51.00,682.60 C51.73,682.83 52.25,681.53 53.00,681.60 C53.75,681.67 54.73,682.90 55.50,683.00 C56.27,683.10 56.85,682.03 57.60,682.20 C58.35,682.37 59.18,683.77 60.00,684.00 C60.82,684.23 61.67,683.35 62.50,683.60 C63.33,683.85 63.92,685.07 65.00,685.50 C66.08,685.93 67.83,685.78 69.00,686.20 C70.17,686.62 70.90,687.60 72.00,688.00 C73.10,688.40 74.77,688.03 75.60,688.60 C76.43,689.17 76.43,691.07 77.00,691.40 C77.57,691.73 78.15,691.07 79.00,690.60 C79.85,690.13 81.10,689.13 82.10,688.60 C83.10,688.07 83.92,688.13 85.00,687.40 C86.08,686.67 87.60,684.93 88.60,684.20 C89.60,683.47 90.27,683.62 91.00,683.00 C91.73,682.38 92.30,681.12 93.00,680.50 C93.70,679.88 94.53,679.22 95.20,679.30 C95.87,679.38 96.78,675.78 97.00,681.00 C97.22,686.22 97.00,704.67 96.50,710.60 C96.00,716.53 95.42,715.27 94.00,716.60 C92.58,717.93 92.29,718.22 88.00,718.60 C83.71,718.98 75.50,718.90 68.25,718.90 C61.00,718.90 49.12,719.15 44.50,718.60 C39.88,718.05 41.47,717.60 40.50,715.60 C39.53,713.60 38.95,711.37 38.70,706.60 C38.45,701.83 38.87,691.10 39.00,687.00 C39.13,682.90 39.17,683.17 39.50,682.00 Z" fill="url(#giw)" stroke="#111" stroke-width="0.9"/>
<path d="M42.95,685.91 C43.24,684.89 43.61,684.33 44.27,684.15 C44.93,683.98 46.18,684.91 46.91,684.86 C47.64,684.80 48.00,683.89 48.67,683.80 C49.34,683.71 50.22,683.89 50.96,684.33 C51.69,684.77 52.42,686.23 53.07,686.44 C53.72,686.65 54.17,685.50 54.83,685.56 C55.49,685.62 56.36,686.70 57.03,686.79 C57.70,686.88 58.22,685.94 58.88,686.09 C59.54,686.23 60.27,687.47 60.99,687.67 C61.71,687.88 62.46,687.10 63.19,687.32 C63.92,687.54 64.44,688.61 65.39,688.99 C66.34,689.37 67.88,689.24 68.91,689.61 C69.94,689.97 70.58,690.84 71.55,691.19 C72.52,691.54 73.98,691.22 74.72,691.72 C75.45,692.22 75.45,693.89 75.95,694.18 C76.45,694.48 76.96,693.89 77.71,693.48 C78.46,693.07 79.56,692.19 80.44,691.72 C81.32,691.25 82.04,691.31 82.99,690.66 C83.94,690.02 85.28,688.49 86.16,687.85 C87.04,687.20 87.62,687.33 88.27,686.79 C88.92,686.25 89.41,685.13 90.03,684.59 C90.65,684.05 91.38,683.46 91.97,683.54 C92.55,683.61 93.36,680.44 93.55,685.03 C93.74,689.62 93.55,705.86 93.11,711.08 C92.67,716.30 92.16,715.19 90.91,716.36 C89.66,717.53 89.41,717.78 85.63,718.12 C81.85,718.46 74.63,718.38 68.25,718.38 C61.87,718.38 51.42,718.60 47.35,718.12 C43.28,717.64 44.68,717.24 43.83,715.48 C42.98,713.72 42.47,711.75 42.25,707.56 C42.03,703.37 42.39,693.92 42.51,690.31 C42.63,686.70 42.66,686.94 42.95,685.91 Z" fill="none" stroke="#f0f0f0" stroke-width="0.7"/>
<path d="M44.39,687.54 C44.66,686.57 45.01,686.05 45.63,685.88 C46.26,685.72 47.43,686.60 48.12,686.55 C48.81,686.49 49.15,685.63 49.78,685.55 C50.42,685.47 51.25,685.63 51.94,686.05 C52.63,686.46 53.32,687.85 53.93,688.04 C54.54,688.23 54.97,687.15 55.59,687.21 C56.22,687.27 57.03,688.29 57.67,688.37 C58.30,688.45 58.79,687.57 59.41,687.71 C60.03,687.85 60.72,689.01 61.40,689.20 C62.08,689.40 62.79,688.66 63.48,688.87 C64.17,689.08 64.65,690.09 65.55,690.45 C66.45,690.81 67.90,690.68 68.87,691.03 C69.84,691.37 70.45,692.19 71.36,692.52 C72.28,692.85 73.66,692.55 74.35,693.02 C75.04,693.49 75.04,695.07 75.51,695.34 C75.98,695.62 76.47,695.07 77.17,694.68 C77.88,694.29 78.92,693.46 79.75,693.02 C80.58,692.58 81.25,692.63 82.15,692.02 C83.05,691.42 84.31,689.98 85.14,689.37 C85.97,688.76 86.52,688.88 87.13,688.37 C87.74,687.86 88.21,686.81 88.79,686.30 C89.37,685.79 90.07,685.23 90.62,685.30 C91.17,685.37 91.93,682.38 92.11,686.71 C92.29,691.04 92.11,706.36 91.70,711.28 C91.28,716.20 90.80,715.15 89.62,716.26 C88.45,717.37 88.20,717.60 84.64,717.92 C81.08,718.24 74.27,718.17 68.25,718.17 C62.23,718.17 52.38,718.38 48.54,717.92 C44.70,717.46 46.02,717.09 45.22,715.43 C44.42,713.77 43.93,711.92 43.72,707.96 C43.52,704.00 43.86,695.10 43.97,691.69 C44.08,688.29 44.11,688.51 44.39,687.54 Z" fill="none" stroke="#222" stroke-width="0.6"/>
<path d="M46.98,690.48 C47.22,689.61 47.53,689.14 48.09,689.00 C48.64,688.85 49.69,689.64 50.30,689.59 C50.92,689.54 51.22,688.77 51.78,688.70 C52.35,688.63 53.09,688.77 53.71,689.14 C54.33,689.51 54.94,690.75 55.48,690.92 C56.03,691.09 56.41,690.13 56.97,690.18 C57.52,690.23 58.25,691.14 58.81,691.22 C59.38,691.29 59.81,690.50 60.37,690.62 C60.92,690.75 61.54,691.78 62.15,691.96 C62.75,692.13 63.38,691.47 63.99,691.66 C64.61,691.85 65.04,692.75 65.84,693.07 C66.65,693.39 67.94,693.28 68.81,693.58 C69.67,693.89 70.21,694.62 71.03,694.92 C71.84,695.21 73.07,694.94 73.69,695.36 C74.31,695.78 74.31,697.19 74.72,697.43 C75.14,697.68 75.58,697.19 76.20,696.84 C76.83,696.49 77.76,695.75 78.50,695.36 C79.24,694.97 79.84,695.01 80.64,694.47 C81.45,693.93 82.57,692.65 83.31,692.10 C84.05,691.56 84.54,691.67 85.09,691.22 C85.63,690.76 86.05,689.82 86.56,689.37 C87.08,688.91 87.70,688.42 88.19,688.48 C88.69,688.54 89.36,685.88 89.53,689.74 C89.69,693.60 89.53,707.25 89.16,711.64 C88.78,716.03 88.35,715.09 87.31,716.08 C86.26,717.07 86.04,717.28 82.86,717.56 C79.69,717.84 73.61,717.78 68.25,717.78 C62.88,717.78 54.10,717.97 50.67,717.56 C47.25,717.15 48.43,716.82 47.72,715.34 C47.00,713.86 46.57,712.21 46.38,708.68 C46.20,705.15 46.51,697.21 46.61,694.18 C46.70,691.14 46.73,691.34 46.98,690.48 Z" fill="none" stroke="#f0f0f0" stroke-width="0.7"/>
<path d="M48.41,692.11 C48.64,691.30 48.93,690.86 49.45,690.73 C49.97,690.59 50.94,691.32 51.52,691.28 C52.09,691.23 52.37,690.52 52.90,690.45 C53.43,690.38 54.12,690.52 54.69,690.86 C55.27,691.21 55.84,692.36 56.35,692.52 C56.85,692.68 57.21,691.78 57.73,691.83 C58.24,691.88 58.92,692.73 59.45,692.80 C59.98,692.87 60.38,692.13 60.90,692.24 C61.42,692.36 61.99,693.33 62.56,693.49 C63.12,693.65 63.71,693.04 64.28,693.21 C64.86,693.38 65.26,694.22 66.01,694.52 C66.75,694.82 67.96,694.72 68.77,695.00 C69.57,695.29 70.08,695.97 70.84,696.25 C71.60,696.52 72.75,696.27 73.32,696.66 C73.90,697.05 73.90,698.36 74.29,698.59 C74.68,698.82 75.08,698.36 75.67,698.04 C76.25,697.72 77.12,697.03 77.81,696.66 C78.50,696.29 79.06,696.34 79.81,695.83 C80.56,695.33 81.60,694.13 82.29,693.62 C82.98,693.12 83.44,693.22 83.95,692.80 C84.45,692.37 84.84,691.50 85.33,691.07 C85.81,690.65 86.39,690.19 86.85,690.24 C87.31,690.30 87.94,687.82 88.09,691.42 C88.24,695.02 88.09,707.75 87.74,711.84 C87.40,715.93 87.00,715.06 86.02,715.98 C85.04,716.90 84.84,717.10 81.88,717.36 C78.92,717.62 73.25,717.57 68.25,717.57 C63.25,717.57 55.05,717.74 51.86,717.36 C48.67,716.98 49.77,716.67 49.10,715.29 C48.44,713.91 48.03,712.37 47.86,709.08 C47.69,705.79 47.98,698.38 48.07,695.56 C48.16,692.73 48.18,692.91 48.41,692.11 Z" fill="none" stroke="#222" stroke-width="0.6"/>
<ellipse cx="44.3" cy="700" rx="5.2" ry="14.0" fill="#f2f2f2" stroke="#111" stroke-width="0.7" transform="rotate(0 44.3 700)"/>
<ellipse cx="44.3" cy="700" rx="4.237037037037037" ry="11.407407407407408" fill="#b0b0b0" stroke="#111" stroke-width="0.7" transform="rotate(0 44.3 700)"/>
<ellipse cx="44.3" cy="700" rx="3.274074074074074" ry="8.814814814814815" fill="#f2f2f2" stroke="#111" stroke-width="0.7" transform="rotate(0 44.3 700)"/>
<ellipse cx="44.3" cy="700" rx="2.311111111111112" ry="6.222222222222223" fill="#b0b0b0" stroke="#111" stroke-width="0.7" transform="rotate(0 44.3 700)"/>
<ellipse cx="44.3" cy="700" rx="1.3481481481481483" ry="3.62962962962963" fill="#f2f2f2" stroke="#111" stroke-width="0.7" transform="rotate(0 44.3 700)"/>
<ellipse cx="44.3" cy="700" rx="1.04" ry="2.8000000000000003" fill="#222" stroke="none" stroke-width="1" transform="rotate(0 44.3 700)"/>
<ellipse cx="61" cy="712.5" rx="9.0" ry="3.4" fill="#f2f2f2" stroke="#111" stroke-width="0.7" transform="rotate(0 61 712.5)"/>
<ellipse cx="61" cy="712.5" rx="6.352941176470588" ry="2.4" fill="#b0b0b0" stroke="#111" stroke-width="0.7" transform="rotate(0 61 712.5)"/>
<ellipse cx="61" cy="712.5" rx="3.705882352941176" ry="1.4" fill="#f2f2f2" stroke="#111" stroke-width="0.7" transform="rotate(0 61 712.5)"/>
<ellipse cx="61" cy="712.5" rx="1.8" ry="0.68" fill="#222" stroke="none" stroke-width="1" transform="rotate(0 61 712.5)"/>
<ellipse cx="85" cy="701" rx="5.5" ry="16.0" fill="#f2f2f2" stroke="#111" stroke-width="0.7" transform="rotate(35 85 701)"/>
<ellipse cx="85" cy="701" rx="4.481481481481482" ry="13.037037037037038" fill="#b0b0b0" stroke="#111" stroke-width="0.7" transform="rotate(35 85 701)"/>
<ellipse cx="85" cy="701" rx="3.4629629629629632" ry="10.074074074074074" fill="#f2f2f2" stroke="#111" stroke-width="0.7" transform="rotate(35 85 701)"/>
<ellipse cx="85" cy="701" rx="2.444444444444445" ry="7.1111111111111125" fill="#b0b0b0" stroke="#111" stroke-width="0.7" transform="rotate(35 85 701)"/>
<ellipse cx="85" cy="701" rx="1.425925925925926" ry="4.148148148148149" fill="#f2f2f2" stroke="#111" stroke-width="0.7" transform="rotate(35 85 701)"/>
<ellipse cx="85" cy="701" rx="1.1" ry="3.2" fill="#222" stroke="none" stroke-width="1" transform="rotate(35 85 701)"/>
<polyline points="39.50,682.00 41.00,680.00 44.00,680.80 46.00,679.60 48.60,680.20 51.00,682.60 53.00,681.60 55.50,683.00 57.60,682.20 60.00,684.00 62.50,683.60 65.00,685.50 69.00,686.20 72.00,688.00 75.60,688.60 77.00,691.40 79.00,690.60 82.10,688.60 85.00,687.40 88.60,684.20 91.00,683.00 93.00,680.50 95.20,679.30 97.00,681.00" fill="none" stroke="#0a0a0a" stroke-width="2.6" stroke-linejoin="round"/>
<polygon points="72.00,707.00 84.60,659.20 94.40,661.20 98.50,668.50 100.10,675.90 99.30,705.30 95.20,711.80 72.00,710.00" fill="none" stroke="#444" stroke-width="0.6"/>
<text x="52.5" y="646.6" font-size="7.8" text-anchor="start" fill="#222">WT</text>
<text x="99.9" y="648.4" font-size="7.8" text-anchor="end" fill="#222">Dead</text>
<text x="99.9" y="657.6" font-size="7.8" text-anchor="end" fill="#222">47.2</text>
<text x="30.5" y="731.5" font-size="6.8" text-anchor="middle" fill="#333">-10<tspan font-size="5" dy="-4.2">3</tspan></text>
<text x="42.3" y="731.5" font-size="6.8" text-anchor="middle" fill="#333">0</text>
<text x="57.5" y="731.5" font-size="6.8" text-anchor="middle" fill="#333">10<tspan font-size="5.0" dy="-4.2">3</tspan></text>
<text x="80.8" y="731.5" font-size="6.8" text-anchor="middle" fill="#333">10<tspan font-size="5.0" dy="-4.2">4</tspan></text>
<text x="99.2" y="731.5" font-size="6.8" text-anchor="middle" fill="#333">10<tspan font-size="5.0" dy="-4.2">5</tspan></text>
<line x1="31.5" y1="720.5" x2="31.5" y2="722.1" stroke="#333" stroke-width="0.5"/>
<line x1="42.3" y1="720.5" x2="42.3" y2="722.1" stroke="#333" stroke-width="0.5"/>
<line x1="56" y1="720.5" x2="56" y2="722.1" stroke="#333" stroke-width="0.5"/>
<line x1="79.3" y1="720.5" x2="79.3" y2="722.1" stroke="#333" stroke-width="0.5"/>
<line x1="97.7" y1="720.5" x2="97.7" y2="722.1" stroke="#333" stroke-width="0.5"/>
<ellipse cx="40.3" cy="720.0" rx="2" ry="1.6" fill="#111" stroke="none" stroke-width="1"/>
<rect x="108.1" y="637.8" width="82.1" height="83.20000000000005" fill="none" stroke="#bdbdbd" stroke-width="0.8" rx="0"/>
<line x1="107.1" y1="640.8" x2="108.1" y2="640.8" stroke="#aaa" stroke-width="0.4"/>
<line x1="107.1" y1="643.1999999999999" x2="108.1" y2="643.1999999999999" stroke="#aaa" stroke-width="0.4"/>
<line x1="107.1" y1="645.5999999999999" x2="108.1" y2="645.5999999999999" stroke="#aaa" stroke-width="0.4"/>
<line x1="107.1" y1="647.9999999999999" x2="108.1" y2="647.9999999999999" stroke="#aaa" stroke-width="0.4"/>
<line x1="107.1" y1="650.3999999999999" x2="108.1" y2="650.3999999999999" stroke="#aaa" stroke-width="0.4"/>
<line x1="107.1" y1="652.7999999999998" x2="108.1" y2="652.7999999999998" stroke="#aaa" stroke-width="0.4"/>
<line x1="107.1" y1="655.1999999999998" x2="108.1" y2="655.1999999999998" stroke="#aaa" stroke-width="0.4"/>
<line x1="107.1" y1="657.5999999999998" x2="108.1" y2="657.5999999999998" stroke="#aaa" stroke-width="0.4"/>
<line x1="107.1" y1="659.9999999999998" x2="108.1" y2="659.9999999999998" stroke="#aaa" stroke-width="0.4"/>
<line x1="107.1" y1="662.3999999999997" x2="108.1" y2="662.3999999999997" stroke="#aaa" stroke-width="0.4"/>
<line x1="107.1" y1="664.7999999999997" x2="108.1" y2="664.7999999999997" stroke="#aaa" stroke-width="0.4"/>
<line x1="107.1" y1="667.1999999999997" x2="108.1" y2="667.1999999999997" stroke="#aaa" stroke-width="0.4"/>
<line x1="107.1" y1="669.5999999999997" x2="108.1" y2="669.5999999999997" stroke="#aaa" stroke-width="0.4"/>
<line x1="107.1" y1="671.9999999999997" x2="108.1" y2="671.9999999999997" stroke="#aaa" stroke-width="0.4"/>
<line x1="107.1" y1="674.3999999999996" x2="108.1" y2="674.3999999999996" stroke="#aaa" stroke-width="0.4"/>
<line x1="107.1" y1="676.7999999999996" x2="108.1" y2="676.7999999999996" stroke="#aaa" stroke-width="0.4"/>
<line x1="107.1" y1="679.1999999999996" x2="108.1" y2="679.1999999999996" stroke="#aaa" stroke-width="0.4"/>
<line x1="107.1" y1="681.5999999999996" x2="108.1" y2="681.5999999999996" stroke="#aaa" stroke-width="0.4"/>
<line x1="107.1" y1="683.9999999999995" x2="108.1" y2="683.9999999999995" stroke="#aaa" stroke-width="0.4"/>
<line x1="107.1" y1="686.3999999999995" x2="108.1" y2="686.3999999999995" stroke="#aaa" stroke-width="0.4"/>
<line x1="107.1" y1="688.7999999999995" x2="108.1" y2="688.7999999999995" stroke="#aaa" stroke-width="0.4"/>
<line x1="107.1" y1="691.1999999999995" x2="108.1" y2="691.1999999999995" stroke="#aaa" stroke-width="0.4"/>
<line x1="107.1" y1="693.5999999999995" x2="108.1" y2="693.5999999999995" stroke="#aaa" stroke-width="0.4"/>
<line x1="107.1" y1="695.9999999999994" x2="108.1" y2="695.9999999999994" stroke="#aaa" stroke-width="0.4"/>
<line x1="107.1" y1="698.3999999999994" x2="108.1" y2="698.3999999999994" stroke="#aaa" stroke-width="0.4"/>
<line x1="107.1" y1="700.7999999999994" x2="108.1" y2="700.7999999999994" stroke="#aaa" stroke-width="0.4"/>
<line x1="107.1" y1="703.1999999999994" x2="108.1" y2="703.1999999999994" stroke="#aaa" stroke-width="0.4"/>
<line x1="107.1" y1="705.5999999999993" x2="108.1" y2="705.5999999999993" stroke="#aaa" stroke-width="0.4"/>
<line x1="107.1" y1="707.9999999999993" x2="108.1" y2="707.9999999999993" stroke="#aaa" stroke-width="0.4"/>
<line x1="107.1" y1="710.3999999999993" x2="108.1" y2="710.3999999999993" stroke="#aaa" stroke-width="0.4"/>
<line x1="107.1" y1="712.7999999999993" x2="108.1" y2="712.7999999999993" stroke="#aaa" stroke-width="0.4"/>
<line x1="107.1" y1="715.1999999999992" x2="108.1" y2="715.1999999999992" stroke="#aaa" stroke-width="0.4"/>
<line x1="107.1" y1="717.5999999999992" x2="108.1" y2="717.5999999999992" stroke="#aaa" stroke-width="0.4"/>
<path d="M125.50,681.00 C125.93,679.83 126.93,678.92 127.60,679.00 C128.27,679.08 128.80,681.23 129.50,681.50 C130.20,681.77 131.05,680.35 131.80,680.60 C132.55,680.85 133.03,682.57 134.00,683.00 C134.97,683.43 136.60,682.78 137.60,683.20 C138.60,683.62 139.02,685.37 140.00,685.50 C140.98,685.63 142.33,683.98 143.50,684.00 C144.67,684.02 145.88,685.47 147.00,685.60 C148.12,685.73 149.37,684.23 150.20,684.80 C151.03,685.37 151.45,687.87 152.00,689.00 C152.55,690.13 152.92,691.77 153.50,691.60 C154.08,691.43 154.67,688.87 155.50,688.00 C156.33,687.13 157.58,686.47 158.50,686.40 C159.42,686.33 160.15,687.83 161.00,687.60 C161.85,687.37 162.77,685.23 163.60,685.00 C164.43,684.77 165.17,686.23 166.00,686.20 C166.83,686.17 167.93,685.75 168.60,684.80 C169.27,683.85 169.45,681.58 170.00,680.50 C170.55,679.42 171.23,678.47 171.90,678.30 C172.57,678.13 173.15,679.85 174.00,679.50 C174.85,679.15 176.00,676.52 177.00,676.20 C178.00,675.88 179.03,677.40 180.00,677.60 C180.97,677.80 182.08,676.83 182.80,677.40 C183.52,677.97 184.13,675.40 184.30,681.00 C184.47,686.60 184.30,705.00 183.80,711.00 C183.30,717.00 182.72,715.67 181.30,717.00 C179.88,718.33 179.70,718.62 175.30,719.00 C170.90,719.38 162.37,719.30 154.90,719.30 C147.43,719.30 135.23,719.55 130.50,719.00 C125.77,718.45 127.47,718.00 126.50,716.00 C125.53,714.00 124.95,712.00 124.70,707.00 C124.45,702.00 124.87,690.33 125.00,686.00 C125.13,681.67 125.07,682.17 125.50,681.00 Z" fill="url(#gia)" stroke="#111" stroke-width="0.9"/>
<path d="M129.03,685.08 C129.41,684.05 130.29,683.25 130.88,683.32 C131.46,683.39 131.93,685.29 132.55,685.52 C133.16,685.75 133.91,684.51 134.57,684.73 C135.23,684.95 135.66,686.46 136.51,686.84 C137.36,687.22 138.80,686.65 139.68,687.02 C140.56,687.38 140.92,688.92 141.79,689.04 C142.65,689.16 143.84,687.71 144.87,687.72 C145.89,687.73 146.97,689.01 147.95,689.13 C148.93,689.25 150.03,687.93 150.76,688.42 C151.50,688.92 151.86,691.12 152.35,692.12 C152.83,693.12 153.15,694.55 153.67,694.41 C154.18,694.26 154.69,692.00 155.43,691.24 C156.16,690.48 157.26,689.89 158.07,689.83 C158.87,689.77 159.52,691.09 160.27,690.89 C161.02,690.68 161.82,688.81 162.56,688.60 C163.29,688.39 163.93,689.69 164.67,689.66 C165.40,689.63 166.37,689.26 166.96,688.42 C167.54,687.59 167.70,685.59 168.19,684.64 C168.67,683.69 169.27,682.85 169.86,682.70 C170.45,682.56 170.96,684.07 171.71,683.76 C172.46,683.45 173.47,681.13 174.35,680.86 C175.23,680.58 176.14,681.91 176.99,682.09 C177.84,682.26 178.82,681.41 179.45,681.91 C180.08,682.41 180.63,680.15 180.77,685.08 C180.92,690.01 180.77,706.20 180.33,711.48 C179.89,716.76 179.38,715.59 178.13,716.76 C176.89,717.93 176.72,718.18 172.85,718.52 C168.98,718.86 161.47,718.78 154.90,718.78 C148.33,718.78 137.59,719.00 133.43,718.52 C129.26,718.04 130.76,717.64 129.91,715.88 C129.06,714.12 128.54,712.36 128.32,707.96 C128.10,703.56 128.47,693.29 128.59,689.48 C128.71,685.67 128.65,686.11 129.03,685.08 Z" fill="none" stroke="#f0f0f0" stroke-width="0.7"/>
<path d="M130.50,686.78 C130.86,685.81 131.69,685.05 132.24,685.12 C132.79,685.19 133.24,686.97 133.82,687.20 C134.40,687.42 135.10,686.24 135.73,686.45 C136.35,686.66 136.75,688.08 137.55,688.44 C138.36,688.80 139.71,688.26 140.54,688.61 C141.37,688.95 141.72,690.40 142.53,690.51 C143.35,690.63 144.47,689.26 145.44,689.27 C146.41,689.28 147.42,690.49 148.34,690.60 C149.27,690.71 150.31,689.46 151.00,689.93 C151.69,690.40 152.04,692.48 152.49,693.42 C152.95,694.36 153.25,695.72 153.74,695.58 C154.22,695.44 154.71,693.31 155.40,692.59 C156.09,691.87 157.13,691.32 157.89,691.26 C158.65,691.21 159.26,692.45 159.96,692.26 C160.67,692.06 161.43,690.29 162.12,690.10 C162.81,689.91 163.42,691.12 164.11,691.10 C164.80,691.07 165.72,690.72 166.27,689.93 C166.82,689.15 166.98,687.26 167.43,686.37 C167.89,685.47 168.46,684.68 169.01,684.54 C169.56,684.40 170.05,685.83 170.75,685.53 C171.46,685.24 172.41,683.06 173.24,682.80 C174.07,682.53 174.93,683.79 175.73,683.96 C176.54,684.12 177.46,683.32 178.06,683.79 C178.65,684.26 179.16,682.13 179.30,686.78 C179.44,691.43 179.30,706.70 178.89,711.68 C178.47,716.66 177.99,715.55 176.81,716.66 C175.64,717.77 175.48,718.00 171.83,718.32 C168.18,718.64 161.10,718.57 154.90,718.57 C148.70,718.57 138.58,718.78 134.65,718.32 C130.72,717.86 132.13,717.49 131.33,715.83 C130.53,714.17 130.04,712.51 129.83,708.36 C129.63,704.21 129.97,694.53 130.08,690.93 C130.19,687.33 130.14,687.75 130.50,686.78 Z" fill="none" stroke="#222" stroke-width="0.6"/>
<path d="M133.14,689.84 C133.46,688.98 134.20,688.30 134.70,688.36 C135.19,688.42 135.59,690.01 136.10,690.21 C136.62,690.41 137.25,689.36 137.81,689.54 C138.36,689.73 138.72,691.00 139.43,691.32 C140.15,691.64 141.36,691.16 142.10,691.47 C142.84,691.78 143.15,693.07 143.87,693.17 C144.60,693.27 145.60,692.05 146.46,692.06 C147.33,692.07 148.23,693.15 149.05,693.24 C149.88,693.34 150.81,692.23 151.42,692.65 C152.04,693.07 152.35,694.92 152.75,695.76 C153.16,696.60 153.43,697.81 153.86,697.68 C154.30,697.56 154.73,695.66 155.34,695.02 C155.96,694.38 156.89,693.89 157.56,693.84 C158.24,693.79 158.78,694.90 159.41,694.72 C160.04,694.55 160.72,692.97 161.34,692.80 C161.95,692.63 162.50,693.71 163.11,693.69 C163.73,693.66 164.54,693.35 165.04,692.65 C165.53,691.95 165.67,690.27 166.07,689.47 C166.48,688.67 166.99,687.97 167.48,687.84 C167.97,687.72 168.41,688.99 169.03,688.73 C169.66,688.47 170.51,686.52 171.25,686.29 C171.99,686.05 172.76,687.18 173.47,687.32 C174.19,687.47 175.02,686.76 175.55,687.18 C176.08,687.60 176.53,685.70 176.66,689.84 C176.78,693.98 176.66,707.60 176.29,712.04 C175.92,716.48 175.48,715.49 174.44,716.48 C173.39,717.47 173.25,717.68 170.00,717.96 C166.74,718.24 160.43,718.18 154.90,718.18 C149.37,718.18 140.35,718.37 136.84,717.96 C133.34,717.55 134.60,717.22 133.88,715.74 C133.17,714.26 132.74,712.78 132.55,709.08 C132.37,705.38 132.68,696.75 132.77,693.54 C132.87,690.33 132.82,690.70 133.14,689.84 Z" fill="none" stroke="#f0f0f0" stroke-width="0.7"/>
<path d="M134.61,691.54 C134.91,690.73 135.60,690.10 136.06,690.16 C136.52,690.22 136.89,691.70 137.37,691.88 C137.86,692.07 138.44,691.09 138.96,691.26 C139.48,691.44 139.81,692.62 140.48,692.92 C141.15,693.22 142.27,692.77 142.96,693.06 C143.65,693.35 143.94,694.55 144.62,694.64 C145.30,694.74 146.23,693.60 147.03,693.61 C147.84,693.62 148.68,694.62 149.45,694.71 C150.22,694.81 151.08,693.77 151.66,694.16 C152.23,694.55 152.52,696.28 152.90,697.06 C153.28,697.84 153.53,698.97 153.93,698.85 C154.34,698.74 154.74,696.97 155.31,696.37 C155.89,695.77 156.75,695.31 157.38,695.27 C158.02,695.22 158.52,696.26 159.11,696.09 C159.70,695.93 160.33,694.46 160.90,694.30 C161.48,694.14 161.98,695.15 162.56,695.13 C163.13,695.11 163.89,694.82 164.35,694.16 C164.81,693.51 164.94,691.94 165.32,691.20 C165.70,690.45 166.17,689.79 166.63,689.68 C167.09,689.56 167.49,690.75 168.08,690.50 C168.67,690.26 169.46,688.45 170.15,688.23 C170.84,688.01 171.55,689.06 172.22,689.19 C172.89,689.33 173.66,688.67 174.15,689.06 C174.65,689.45 175.07,687.68 175.19,691.54 C175.30,695.40 175.19,708.10 174.84,712.24 C174.50,716.38 174.09,715.46 173.12,716.38 C172.14,717.30 172.01,717.50 168.98,717.76 C165.94,718.02 160.05,717.97 154.90,717.97 C149.75,717.97 141.33,718.14 138.06,717.76 C134.80,717.38 135.97,717.07 135.30,715.69 C134.64,714.31 134.23,712.93 134.06,709.48 C133.89,706.03 134.18,697.98 134.27,694.99 C134.36,692.00 134.31,692.35 134.61,691.54 Z" fill="none" stroke="#222" stroke-width="0.6"/>
<ellipse cx="130.5" cy="702" rx="5.0" ry="14.0" fill="#f2f2f2" stroke="#111" stroke-width="0.7" transform="rotate(0 130.5 702)"/>
<ellipse cx="130.5" cy="702" rx="4.074074074074074" ry="11.407407407407408" fill="#b0b0b0" stroke="#111" stroke-width="0.7" transform="rotate(0 130.5 702)"/>
<ellipse cx="130.5" cy="702" rx="3.1481481481481484" ry="8.814814814814815" fill="#f2f2f2" stroke="#111" stroke-width="0.7" transform="rotate(0 130.5 702)"/>
<ellipse cx="130.5" cy="702" rx="2.2222222222222228" ry="6.222222222222223" fill="#b0b0b0" stroke="#111" stroke-width="0.7" transform="rotate(0 130.5 702)"/>
<ellipse cx="130.5" cy="702" rx="1.2962962962962965" ry="3.62962962962963" fill="#f2f2f2" stroke="#111" stroke-width="0.7" transform="rotate(0 130.5 702)"/>
<ellipse cx="130.5" cy="702" rx="1.0" ry="2.8000000000000003" fill="#222" stroke="none" stroke-width="1" transform="rotate(0 130.5 702)"/>
<ellipse cx="145" cy="707" rx="7.0" ry="3.6" fill="#f2f2f2" stroke="#111" stroke-width="0.7" transform="rotate(0 145 707)"/>
<ellipse cx="145" cy="707" rx="4.941176470588235" ry="2.541176470588235" fill="#b0b0b0" stroke="#111" stroke-width="0.7" transform="rotate(0 145 707)"/>
<ellipse cx="145" cy="707" rx="2.8823529411764706" ry="1.4823529411764707" fill="#f2f2f2" stroke="#111" stroke-width="0.7" transform="rotate(0 145 707)"/>
<ellipse cx="145" cy="707" rx="1.4000000000000001" ry="0.7200000000000001" fill="#222" stroke="none" stroke-width="1" transform="rotate(0 145 707)"/>
<ellipse cx="171.5" cy="701" rx="6.5" ry="17.0" fill="#f2f2f2" stroke="#111" stroke-width="0.7" transform="rotate(30 171.5 701)"/>
<ellipse cx="171.5" cy="701" rx="5.296296296296297" ry="13.851851851851853" fill="#b0b0b0" stroke="#111" stroke-width="0.7" transform="rotate(30 171.5 701)"/>
<ellipse cx="171.5" cy="701" rx="4.092592592592593" ry="10.703703703703704" fill="#f2f2f2" stroke="#111" stroke-width="0.7" transform="rotate(30 171.5 701)"/>
<ellipse cx="171.5" cy="701" rx="2.8888888888888893" ry="7.555555555555557" fill="#b0b0b0" stroke="#111" stroke-width="0.7" transform="rotate(30 171.5 701)"/>
<ellipse cx="171.5" cy="701" rx="1.6851851851851856" ry="4.407407407407408" fill="#f2f2f2" stroke="#111" stroke-width="0.7" transform="rotate(30 171.5 701)"/>
<ellipse cx="171.5" cy="701" rx="1.3" ry="3.4000000000000004" fill="#222" stroke="none" stroke-width="1" transform="rotate(30 171.5 701)"/>
<ellipse cx="143" cy="694" rx="4.0" ry="4.0" fill="#f2f2f2" stroke="#111" stroke-width="0.7" transform="rotate(0 143 694)"/>
<ellipse cx="143" cy="694" rx="2.333333333333333" ry="2.333333333333333" fill="#b0b0b0" stroke="#111" stroke-width="0.7" transform="rotate(0 143 694)"/>
<ellipse cx="143" cy="694" rx="0.8" ry="0.8" fill="#222" stroke="none" stroke-width="1" transform="rotate(0 143 694)"/>
<polyline points="125.50,681.00 127.60,679.00 129.50,681.50 131.80,680.60 134.00,683.00 137.60,683.20 140.00,685.50 143.50,684.00 147.00,685.60 150.20,684.80 152.00,689.00 153.50,691.60 155.50,688.00 158.50,686.40 161.00,687.60 163.60,685.00 166.00,686.20 168.60,684.80 170.00,680.50 171.90,678.30 174.00,679.50 177.00,676.20 180.00,677.60 182.80,677.40 184.30,681.00" fill="none" stroke="#0a0a0a" stroke-width="2.6" stroke-linejoin="round"/>
<polygon points="160.20,705.30 170.30,659.30 177.80,661.00 182.80,667.60 185.30,678.50 185.30,705.30 181.10,712.00 160.00,712.00" fill="none" stroke="#444" stroke-width="0.6"/>
<text x="141.5" y="646.6" font-size="7.8" text-anchor="start" fill="#222">I/A</text>
<text x="185.5" y="648.4" font-size="7.8" text-anchor="end" fill="#222">Dead</text>
<text x="185.5" y="657.6" font-size="7.8" text-anchor="end" fill="#222">73.0</text>
<text x="115.7" y="731.5" font-size="6.8" text-anchor="middle" fill="#333">-10<tspan font-size="5" dy="-4.2">3</tspan></text>
<text x="127.2" y="731.5" font-size="6.8" text-anchor="middle" fill="#333">0</text>
<text x="144.1" y="731.5" font-size="6.8" text-anchor="middle" fill="#333">10<tspan font-size="5.0" dy="-4.2">3</tspan></text>
<text x="166.3" y="731.5" font-size="6.8" text-anchor="middle" fill="#333">10<tspan font-size="5.0" dy="-4.2">4</tspan></text>
<text x="186.4" y="731.5" font-size="6.8" text-anchor="middle" fill="#333">10<tspan font-size="5.0" dy="-4.2">5</tspan></text>
<line x1="116.7" y1="721" x2="116.7" y2="722.6" stroke="#333" stroke-width="0.5"/>
<line x1="127.2" y1="721" x2="127.2" y2="722.6" stroke="#333" stroke-width="0.5"/>
<line x1="142.6" y1="721" x2="142.6" y2="722.6" stroke="#333" stroke-width="0.5"/>
<line x1="164.8" y1="721" x2="164.8" y2="722.6" stroke="#333" stroke-width="0.5"/>
<line x1="184.9" y1="721" x2="184.9" y2="722.6" stroke="#333" stroke-width="0.5"/>
<ellipse cx="125.2" cy="720.5" rx="2" ry="1.6" fill="#111" stroke="none" stroke-width="1"/>
<text x="18.6" y="644.9000000000001" font-size="6" text-anchor="end" fill="#333">250K</text>
<line x1="19.8" y1="642.7" x2="22.2" y2="642.7" stroke="#333" stroke-width="0.6"/>
<text x="18.6" y="660.1" font-size="6" text-anchor="end" fill="#333">200K</text>
<line x1="19.8" y1="657.9" x2="22.2" y2="657.9" stroke="#333" stroke-width="0.6"/>
<text x="18.6" y="676.0" font-size="6" text-anchor="end" fill="#333">150K</text>
<line x1="19.8" y1="673.8" x2="22.2" y2="673.8" stroke="#333" stroke-width="0.6"/>
<text x="18.6" y="691.4000000000001" font-size="6" text-anchor="end" fill="#333">100K</text>
<line x1="19.8" y1="689.2" x2="22.2" y2="689.2" stroke="#333" stroke-width="0.6"/>
<text x="18.6" y="707.1" font-size="6" text-anchor="end" fill="#333">50K</text>
<line x1="19.8" y1="704.9" x2="22.2" y2="704.9" stroke="#333" stroke-width="0.6"/>
<text x="18.6" y="720.4000000000001" font-size="6" text-anchor="end" fill="#333">0</text>
<line x1="19.8" y1="718.2" x2="22.2" y2="718.2" stroke="#333" stroke-width="0.6"/>
<text x="10.2" y="738.3" font-size="7.3" text-anchor="start" fill="#222">Live/Dead</text>
<line x1="45.5" y1="736" x2="137.60000000000002" y2="736.0" stroke="#222" stroke-width="0.9"/>
<path d="M140.80,736.00 L137.60,737.50 L137.60,734.50 Z" fill="#222" stroke="none" stroke-width="1"/>
<line x1="220.5" y1="647.5" x2="220.5" y2="716.0" stroke="#111" stroke-width="1"/>
<line x1="218.5" y1="648" x2="220.5" y2="648" stroke="#222" stroke-width="0.9"/>
<text x="218.1" y="650.5" font-size="7" text-anchor="end" fill="#222">80</text>
<line x1="218.5" y1="665" x2="220.5" y2="665" stroke="#222" stroke-width="0.9"/>
<text x="218.1" y="667.5" font-size="7" text-anchor="end" fill="#222">60</text>
<line x1="218.5" y1="681.75" x2="220.5" y2="681.75" stroke="#222" stroke-width="0.9"/>
<text x="218.1" y="684.25" font-size="7" text-anchor="end" fill="#222">40</text>
<line x1="218.5" y1="698.75" x2="220.5" y2="698.75" stroke="#222" stroke-width="0.9"/>
<text x="218.1" y="701.25" font-size="7" text-anchor="end" fill="#222">20</text>
<line x1="218.5" y1="715" x2="220.5" y2="715" stroke="#222" stroke-width="0.9"/>
<text x="218.1" y="717.5" font-size="7" text-anchor="end" fill="#222">0</text>
<rect x="221.3" y="680.5" width="12.5" height="35.0" fill="#fff" stroke="#222" stroke-width="1.25" rx="0"/>
<rect x="237" y="657" width="11.800000000000011" height="58.5" fill="#fff" stroke="#d83030" stroke-width="1.25" rx="0"/>
<line x1="220.5" y1="715.5" x2="250.3" y2="715.5" stroke="#111" stroke-width="1"/>
<line x1="227.55" y1="715.5" x2="227.55" y2="717.3" stroke="#222" stroke-width="0.9"/>
<line x1="242.9" y1="715.5" x2="242.9" y2="717.3" stroke="#222" stroke-width="0.9"/>
<path d="M227.5,648.1 V644.5 H242 V648.1" fill="none" stroke="#222" stroke-width="1.0"/>
<circle cx="229.35" cy="641.3" r="1.15" fill="#111" stroke="none" stroke-width="1"/>
<circle cx="232.95" cy="641.3" r="1.15" fill="#111" stroke="none" stroke-width="1"/>
<circle cx="236.55" cy="641.3" r="1.15" fill="#111" stroke="none" stroke-width="1"/>
<circle cx="240.15" cy="641.3" r="1.15" fill="#111" stroke="none" stroke-width="1"/>
<text x="227.55" y="724.5" font-size="7.2" text-anchor="middle" fill="#222">WT</text>
<text x="242.9" y="724.5" font-size="7.2" text-anchor="middle" fill="#222">I/A</text>
<text x="203.5" y="681.5" font-size="7" text-anchor="middle" fill="#222" transform="rotate(-90 203.5 681.5)">Dead (%)</text>
<circle cx="223.5" cy="680.5" r="1.7" fill="#fff" stroke="#222" stroke-width="1.0"/>
<circle cx="227" cy="679" r="1.7" fill="#fff" stroke="#222" stroke-width="1.0"/>
<circle cx="230.5" cy="681" r="1.7" fill="#fff" stroke="#222" stroke-width="1.0"/>
<circle cx="224" cy="683" r="1.7" fill="#fff" stroke="#222" stroke-width="1.0"/>
<path d="M239,655.5 L240.9,658.8 L237.1,658.8 Z" fill="#fff" stroke="#d83030" stroke-width="0.9"/>
<path d="M243,654 L244.9,657.3 L241.1,657.3 Z" fill="#fff" stroke="#d83030" stroke-width="0.9"/>
<path d="M247,655.5 L248.9,658.8 L245.1,658.8 Z" fill="#fff" stroke="#d83030" stroke-width="0.9"/>
<text x="265" y="627" font-size="13.4" text-anchor="start" fill="#111" font-weight="bold">J</text>
<line x1="290.5" y1="647.5" x2="290.5" y2="716.0" stroke="#111" stroke-width="1"/>
<line x1="288.5" y1="648" x2="290.5" y2="648" stroke="#222" stroke-width="0.9"/>
<text x="288.1" y="650.5" font-size="7" text-anchor="end" fill="#222">54</text>
<line x1="288.5" y1="670.5" x2="290.5" y2="670.5" stroke="#222" stroke-width="0.9"/>
<text x="288.1" y="673.0" font-size="7" text-anchor="end" fill="#222">36</text>
<line x1="288.5" y1="693" x2="290.5" y2="693" stroke="#222" stroke-width="0.9"/>
<text x="288.1" y="695.5" font-size="7" text-anchor="end" fill="#222">18</text>
<line x1="288.5" y1="715" x2="290.5" y2="715" stroke="#222" stroke-width="0.9"/>
<text x="288.1" y="717.5" font-size="7" text-anchor="end" fill="#222">0</text>
<rect x="292" y="663" width="11" height="52.5" fill="#fff" stroke="#222" stroke-width="1.25" rx="0"/>
<rect x="306.3" y="654.5" width="11.199999999999989" height="61.0" fill="#fff" stroke="#d83030" stroke-width="1.25" rx="0"/>
<line x1="290.5" y1="715.5" x2="319.0" y2="715.5" stroke="#111" stroke-width="1"/>
<line x1="297.5" y1="715.5" x2="297.5" y2="717.3" stroke="#222" stroke-width="0.9"/>
<line x1="311.9" y1="715.5" x2="311.9" y2="717.3" stroke="#222" stroke-width="0.9"/>
<path d="M296.3,648.1 V644.5 H311.3 V648.1" fill="none" stroke="#222" stroke-width="1.0"/>
<circle cx="302.0" cy="641.3" r="1.15" fill="#111" stroke="none" stroke-width="1"/>
<circle cx="305.6" cy="641.3" r="1.15" fill="#111" stroke="none" stroke-width="1"/>
<text x="297.5" y="724.5" font-size="7.2" text-anchor="middle" fill="#222">WT</text>
<text x="311.9" y="724.5" font-size="7.2" text-anchor="middle" fill="#222">I/A</text>
<text x="272.5" y="681.3" font-size="7.7" text-anchor="middle" fill="#222" transform="rotate(-90 272.5 681.3)">LDH release (%)</text>
<circle cx="294" cy="660" r="1.7" fill="#fff" stroke="#222" stroke-width="1.0"/>
<circle cx="298" cy="658" r="1.7" fill="#fff" stroke="#222" stroke-width="1.0"/>
<circle cx="301.5" cy="660.5" r="1.7" fill="#fff" stroke="#222" stroke-width="1.0"/>
<circle cx="294.5" cy="665" r="1.7" fill="#fff" stroke="#222" stroke-width="1.0"/>
<circle cx="301" cy="664.5" r="1.7" fill="#fff" stroke="#222" stroke-width="1.0"/>
<path d="M308,653 L309.9,656.3 L306.1,656.3 Z" fill="#fff" stroke="#d83030" stroke-width="0.9"/>
<path d="M312,651 L313.9,654.3 L310.1,654.3 Z" fill="#fff" stroke="#d83030" stroke-width="0.9"/>
<path d="M316,652.5 L317.9,655.8 L314.1,655.8 Z" fill="#fff" stroke="#d83030" stroke-width="0.9"/>
<text x="330.5" y="627" font-size="13.4" text-anchor="start" fill="#111" font-weight="bold">K</text>
<text x="417.3" y="631.3" font-size="7.65" text-anchor="middle" fill="#222">A375-NY-ESO-1</text>
<line x1="365" y1="641" x2="365" y2="708.25" stroke="#222" stroke-width="1"/>
<line x1="363" y1="641.25" x2="365" y2="641.25" stroke="#222" stroke-width="0.9"/>
<text x="362.4" y="643.75" font-size="7" text-anchor="end" fill="#222">200</text>
<line x1="363" y1="658" x2="365" y2="658" stroke="#222" stroke-width="0.9"/>
<text x="362.4" y="660.5" font-size="7" text-anchor="end" fill="#222">150</text>
<line x1="363" y1="675" x2="365" y2="675" stroke="#222" stroke-width="0.9"/>
<text x="362.4" y="677.5" font-size="7" text-anchor="end" fill="#222">100</text>
<line x1="363" y1="692" x2="365" y2="692" stroke="#222" stroke-width="0.9"/>
<text x="362.4" y="694.5" font-size="7" text-anchor="end" fill="#222">50</text>
<line x1="363" y1="708.25" x2="365" y2="708.25" stroke="#222" stroke-width="0.9"/>
<text x="362.4" y="710.75" font-size="7" text-anchor="end" fill="#222">0</text>
<line x1="365" y1="708.25" x2="465.8" y2="708.25" stroke="#222" stroke-width="1"/>
<line x1="373.75" y1="708.25" x2="373.75" y2="710.3" stroke="#222" stroke-width="0.9"/>
<text x="373.75" y="718.8" font-size="7" text-anchor="middle" fill="#222">0</text>
<line x1="387.5" y1="708.25" x2="387.5" y2="710.3" stroke="#222" stroke-width="0.9"/>
<text x="387.5" y="718.8" font-size="7" text-anchor="middle" fill="#222">2</text>
<line x1="401.25" y1="708.25" x2="401.25" y2="710.3" stroke="#222" stroke-width="0.9"/>
<text x="401.25" y="718.8" font-size="7" text-anchor="middle" fill="#222">4</text>
<line x1="415" y1="708.25" x2="415" y2="710.3" stroke="#222" stroke-width="0.9"/>
<text x="415" y="718.8" font-size="7" text-anchor="middle" fill="#222">6</text>
<line x1="428.75" y1="708.25" x2="428.75" y2="710.3" stroke="#222" stroke-width="0.9"/>
<text x="428.75" y="718.8" font-size="7" text-anchor="middle" fill="#222">8</text>
<line x1="442.8" y1="708.25" x2="442.8" y2="710.3" stroke="#222" stroke-width="0.9"/>
<text x="442.8" y="718.8" font-size="7" text-anchor="middle" fill="#222">11</text>
<line x1="456.9" y1="708.25" x2="456.9" y2="710.3" stroke="#222" stroke-width="0.9"/>
<text x="456.9" y="718.8" font-size="7" text-anchor="middle" fill="#222">13</text>
<text x="415.6" y="729.6" font-size="7.3" text-anchor="middle" fill="#222">Days after adoptive cell transfer</text>
<text x="343.6" y="673" font-size="7.35" text-anchor="middle" fill="#222" transform="rotate(-90 343.6 673)">Tumor volume (mm<tspan font-size="4.9" dy="-2.8">3</tspan><tspan dy="2.8">)</tspan></text>
<polyline points="373.75,689.83 387.5,694.18 401.25,692.17 415,689.49 428.75,692.17 442.8,687.14 456.9,677.10" fill="none" stroke="#d03238" stroke-width="1.4"/>
<polyline points="373.75,689.83 387.5,689.83 401.25,687.14 415,684.80 428.75,685.47 442.8,676.42 456.9,658.00" fill="none" stroke="#111" stroke-width="1.4"/>
<line x1="373.75" y1="690.83" x2="373.75" y2="688.82" stroke="#d03238" stroke-width="1.0"/>
<line x1="372.35" y1="688.82" x2="375.15" y2="688.82" stroke="#d03238" stroke-width="1.0"/>
<line x1="372.35" y1="690.83" x2="375.15" y2="690.83" stroke="#d03238" stroke-width="1.0"/>
<circle cx="373.75" cy="689.825" r="1.9" fill="#d03238" stroke="none" stroke-width="1"/>
<line x1="387.5" y1="695.52" x2="387.5" y2="692.84" stroke="#d03238" stroke-width="1.0"/>
<line x1="386.1" y1="692.84" x2="388.9" y2="692.84" stroke="#d03238" stroke-width="1.0"/>
<line x1="386.1" y1="695.52" x2="388.9" y2="695.52" stroke="#d03238" stroke-width="1.0"/>
<circle cx="387.5" cy="694.18" r="1.9" fill="#d03238" stroke="none" stroke-width="1"/>
<line x1="401.25" y1="693.845" x2="401.25" y2="690.495" stroke="#d03238" stroke-width="1.0"/>
<line x1="399.85" y1="690.495" x2="402.65" y2="690.495" stroke="#d03238" stroke-width="1.0"/>
<line x1="399.85" y1="693.845" x2="402.65" y2="693.845" stroke="#d03238" stroke-width="1.0"/>
<circle cx="401.25" cy="692.17" r="1.9" fill="#d03238" stroke="none" stroke-width="1"/>
<line x1="415" y1="691.835" x2="415" y2="687.145" stroke="#d03238" stroke-width="1.0"/>
<line x1="413.6" y1="687.145" x2="416.4" y2="687.145" stroke="#d03238" stroke-width="1.0"/>
<line x1="413.6" y1="691.835" x2="416.4" y2="691.835" stroke="#d03238" stroke-width="1.0"/>
<circle cx="415" cy="689.49" r="1.9" fill="#d03238" stroke="none" stroke-width="1"/>
<line x1="428.75" y1="693.845" x2="428.75" y2="690.495" stroke="#d03238" stroke-width="1.0"/>
<line x1="427.35" y1="690.495" x2="430.15" y2="690.495" stroke="#d03238" stroke-width="1.0"/>
<line x1="427.35" y1="693.845" x2="430.15" y2="693.845" stroke="#d03238" stroke-width="1.0"/>
<circle cx="428.75" cy="692.17" r="1.9" fill="#d03238" stroke="none" stroke-width="1"/>
<line x1="442.8" y1="688.82" x2="442.8" y2="685.47" stroke="#d03238" stroke-width="1.0"/>
<line x1="441.40000000000003" y1="685.47" x2="444.2" y2="685.47" stroke="#d03238" stroke-width="1.0"/>
<line x1="441.40000000000003" y1="688.82" x2="444.2" y2="688.82" stroke="#d03238" stroke-width="1.0"/>
<circle cx="442.8" cy="687.145" r="1.9" fill="#d03238" stroke="none" stroke-width="1"/>
<line x1="456.9" y1="679.775" x2="456.9" y2="674.415" stroke="#d03238" stroke-width="1.0"/>
<line x1="455.5" y1="674.415" x2="458.29999999999995" y2="674.415" stroke="#d03238" stroke-width="1.0"/>
<line x1="455.5" y1="679.775" x2="458.29999999999995" y2="679.775" stroke="#d03238" stroke-width="1.0"/>
<circle cx="456.9" cy="677.095" r="1.9" fill="#d03238" stroke="none" stroke-width="1"/>
<line x1="373.75" y1="690.83" x2="373.75" y2="688.82" stroke="#111" stroke-width="1.0"/>
<line x1="372.35" y1="688.82" x2="375.15" y2="688.82" stroke="#111" stroke-width="1.0"/>
<line x1="372.35" y1="690.83" x2="375.15" y2="690.83" stroke="#111" stroke-width="1.0"/>
<circle cx="373.75" cy="689.825" r="1.9" fill="#111" stroke="none" stroke-width="1"/>
<line x1="387.5" y1="691.835" x2="387.5" y2="687.815" stroke="#111" stroke-width="1.0"/>
<line x1="386.1" y1="687.815" x2="388.9" y2="687.815" stroke="#111" stroke-width="1.0"/>
<line x1="386.1" y1="691.835" x2="388.9" y2="691.835" stroke="#111" stroke-width="1.0"/>
<circle cx="387.5" cy="689.825" r="1.9" fill="#111" stroke="none" stroke-width="1"/>
<line x1="401.25" y1="689.155" x2="401.25" y2="685.135" stroke="#111" stroke-width="1.0"/>
<line x1="399.85" y1="685.135" x2="402.65" y2="685.135" stroke="#111" stroke-width="1.0"/>
<line x1="399.85" y1="689.155" x2="402.65" y2="689.155" stroke="#111" stroke-width="1.0"/>
<circle cx="401.25" cy="687.145" r="1.9" fill="#111" stroke="none" stroke-width="1"/>
<line x1="415" y1="686.475" x2="415" y2="683.125" stroke="#111" stroke-width="1.0"/>
<line x1="413.6" y1="683.125" x2="416.4" y2="683.125" stroke="#111" stroke-width="1.0"/>
<line x1="413.6" y1="686.475" x2="416.4" y2="686.475" stroke="#111" stroke-width="1.0"/>
<circle cx="415" cy="684.8" r="1.9" fill="#111" stroke="none" stroke-width="1"/>
<line x1="428.75" y1="687.145" x2="428.75" y2="683.795" stroke="#111" stroke-width="1.0"/>
<line x1="427.35" y1="683.795" x2="430.15" y2="683.795" stroke="#111" stroke-width="1.0"/>
<line x1="427.35" y1="687.145" x2="430.15" y2="687.145" stroke="#111" stroke-width="1.0"/>
<circle cx="428.75" cy="685.47" r="1.9" fill="#111" stroke="none" stroke-width="1"/>
<line x1="442.8" y1="678.77" x2="442.8" y2="674.08" stroke="#111" stroke-width="1.0"/>
<line x1="441.40000000000003" y1="674.08" x2="444.2" y2="674.08" stroke="#111" stroke-width="1.0"/>
<line x1="441.40000000000003" y1="678.77" x2="444.2" y2="678.77" stroke="#111" stroke-width="1.0"/>
<circle cx="442.8" cy="676.425" r="1.9" fill="#111" stroke="none" stroke-width="1"/>
<line x1="456.9" y1="666.71" x2="456.9" y2="649.29" stroke="#111" stroke-width="1.0"/>
<line x1="455.5" y1="649.29" x2="458.29999999999995" y2="649.29" stroke="#111" stroke-width="1.0"/>
<line x1="455.5" y1="666.71" x2="458.29999999999995" y2="666.71" stroke="#111" stroke-width="1.0"/>
<circle cx="456.9" cy="658.0" r="1.9" fill="#111" stroke="none" stroke-width="1"/>
<line x1="369.1" y1="641.7" x2="377.2" y2="641.7" stroke="#111" stroke-width="1.3"/>
<circle cx="373.4" cy="641.7" r="1.8" fill="#111" stroke="none" stroke-width="1"/>
<text x="381" y="644.5" font-size="7.4" text-anchor="start" fill="#222">WT-1G4</text>
<line x1="369.1" y1="652.9" x2="377.2" y2="652.9" stroke="#d03238" stroke-width="1.3"/>
<circle cx="373.4" cy="652.9" r="1.8" fill="#d03238" stroke="none" stroke-width="1"/>
<text x="381" y="655.6" font-size="7.4" text-anchor="start" fill="#222">I/A -1G4</text>
<path d="M462.3,658.5 H466.5 V677.1 H462.3" fill="none" stroke="#222" stroke-width="0.9"/>
<circle cx="471.5" cy="667" r="1.15" fill="#111" stroke="none" stroke-width="1"/>
</svg></body></html>
